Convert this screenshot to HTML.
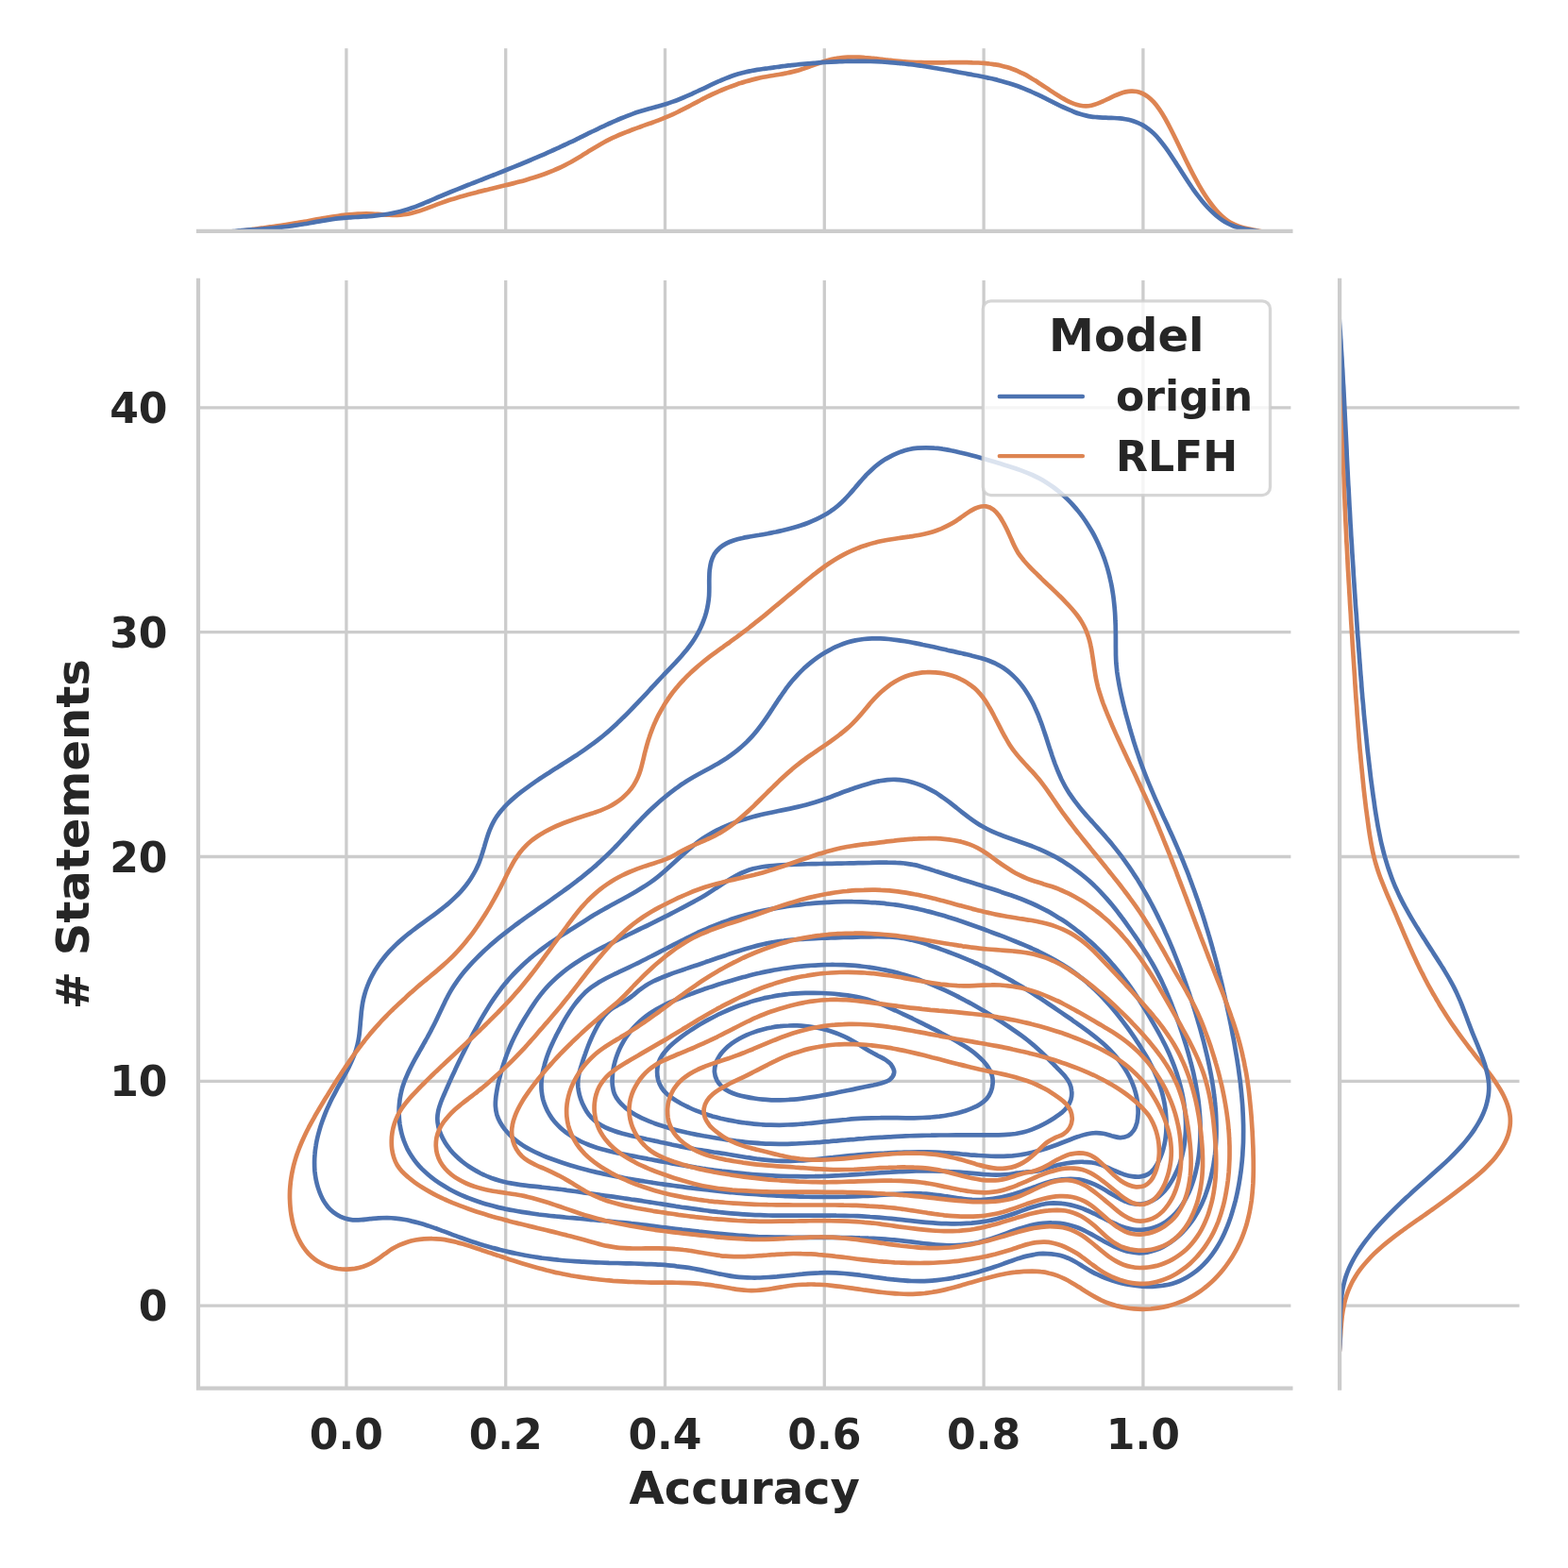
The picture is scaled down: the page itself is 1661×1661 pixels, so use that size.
<!DOCTYPE html>
<html lang="en"><head><meta charset="utf-8"><title>Accuracy vs # Statements</title>
<style>html,body{margin:0;padding:0;background:#fff}svg{display:block}text{font-family:"DejaVu Sans","Liberation Sans",sans-serif;font-weight:bold;fill:#262626}</style></head><body>
<svg xmlns="http://www.w3.org/2000/svg" width="1661" height="1661" viewBox="0 0 1661 1661">
<rect width="1661" height="1661" fill="#fff"/>
<defs><clipPath id="cm"><rect x="210" y="296.9" width="1157.4" height="1173.7"/></clipPath>
<clipPath id="ct"><rect x="210" y="51.2" width="1157.4" height="193.7"/></clipPath>
<clipPath id="cr"><rect x="1419.1" y="296.9" width="190.4" height="1173.7"/></clipPath></defs>
<path d="M366.9,296.9V1470.6M366.9,51.2V244.9M535.7,296.9V1470.6M535.7,51.2V244.9M704.5,296.9V1470.6M704.5,51.2V244.9M873.3,296.9V1470.6M873.3,51.2V244.9M1042.1,296.9V1470.6M1042.1,51.2V244.9M1210.9,296.9V1470.6M1210.9,51.2V244.9M210,1383.1H1367.4M1419.1,1383.1H1609.5M210,1145.3H1367.4M1419.1,1145.3H1609.5M210,907.5H1367.4M1419.1,907.5H1609.5M210,669.7H1367.4M1419.1,669.7H1609.5M210,431.9H1367.4M1419.1,431.9H1609.5" stroke="#cccccc" stroke-width="3.3" fill="none"/>
<g clip-path="url(#cm)"><path d="M356.1,1155.3c1.4-2.7 2.9-5.3 4.3-7.9c1.5-2.7 3-5.3 4.4-7.9c1.4-2.7 2.9-5.3 4.2-8c1.3-2.7 2.6-5.3 3.8-8.1c1.2-2.7 2.3-5.4 3.3-8.2c1-2.8 1.8-5.6 2.5-8.5c.7-2.8 1.3-5.7 1.7-8.7c.5-2.9 .7-5.9 1-8.9c.3-3 .5-6 .8-9c.3-3 .5-6 .8-9c.4-3 .8-6 1.3-8.9c.5-2.9 1.2-5.9 2-8.7c.8-2.9 1.7-5.7 2.8-8.5c1.1-2.8 2.2-5.6 3.5-8.2c1.3-2.7 2.7-5.4 4.2-8c1.6-2.5 3.2-5 4.9-7.5c1.7-2.5 3.5-4.8 5.3-7.1c1.9-2.4 3.9-4.6 5.9-6.8c2-2.1 4.1-4.2 6.2-6.3c2.2-2.1 4.4-4.1 6.6-6c2.3-2 4.6-3.9 6.9-5.8c2.3-1.8 4.7-3.7 7.1-5.5c2.4-1.8 4.8-3.6 7.2-5.3c2.5-1.8 4.9-3.6 7.3-5.4c2.4-1.7 4.9-3.5 7.3-5.3c2.4-1.8 4.8-3.6 7.1-5.4c2.3-1.9 4.6-3.7 6.9-5.7c2.2-1.9 4.5-3.9 6.6-6c2.1-2.1 4.2-4.2 6.2-6.4c2-2.2 3.9-4.5 5.7-6.8c1.8-2.4 3.5-4.8 5.1-7.3c1.6-2.5 3.1-5.1 4.5-7.7c1.4-2.6 2.6-5.4 3.8-8.1c1.1-2.8 2.1-5.7 3-8.5c.9-2.9 1.8-5.9 2.7-8.8c.8-2.9 1.7-5.8 2.6-8.7c.9-2.9 1.8-5.7 2.9-8.5c1.1-2.8 2.2-5.5 3.6-8.1c1.4-2.6 2.9-5.1 4.5-7.5c1.7-2.4 3.5-4.7 5.5-6.9c1.9-2.3 3.9-4.4 6.1-6.5c2.1-2.1 4.4-4.1 6.6-6c2.3-2 4.7-3.9 7-5.7c2.4-1.9 4.8-3.7 7.2-5.4c2.5-1.8 4.9-3.5 7.4-5.2c2.5-1.7 4.9-3.4 7.4-5c2.5-1.7 5.1-3.3 7.6-4.9c2.5-1.7 5-3.3 7.6-4.9c2.5-1.6 5-3.1 7.5-4.8c2.5-1.6 5.1-3.1 7.6-4.8c2.5-1.6 5-3.2 7.5-4.8c2.5-1.7 4.9-3.3 7.4-5c2.4-1.7 4.8-3.4 7.2-5.2c2.4-1.7 4.8-3.5 7.1-5.3c2.4-1.9 4.7-3.7 7-5.6c2.2-1.9 4.5-3.9 6.7-5.9c2.2-2 4.4-4 6.6-6c2.1-2 4.3-4.1 6.4-6.2c2.2-2.1 4.3-4.2 6.4-6.4c2.1-2.1 4.2-4.2 6.2-6.4c2.1-2.2 4.2-4.4 6.2-6.6c2.1-2.1 4.1-4.3 6.2-6.5c2-2.2 4.1-4.4 6.1-6.6c2.1-2.2 4.1-4.4 6.1-6.6c2.1-2.2 4.2-4.4 6.2-6.6c2.1-2.1 4.2-4.3 6.2-6.4c2.1-2.2 4.2-4.4 6.2-6.5c2-2.2 4-4.4 6-6.6c1.9-2.3 3.8-4.5 5.7-6.8c1.8-2.3 3.6-4.7 5.3-7.1c1.7-2.4 3.3-4.9 4.8-7.5c1.5-2.5 2.9-5.2 4.2-7.9c1.3-2.7 2.5-5.5 3.5-8.3c1.1-2.8 2-5.7 2.8-8.6c.8-2.9 1.4-5.8 1.9-8.8c.5-3 .9-5.9 1.1-8.9c.2-3 .2-6 .2-9c0-3-.1-6 0-9c.1-3 .1-6 .4-9c.4-3 .8-6 1.6-8.9c.8-2.8 1.9-5.6 3.3-8.1c1.5-2.4 3.4-4.6 5.6-6.5c2.1-1.9 4.7-3.6 7.3-5c2.6-1.4 5.4-2.4 8.3-3.4c2.9-.9 5.8-1.6 8.8-2.2c2.9-.7 5.9-1.1 8.9-1.7c3-.5 6-1 8.9-1.5c3-.6 5.9-1.1 8.8-1.6c2.9-.6 5.9-1.1 8.8-1.7c2.9-.7 5.8-1.3 8.6-2c2.9-.7 5.8-1.4 8.7-2.2c2.8-.8 5.7-1.6 8.5-2.6c2.9-.9 5.7-1.9 8.5-3c2.8-1.1 5.6-2.3 8.3-3.6c2.7-1.2 5.4-2.6 8-4.1c2.6-1.4 5.2-3 7.6-4.7c2.5-1.6 4.9-3.4 7.1-5.3c2.3-1.9 4.4-4 6.5-6c2.1-2.1 4.1-4.3 6.1-6.5c2-2.2 3.9-4.5 5.9-6.8c1.9-2.2 3.8-4.5 5.8-6.8c2-2.2 4-4.5 6-6.7c2.1-2.1 4.2-4.2 6.5-6.3c2.2-2 4.5-3.9 6.9-5.7c2.4-1.8 4.9-3.5 7.5-5.1c2.6-1.5 5.2-3 7.9-4.3c2.7-1.2 5.5-2.4 8.3-3.4c2.8-.9 5.6-1.7 8.5-2.4c2.9-.6 5.8-1 8.7-1.3c2.9-.3 5.9-.4 8.9-.4c2.9 0 5.9 .1 8.9 .4c3 .2 6 .6 9 1c2.9 .5 5.9 1 8.9 1.6c3 .5 5.9 1.2 8.8 1.9c3 .6 5.9 1.3 8.8 2.1c2.8 .7 5.7 1.5 8.6 2.3c2.8 .8 5.7 1.6 8.5 2.4c2.9 .8 5.7 1.7 8.6 2.5c2.8 .9 5.7 1.7 8.5 2.6c2.9 .9 5.7 1.7 8.6 2.6c2.9 .9 5.7 1.8 8.5 2.8c2.9 1 5.7 2 8.5 3.1c2.8 1 5.6 2.2 8.3 3.4c2.7 1.2 5.4 2.5 8 3.9c2.6 1.4 5.2 2.9 7.7 4.5c2.5 1.6 5 3.3 7.4 5.1c2.4 1.8 4.7 3.6 7 5.6c2.3 1.9 4.5 3.9 6.6 6c2.2 2.1 4.3 4.2 6.3 6.5c2 2.2 3.9 4.4 5.8 6.8c1.9 2.3 3.7 4.7 5.4 7.1c1.7 2.4 3.4 4.9 5 7.4c1.6 2.5 3.1 5 4.6 7.6c1.5 2.6 2.9 5.3 4.2 8c1.3 2.6 2.6 5.4 3.7 8.1c1.2 2.7 2.4 5.5 3.4 8.3c1.1 2.8 2.1 5.6 3 8.5c.9 2.8 1.8 5.7 2.6 8.6c.8 2.8 1.5 5.8 2.1 8.7c.7 2.9 1.3 5.8 1.8 8.8c.5 2.9 1 5.8 1.4 8.8c.4 2.9 .7 5.9 1 8.8c.3 3 .6 6 .8 9c.2 2.9 .3 5.9 .4 8.9c.2 3 .3 6 .3 8.9c.1 3 .1 6 .1 9c0 3 0 6 0 9c.1 3 .1 6 .1 8.9c.1 3 .2 6 .4 9c.3 2.9 .6 5.9 .9 8.9c.4 2.9 .9 5.9 1.4 8.8c.5 3 1 5.9 1.6 8.8c.6 3 1.2 5.9 1.9 8.8c.6 2.9 1.3 5.8 2 8.7c.7 2.9 1.5 5.8 2.2 8.7c.8 2.9 1.6 5.8 2.4 8.6c.8 2.9 1.6 5.8 2.4 8.7c.9 2.8 1.7 5.7 2.6 8.5c.8 2.9 1.7 5.8 2.6 8.6c.9 2.9 1.8 5.7 2.8 8.5c.9 2.8 1.9 5.7 2.9 8.5c1 2.8 2 5.6 3.1 8.4c1 2.8 2.1 5.6 3.2 8.3c1.1 2.8 2.2 5.6 3.4 8.3c1.1 2.8 2.3 5.5 3.5 8.2c1.2 2.8 2.3 5.5 3.6 8.3c1.2 2.7 2.4 5.4 3.6 8.1c1.3 2.8 2.5 5.5 3.7 8.2c1.3 2.7 2.5 5.4 3.8 8.1c1.2 2.8 2.5 5.5 3.7 8.2c1.2 2.7 2.5 5.4 3.7 8.2c1.2 2.7 2.4 5.4 3.6 8.2c1.2 2.7 2.3 5.5 3.5 8.2c1.1 2.8 2.3 5.5 3.4 8.3c1.1 2.8 2.2 5.5 3.3 8.3c1.1 2.8 2.2 5.6 3.2 8.4c1.1 2.8 2.1 5.6 3.1 8.4c1 2.8 2.1 5.6 3 8.4c1 2.8 2 5.6 3 8.4c.9 2.9 1.9 5.7 2.8 8.5c1 2.9 1.9 5.7 2.8 8.5c.9 2.9 1.8 5.7 2.6 8.6c.9 2.8 1.8 5.7 2.6 8.5c.9 2.9 1.7 5.8 2.5 8.6c.8 2.9 1.7 5.8 2.4 8.6c.8 2.9 1.6 5.8 2.4 8.7c.8 2.9 1.5 5.8 2.3 8.7c.7 2.9 1.4 5.7 2.1 8.6c.8 2.9 1.5 5.8 2.2 8.7c.7 3 1.4 5.9 2 8.8c.7 2.9 1.4 5.8 2 8.7c.7 2.9 1.3 5.8 1.9 8.8c.7 2.9 1.3 5.8 1.9 8.7c.6 3 1.2 5.9 1.8 8.8c.6 3 1.1 5.9 1.7 8.8c.6 3 1.1 5.9 1.7 8.8c.5 3 1 5.9 1.5 8.8c.5 3 1 5.9 1.5 8.9c.5 2.9 .9 5.9 1.4 8.8c.4 3 .8 5.9 1.2 8.9c.4 3 .8 5.9 1.2 8.9c.3 2.9 .6 5.9 .9 8.9c.3 2.9 .6 5.9 .8 8.9c.3 2.9 .5 5.9 .7 8.9c.1 3 .3 5.9 .4 8.9c.1 3 .2 6 .3 9c0 2.9 .1 5.9 0 8.9c0 3-0 6-.1 9c-.1 3-.3 5.9-.5 8.9c-.1 3-.3 6-.6 8.9c-.2 3-.6 6-.9 9c-.3 2.9-.7 5.9-1.2 8.8c-.4 3-.9 5.9-1.4 8.9c-.5 2.9-1.1 5.8-1.7 8.7c-.6 3-1.3 5.9-2 8.8c-.8 2.9-1.5 5.8-2.4 8.6c-.8 2.9-1.7 5.8-2.6 8.6c-1 2.9-2 5.7-3 8.5c-1.1 2.8-2.2 5.5-3.5 8.3c-1.2 2.7-2.5 5.4-3.9 8c-1.4 2.6-2.9 5.2-4.5 7.8c-1.5 2.5-3.2 4.9-5 7.3c-1.8 2.4-3.7 4.8-5.7 7c-2 2.2-4.1 4.4-6.3 6.4c-2.2 2-4.5 4-6.9 5.7c-2.4 1.8-4.9 3.4-7.4 4.9c-2.6 1.5-5.2 2.8-7.9 3.9c-2.8 1.2-5.6 2.1-8.4 2.9c-2.9 .8-5.8 1.4-8.7 1.8c-3 .5-6 .8-9 1c-3 .2-6 .2-9 .1c-3.1-.1-6.1-.3-9.1-.6c-3-.3-6-.8-9-1.3c-3-.5-5.9-1.1-8.8-1.8c-2.9-.7-5.7-1.5-8.5-2.3c-2.8-.9-5.6-1.9-8.4-3c-2.7-1.1-5.4-2.3-8.1-3.6c-2.7-1.2-5.3-2.6-7.9-4.1c-2.6-1.5-5.1-3.1-7.7-4.7c-2.5-1.5-5.1-3.2-7.7-4.7c-2.6-1.4-5.3-2.8-8-4c-2.8-1.1-5.7-2.1-8.6-2.9c-2.9-.7-5.9-1.2-8.9-1.5c-2.9-.3-5.9-.4-8.9-.4c-2.9 .1-5.8 .4-8.7 .9c-2.9 .4-5.8 1.1-8.7 1.8c-2.8 .7-5.6 1.6-8.5 2.5c-2.8 .9-5.6 1.9-8.5 2.9c-2.8 1-5.6 2.1-8.5 3.1c-2.8 1-5.6 2-8.5 2.9c-2.8 1-5.7 1.9-8.6 2.8c-2.9 .9-5.7 1.8-8.6 2.6c-2.9 .8-5.8 1.6-8.7 2.4c-2.9 .7-5.8 1.4-8.8 2c-2.9 .7-5.8 1.2-8.7 1.8c-3 .5-5.9 1-8.8 1.4c-3 .5-5.9 .8-8.9 1.1c-2.9 .3-5.9 .6-8.8 .7c-3 .2-5.9 .3-8.9 .3c-3 0-5.9-0-8.9-.1c-3-.1-5.9-.3-8.9-.6c-3-.2-5.9-.5-8.9-.8c-3-.3-6-.7-8.9-1c-3-.4-6-.8-9-1.2c-3-.4-5.9-.8-8.9-1.2c-3-.4-6-.8-8.9-1.2c-3-.4-6-.7-9-1.1c-2.9-.3-5.9-.6-8.9-.9c-3-.2-6-.4-8.9-.6c-3-.1-6-.2-8.9-.2c-3-0-6 0-9 .2c-2.9 .1-5.9 .3-8.8 .5c-3 .2-6 .5-9 .8c-2.9 .2-5.9 .6-8.9 .9c-2.9 .3-5.9 .6-8.9 .9c-3 .3-5.9 .6-8.9 .9c-3 .2-6 .5-9 .6c-3 .2-6 .4-8.9 .5c-3 0-6 .1-9 0c-3-0-6-.1-8.9-.3c-3-.2-6-.5-8.9-.9c-3-.3-5.9-.8-8.8-1.4c-3-.5-5.9-1.1-8.8-1.7c-2.9-.6-5.9-1.3-8.8-1.9c-2.9-.6-5.8-1.3-8.8-1.9c-2.9-.5-5.9-1.1-8.8-1.6c-2.9-.5-5.9-1-8.9-1.4c-2.9-.4-5.9-.8-8.8-1.1c-3-.4-5.9-.6-8.9-.9c-3-.3-5.9-.5-8.9-.7c-3-.2-5.9-.3-8.9-.5c-3-.1-6-.2-9-.4c-2.9-.1-5.9-.2-8.9-.3c-3-.1-6-.1-9-.2c-3-.1-6-.2-9-.3c-2.9-.1-5.9-.2-8.9-.2c-3-.1-6-.2-9-.3c-3-.1-6-.2-9-.4c-3-.1-5.9-.2-8.9-.4c-3-.2-6-.3-9-.5c-3-.2-5.9-.4-8.9-.7c-3-.2-5.9-.5-8.9-.8c-3-.3-5.9-.6-8.9-1c-3-.3-5.9-.7-8.9-1.1c-2.9-.5-5.9-.9-8.8-1.4c-2.9-.5-5.9-1-8.8-1.5c-2.9-.5-5.8-1.1-8.7-1.7c-3-.6-5.9-1.2-8.8-1.9c-2.9-.7-5.8-1.4-8.7-2.1c-2.9-.7-5.7-1.5-8.6-2.3c-2.9-.8-5.8-1.6-8.6-2.4c-2.9-.9-5.7-1.8-8.6-2.7c-2.8-.9-5.7-1.9-8.5-2.8c-2.9-1-5.7-2.1-8.5-3.1c-2.8-1-5.6-2.1-8.4-3.1c-2.8-1.1-5.7-2.2-8.5-3.2c-2.8-1-5.6-2.1-8.4-3.1c-2.9-1-5.7-1.9-8.5-2.9c-2.8-.9-5.6-1.8-8.5-2.6c-2.9-.8-5.7-1.6-8.6-2.2c-2.8-.7-5.7-1.3-8.6-1.8c-2.9-.5-5.8-.9-8.8-1.2c-2.9-.3-5.9-.5-8.8-.6c-3-0-6 .1-9 .3c-3.1 .2-6.1 .6-9.2 .9c-3 .3-6.1 .8-9.1 1c-3.1 .2-6.1 .3-9 .1c-3-.3-5.9-.9-8.7-1.8c-2.8-.9-5.5-2.1-8-3.7c-2.5-1.5-4.9-3.3-7-5.4c-2.1-2-4-4.4-5.6-6.9c-1.7-2.4-3.1-5.2-4.3-7.9c-1.3-2.8-2.3-5.7-3.2-8.5c-.9-2.9-1.6-5.8-2.2-8.7c-.6-3-1-5.9-1.3-8.9c-.2-2.9-.3-5.9-.3-8.9c-0-2.9 .1-5.9 .4-8.9c.2-3 .6-6 1.1-8.9c.4-3 1-5.9 1.7-8.8c.7-3 1.5-5.9 2.3-8.7c.8-2.9 1.8-5.7 2.8-8.5c1-2.8 2-5.6 3.1-8.3c1.1-2.8 2.3-5.5 3.6-8.2c1.2-2.7 2.5-5.4 3.8-8c1.4-2.7 2.8-5.3 4.2-8Z" stroke="#4c72b0" stroke-width="4.7" fill="none" stroke-linejoin="round" stroke-linecap="round"/>
<path d="M425.4,1155.3c.7-2.9 1.6-5.7 2.6-8.5c1-2.8 2.2-5.6 3.4-8.3c1.2-2.8 2.5-5.5 3.8-8.1c1.4-2.7 2.8-5.4 4.2-8c1.5-2.7 3-5.3 4.5-7.9c1.4-2.6 2.9-5.2 4.4-7.8c1.5-2.6 2.9-5.3 4.4-7.9c1.4-2.6 2.9-5.2 4.2-7.9c1.4-2.6 2.8-5.3 4.1-7.9c1.4-2.7 2.6-5.4 3.9-8.2c1.3-2.7 2.5-5.4 3.8-8.1c1.3-2.7 2.6-5.4 3.9-8.1c1.4-2.6 2.8-5.3 4.3-7.9c1.5-2.6 3.1-5.1 4.7-7.6c1.7-2.5 3.4-5 5.2-7.4c1.8-2.4 3.7-4.8 5.6-7.1c1.9-2.3 3.9-4.6 5.9-6.8c2-2.2 4.1-4.4 6.2-6.5c2.1-2.1 4.2-4.2 6.4-6.3c2.1-2.1 4.3-4.1 6.6-6.1c2.2-2 4.5-3.9 6.7-5.8c2.3-2 4.6-3.9 6.9-5.7c2.4-1.9 4.7-3.7 7.1-5.6c2.4-1.8 4.8-3.6 7.2-5.4c2.4-1.8 4.8-3.5 7.2-5.3c2.4-1.8 4.9-3.5 7.3-5.2c2.5-1.8 4.9-3.5 7.4-5.2c2.5-1.8 4.9-3.5 7.4-5.2c2.5-1.7 4.9-3.4 7.4-5.2c2.4-1.7 4.9-3.4 7.3-5.2c2.5-1.7 4.9-3.4 7.4-5.2c2.4-1.8 4.8-3.5 7.2-5.3c2.4-1.8 4.8-3.6 7.2-5.4c2.4-1.9 4.7-3.7 7-5.6c2.4-1.9 4.7-3.8 7-5.7c2.3-1.9 4.5-3.9 6.8-5.8c2.2-2 4.4-4 6.6-6.1c2.2-2 4.4-4 6.5-6.1c2.1-2.1 4.2-4.2 6.3-6.4c2.1-2.1 4.2-4.3 6.2-6.5c2-2.2 4.1-4.4 6.1-6.6c2-2.2 4-4.5 6.1-6.7c2-2.2 4-4.4 6.1-6.6c2.1-2.2 4.2-4.3 6.3-6.5c2.1-2.1 4.2-4.2 6.4-6.3c2.2-2 4.4-4.1 6.6-6.1c2.2-2 4.5-4 6.8-5.9c2.3-1.9 4.6-3.8 6.9-5.7c2.4-1.8 4.8-3.6 7.2-5.4c2.4-1.7 4.8-3.5 7.3-5.1c2.5-1.7 5-3.3 7.6-4.8c2.5-1.5 5.1-3 7.8-4.5c2.6-1.5 5.2-2.9 7.8-4.3c2.7-1.4 5.3-2.8 7.9-4.3c2.6-1.5 5.3-2.9 7.9-4.5c2.5-1.5 5.1-3.1 7.6-4.7c2.5-1.7 5-3.4 7.4-5.3c2.4-1.8 4.7-3.7 7-5.7c2.3-1.9 4.5-4 6.7-6.1c2.1-2.1 4.2-4.3 6.2-6.5c2-2.2 3.8-4.5 5.7-6.9c1.8-2.3 3.6-4.7 5.3-7.1c1.8-2.4 3.5-4.9 5.1-7.3c1.7-2.5 3.3-5 5-7.5c1.6-2.5 3.2-5 4.9-7.5c1.6-2.5 3.3-4.9 5-7.4c1.7-2.5 3.5-4.9 5.2-7.3c1.8-2.4 3.7-4.8 5.6-7.1c2-2.3 4-4.5 6-6.7c2.1-2.2 4.3-4.4 6.5-6.5c2.2-2 4.5-4 6.9-6c2.3-1.9 4.7-3.7 7.2-5.5c2.4-1.7 4.9-3.4 7.5-4.9c2.6-1.6 5.2-3.1 7.9-4.4c2.6-1.4 5.3-2.6 8.1-3.7c2.7-1.1 5.5-2.1 8.3-3c2.9-.9 5.7-1.6 8.6-2.2c2.9-.6 5.8-1 8.7-1.4c3-.3 5.9-.5 8.9-.6c2.9-.1 5.9-.1 8.9 0c3 .2 6.1 .4 9.1 .6c3 .3 6 .7 9 1.1c3 .4 6 .9 9.1 1.4c3 .5 5.9 1.1 8.9 1.6c3 .6 6 1.2 8.9 1.9c3 .6 5.9 1.2 8.8 1.8c2.9 .7 5.8 1.3 8.7 1.9c2.8 .7 5.7 1.3 8.6 2c2.9 .6 5.8 1.3 8.7 1.9c2.9 .7 5.8 1.4 8.7 2c2.9 .7 5.9 1.3 8.8 2.1c3 .7 5.9 1.4 8.8 2.2c2.9 .9 5.8 1.8 8.6 2.8c2.8 1.1 5.6 2.2 8.2 3.6c2.7 1.3 5.3 2.8 7.8 4.5c2.4 1.7 4.8 3.5 7.1 5.4c2.3 2 4.4 4.1 6.5 6.3c2 2.2 4 4.5 5.8 6.9c1.8 2.3 3.5 4.8 5.1 7.3c1.6 2.5 3.1 5 4.5 7.7c1.5 2.6 2.8 5.2 4 8c1.3 2.7 2.4 5.4 3.6 8.2c1.1 2.8 2.1 5.6 3.2 8.4c1 2.9 2 5.7 2.9 8.6c1 2.9 2 5.7 2.9 8.6c.9 2.9 1.8 5.8 2.8 8.7c.9 2.8 1.9 5.7 2.8 8.6c1 2.8 2 5.7 3 8.5c1.1 2.8 2.2 5.6 3.3 8.3c1.2 2.8 2.4 5.5 3.6 8.2c1.3 2.6 2.7 5.3 4.1 7.8c1.5 2.6 3 5.1 4.6 7.6c1.7 2.5 3.4 4.9 5.1 7.3c1.8 2.4 3.6 4.7 5.5 7c1.9 2.4 3.8 4.6 5.8 6.9c2 2.3 4 4.5 6 6.8c2 2.2 4 4.5 6.1 6.7c2 2.3 4 4.5 6.1 6.8c2 2.2 4 4.5 5.9 6.8c2 2.2 3.9 4.5 5.8 6.9c1.9 2.3 3.8 4.7 5.6 7c1.8 2.4 3.6 4.8 5.4 7.2c1.8 2.5 3.5 4.9 5.2 7.3c1.7 2.5 3.4 5 5 7.5c1.7 2.5 3.3 5 4.9 7.5c1.5 2.5 3.1 5.1 4.6 7.7c1.5 2.5 3 5.1 4.5 7.7c1.5 2.6 2.9 5.2 4.3 7.9c1.5 2.6 2.8 5.3 4.2 7.9c1.4 2.7 2.7 5.4 4 8.1c1.3 2.7 2.6 5.4 3.9 8.1c1.3 2.7 2.5 5.4 3.7 8.2c1.3 2.7 2.5 5.4 3.7 8.2c1.1 2.8 2.3 5.5 3.5 8.3c1.1 2.8 2.2 5.6 3.3 8.3c1.1 2.8 2.2 5.6 3.3 8.4c1.1 2.8 2.2 5.6 3.2 8.4c1.1 2.8 2.1 5.7 3.1 8.5c1 2.8 2 5.6 3 8.5c1 2.8 2 5.6 2.9 8.5c1 2.8 1.9 5.6 2.8 8.5c.9 2.8 1.8 5.7 2.7 8.5c.9 2.9 1.7 5.8 2.6 8.7c.8 2.8 1.7 5.7 2.5 8.6c.8 2.9 1.6 5.8 2.3 8.6c.8 3 1.6 5.8 2.3 8.8c.7 2.9 1.4 5.8 2.1 8.7c.7 2.9 1.4 5.8 2 8.8c.6 2.9 1.3 5.8 1.8 8.8c.6 2.9 1.2 5.9 1.7 8.8c.5 3 1 5.9 1.4 8.9c.5 3 .9 5.9 1.2 8.9c.4 3 .8 5.9 1 8.9c.3 3 .6 6 .8 9c.2 3 .3 6 .4 9c.1 3 .2 6 .2 9c0 3-0 6-.1 8.9c-.1 3-.3 6-.5 9c-.2 3-.5 6-.8 8.9c-.4 3-.8 6-1.3 8.9c-.4 3-1 5.9-1.6 8.8c-.6 3-1.2 5.9-2 8.8c-.8 2.9-1.6 5.8-2.5 8.7c-.9 2.9-1.9 5.7-2.9 8.5c-1.1 2.8-2.2 5.6-3.5 8.4c-1.2 2.7-2.6 5.4-4 8c-1.4 2.6-3 5.2-4.6 7.7c-1.6 2.5-3.4 4.9-5.2 7.2c-1.9 2.4-3.8 4.7-5.9 6.8c-2 2.2-4.2 4.2-6.5 6.2c-2.3 2-4.8 3.8-7.3 5.5c-2.5 1.7-5.1 3.3-7.8 4.7c-2.7 1.4-5.5 2.6-8.3 3.6c-2.8 1-5.7 1.7-8.5 2.2c-2.9 .5-5.8 .8-8.7 .7c-2.9-0-5.9-.4-8.7-1c-2.9-.5-5.8-1.3-8.7-2.3c-2.8-1-5.7-2.2-8.5-3.4c-2.7-1.3-5.5-2.7-8.2-4.1c-2.7-1.4-5.3-2.9-8-4.4c-2.6-1.5-5.2-3-7.9-4.5c-2.6-1.4-5.2-2.8-7.9-4.1c-2.7-1.2-5.4-2.5-8.2-3.5c-2.8-1-5.6-1.8-8.5-2.5c-2.9-.7-5.9-1.2-8.9-1.6c-3-.3-6-.5-9-.5c-3-.1-6 .1-9 .4c-2.9 .3-5.8 .7-8.7 1.3c-2.9 .6-5.8 1.3-8.7 2.1c-2.8 .8-5.7 1.7-8.5 2.6c-2.9 1-5.7 2-8.6 3c-2.8 1-5.7 2.1-8.5 3.1c-2.9 1.1-5.7 2.1-8.6 3.1c-2.9 1-5.8 1.9-8.7 2.8c-2.9 .8-5.8 1.7-8.7 2.4c-3 .6-5.9 1.2-8.8 1.7c-2.9 .5-5.9 .8-8.8 1c-3 .3-5.9 .4-8.9 .4c-3 0-5.9-0-8.9-.2c-3-.1-5.9-.3-8.9-.6c-3-.2-6-.6-8.9-.9c-3-.3-6-.7-9-1.1c-3-.3-6-.7-9-1.1c-2.9-.4-5.9-.8-8.9-1.1c-3-.3-6-.6-9-.9c-3-.2-6-.5-9-.7c-3-.2-6-.4-9-.6c-3-.2-6-.3-9-.4c-3-.2-6-.3-9-.3c-3-.1-5.9-.2-8.9-.3c-3-0-6-.1-9-.1c-3-0-6-0-9-.1c-3 0-6 0-9 0c-3-0-6-0-9 0c-3-0-6-0-9 0c-3-0-6-0-9 0c-3-.1-6-.1-9-.1c-3 0-6-0-9-.1c-2.9-0-5.9-.1-8.9-.1c-3-.1-6-.2-9-.3c-3-.1-6-.2-9-.3c-3-.2-5.9-.3-8.9-.5c-3-.2-6-.4-9-.6c-3-.2-6-.5-8.9-.7c-3-.2-6-.5-9-.8c-3-.2-5.9-.5-8.9-.8c-3-.3-6-.6-9-1c-3-.3-5.9-.6-8.9-.9c-3-.4-6-.7-9-1.1c-2.9-.3-5.9-.7-8.9-1c-3-.4-5.9-.7-8.9-1.1c-3-.3-6-.7-8.9-1.1c-3-.3-6-.7-9-1.1c-3-.3-5.9-.7-8.9-1.1c-3-.3-6-.7-8.9-1c-3-.3-6-.7-9-1c-3-.4-5.9-.7-8.9-1c-3-.3-6-.6-9-.9c-3-.3-5.9-.6-8.9-.9c-3-.3-6-.5-9-.8c-2.9-.3-5.9-.5-8.9-.8c-3-.2-6-.5-8.9-.8c-3-.2-6-.5-9-.8c-3-.2-5.9-.5-8.9-.8c-3-.3-6-.6-9-.9c-2.9-.3-5.9-.6-8.9-1c-3-.3-6-.7-8.9-1c-3-.4-6-.8-8.9-1.3c-3-.4-6-.8-8.9-1.3c-3-.5-5.9-1-8.9-1.6c-2.9-.5-5.9-1.1-8.8-1.7c-2.9-.7-5.8-1.3-8.7-2c-3-.7-5.9-1.5-8.7-2.3c-2.9-.8-5.8-1.7-8.6-2.6c-2.9-.9-5.7-1.9-8.5-2.9c-2.8-1-5.6-2.1-8.4-3.3c-2.8-1.2-5.5-2.4-8.2-3.7c-2.7-1.3-5.4-2.6-8-4.1c-2.7-1.5-5.3-3-7.8-4.6c-2.5-1.6-5-3.3-7.4-5c-2.5-1.8-4.8-3.6-7.1-5.6c-2.3-2-4.5-4-6.7-6.1c-2.1-2.1-4.1-4.4-6-6.7c-1.9-2.3-3.6-4.7-5.2-7.2c-1.6-2.5-3.1-5.1-4.5-7.7c-1.3-2.7-2.4-5.5-3.5-8.3c-1-2.8-1.9-5.6-2.6-8.5c-.7-3-1.3-5.9-1.8-8.9c-.4-3-.7-6-.8-9c-.1-3-.1-6 0-9c.2-3 .5-6 .9-9c.5-3 1.1-5.9 1.8-8.8Z" stroke="#4c72b0" stroke-width="4.7" fill="none" stroke-linejoin="round" stroke-linecap="round"/>
<path d="M470.4,1159.5c1.2-2.8 2.4-5.5 3.6-8.3c1.3-2.8 2.5-5.5 3.7-8.3c1.3-2.7 2.5-5.4 3.8-8.1c1.2-2.8 2.5-5.5 3.8-8.2c1.3-2.6 2.6-5.3 3.9-8c1.3-2.7 2.6-5.4 3.9-8c1.4-2.7 2.7-5.3 4.1-8c1.4-2.6 2.7-5.3 4.1-7.9c1.4-2.7 2.9-5.3 4.3-7.9c1.5-2.7 2.9-5.3 4.4-7.9c1.5-2.6 3-5.2 4.6-7.7c1.6-2.6 3.2-5.2 4.8-7.7c1.6-2.5 3.3-5 5-7.4c1.7-2.5 3.5-4.9 5.3-7.3c1.8-2.4 3.6-4.7 5.5-7c2-2.3 3.9-4.6 5.9-6.8c2-2.2 4.1-4.4 6.2-6.5c2.1-2.1 4.2-4.2 6.4-6.3c2.2-2 4.4-4 6.7-6c2.3-1.9 4.6-3.9 6.9-5.7c2.4-1.9 4.7-3.8 7.1-5.5c2.4-1.8 4.9-3.6 7.3-5.3c2.5-1.7 4.9-3.4 7.4-5c2.5-1.7 5-3.3 7.6-4.9c2.5-1.6 5-3.2 7.5-4.8c2.6-1.6 5.1-3.2 7.6-4.8c2.6-1.6 5.1-3.2 7.6-4.8c2.5-1.6 5.1-3.2 7.6-4.8c2.6-1.5 5.1-3.1 7.7-4.6c2.6-1.5 5.2-2.9 7.9-4.4c2.6-1.4 5.2-2.8 7.9-4.3c2.6-1.4 5.2-2.8 7.9-4.3c2.6-1.4 5.2-2.8 7.8-4.3c2.6-1.5 5.2-2.9 7.8-4.5c2.6-1.5 5.1-3 7.6-4.6c2.5-1.6 5-3.3 7.5-5c2.4-1.7 4.8-3.5 7.1-5.3c2.4-1.9 4.7-3.8 7-5.8c2.2-1.9 4.5-3.9 6.7-5.9c2.2-2 4.4-4.1 6.6-6.1c2.3-2.1 4.5-4.1 6.7-6.1c2.2-2 4.5-4 6.8-6c2.2-1.9 4.6-3.8 6.9-5.6c2.4-1.9 4.8-3.6 7.2-5.3c2.5-1.7 5-3.3 7.6-4.8c2.6-1.5 5.2-2.9 7.9-4.3c2.6-1.3 5.3-2.6 8.1-3.8c2.7-1.2 5.5-2.4 8.3-3.4c2.8-1.1 5.6-2.1 8.5-3.1c2.8-.9 5.7-1.8 8.6-2.6c2.9-.9 5.8-1.7 8.7-2.4c2.9-.7 5.9-1.4 8.8-2.1c2.9-.6 5.8-1.2 8.8-1.8c2.9-.6 5.8-1.2 8.7-1.8c3-.6 5.9-1.2 8.8-1.8c2.9-.6 5.9-1.3 8.7-2c2.9-.6 5.9-1.3 8.7-2.1c2.9-.8 5.8-1.6 8.6-2.5c2.9-.9 5.7-1.8 8.5-2.8c2.9-1 5.7-2 8.5-3c2.8-1.1 5.6-2.2 8.4-3.2c2.8-1.1 5.6-2.2 8.5-3.2c2.8-1 5.6-2.1 8.4-3.1c2.9-1 5.7-1.9 8.6-2.8c2.8-.9 5.7-1.7 8.6-2.5c2.9-.7 5.8-1.4 8.7-2c3-.5 5.9-1 8.9-1.3c3-.3 6-.4 8.9-.3c3 .1 6 .5 9 1c2.9 .5 5.8 1.2 8.7 2c2.9 .8 5.7 1.8 8.5 2.8c2.8 1.1 5.5 2.3 8.2 3.7c2.6 1.3 5.3 2.8 7.8 4.3c2.6 1.6 5 3.3 7.5 5c2.5 1.7 4.9 3.5 7.3 5.3c2.4 1.9 4.7 3.8 7.1 5.6c2.4 1.9 4.7 3.8 7.1 5.6c2.4 1.9 4.7 3.8 7.2 5.5c2.4 1.8 4.8 3.5 7.3 5.1c2.5 1.7 5.1 3.2 7.6 4.6c2.6 1.5 5.3 2.8 8 4c2.7 1.3 5.5 2.4 8.2 3.5c2.8 1.1 5.6 2.2 8.4 3.2c2.8 1 5.7 2 8.5 3c2.9 1 5.7 2 8.5 3c2.9 1 5.7 2 8.5 3c2.8 1.1 5.7 2.2 8.4 3.4c2.8 1.2 5.5 2.4 8.2 3.7c2.7 1.3 5.3 2.7 8 4.1c2.6 1.4 5.2 2.9 7.8 4.4c2.5 1.6 5 3.2 7.5 4.8c2.5 1.7 4.9 3.4 7.3 5.2c2.4 1.7 4.8 3.5 7.1 5.4c2.3 1.9 4.6 3.8 6.9 5.8c2.2 2 4.4 4 6.5 6.1c2.2 2.1 4.2 4.2 6.3 6.4c2.1 2.2 4.1 4.4 6 6.6c2 2.3 4 4.6 5.9 6.9c1.9 2.3 3.7 4.7 5.6 7c1.8 2.4 3.7 4.8 5.4 7.2c1.8 2.4 3.6 4.9 5.3 7.3c1.8 2.5 3.5 4.9 5.2 7.4c1.7 2.5 3.4 4.9 5.1 7.4c1.6 2.5 3.3 5 4.9 7.5c1.6 2.5 3.2 5.1 4.8 7.6c1.5 2.5 3.1 5.1 4.6 7.7c1.5 2.6 3 5.1 4.4 7.8c1.4 2.6 2.8 5.2 4.2 7.9c1.3 2.6 2.7 5.3 3.9 8c1.3 2.8 2.5 5.5 3.7 8.2c1.2 2.8 2.4 5.6 3.5 8.4c1.2 2.7 2.3 5.5 3.3 8.3c1.1 2.8 2.2 5.6 3.2 8.4c1 2.8 2.1 5.6 3.1 8.4c1 2.8 1.9 5.7 2.9 8.5c1 2.8 1.9 5.6 2.8 8.4c.9 2.9 1.8 5.8 2.7 8.6c.8 2.9 1.7 5.8 2.5 8.7c.8 2.8 1.6 5.7 2.3 8.7c.8 2.9 1.5 5.8 2.2 8.7c.7 2.9 1.3 5.9 1.9 8.8c.6 3 1.2 5.9 1.7 8.9c.5 2.9 1 5.9 1.4 8.9c.5 2.9 .9 5.9 1.2 8.9c.3 2.9 .6 5.9 .8 8.9c.3 3 .5 6 .6 8.9c.1 3 .2 6 .2 9c-0 2.9-.1 5.9-.2 8.9c-.1 3-.3 5.9-.6 8.9c-.2 3-.5 6-.9 8.9c-.4 3-.9 5.9-1.4 8.9c-.6 2.9-1.2 5.9-1.9 8.8c-.7 2.9-1.5 5.8-2.4 8.7c-.9 2.9-1.9 5.7-3 8.5c-1.1 2.8-2.3 5.6-3.7 8.2c-1.3 2.7-2.8 5.4-4.4 8c-1.6 2.5-3.3 5-5.2 7.3c-1.9 2.3-3.9 4.5-6.1 6.5c-2.1 2-4.5 3.9-7 5.6c-2.4 1.6-5.1 3-7.8 4.2c-2.7 1.2-5.6 2.2-8.5 2.9c-2.9 .7-5.9 1.2-8.8 1.4c-3 .1-6-0-8.9-.4c-3-.4-5.9-1.2-8.7-2c-2.9-.9-5.8-2-8.6-3.2c-2.8-1.1-5.5-2.4-8.3-3.7c-2.7-1.3-5.3-2.7-8-4c-2.7-1.3-5.3-2.7-8-4c-2.7-1.2-5.4-2.5-8.2-3.6c-2.7-1.2-5.5-2.3-8.4-3.2c-2.8-.9-5.7-1.7-8.7-2.4c-2.9-.7-5.9-1.2-8.9-1.5c-3-.4-6-.5-8.9-.5c-3 .1-5.9 .4-8.8 .8c-2.9 .5-5.8 1.2-8.6 2c-2.9 .7-5.7 1.7-8.6 2.6c-2.8 1-5.6 2.1-8.5 3.1c-2.8 1-5.7 2.1-8.6 3.1c-2.8 .9-5.7 1.9-8.7 2.8c-2.9 .9-5.8 1.7-8.7 2.4c-2.9 .8-5.9 1.5-8.8 2c-3 .6-5.9 1.1-8.8 1.5c-3 .4-5.9 .7-8.9 1c-2.9 .2-5.9 .4-8.9 .5c-2.9 .1-5.9 .2-8.8 .2c-3-0-6-.1-8.9-.2c-3-.1-6-.2-9-.4c-3-.2-5.9-.4-8.9-.7c-3-.2-6-.5-8.9-.8c-3-.3-6-.6-9-.9c-3-.3-6-.7-9-1c-3-.3-5.9-.7-8.9-1c-3-.3-6-.6-9-.9c-3-.3-6-.6-9-.9c-3-.2-6-.4-9-.6c-3-.2-6-.4-8.9-.6c-3-.1-6-.3-9-.4c-3-0-6-.1-9-.2c-3-.1-6-.1-9-.1c-3-.1-6-.1-9-.1c-3-0-6-0-8.9 0c-3-0-6 0-9 0c-3 0-6 0-9 .1c-3-0-6-0-9 0c-3-0-6-0-8.9 0c-3-0-6-.1-9-.1c-3-0-6-.1-9-.1c-3-.1-5.9-.2-8.9-.3c-3-.1-6-.2-9-.4c-3-.1-5.9-.3-8.9-.5c-3-.2-6-.4-9-.7c-2.9-.2-5.9-.5-8.9-.8c-3-.3-5.9-.6-8.9-.9c-3-.4-6-.7-9-1.1c-2.9-.4-5.9-.7-8.9-1.1c-3-.4-5.9-.8-8.9-1.3c-3-.4-5.9-.8-8.9-1.3c-3-.4-5.9-.9-8.9-1.3c-3-.5-5.9-.9-8.9-1.4c-3-.4-5.9-.9-8.9-1.4c-3-.4-5.9-.9-8.9-1.4c-2.9-.4-5.9-.9-8.8-1.4c-3-.4-6-.8-8.9-1.3c-3-.4-5.9-.9-8.9-1.3c-2.9-.4-5.9-.8-8.8-1.3c-3-.4-5.9-.8-8.9-1.2c-3-.4-5.9-.8-8.9-1.2c-2.9-.5-5.9-.9-8.9-1.3c-2.9-.4-5.9-.9-8.9-1.3c-2.9-.4-5.9-.8-8.9-1.3c-2.9-.4-5.9-.8-8.9-1.2c-3-.4-5.9-.8-8.9-1.1c-3-.4-6-.7-8.9-1c-3-.4-6-.7-8.9-1c-3-.4-6-.7-9-1c-2.9-.3-5.9-.7-8.9-1.1c-2.9-.3-5.9-.7-8.9-1.2c-2.9-.4-5.9-.9-8.8-1.5c-3-.7-5.9-1.3-8.7-2.2c-2.9-.8-5.8-1.7-8.6-2.7c-2.8-1.1-5.6-2.2-8.3-3.5c-2.7-1.2-5.4-2.6-8-4.1c-2.6-1.4-5.2-3-7.6-4.6c-2.5-1.7-4.9-3.5-7.2-5.3c-2.3-1.9-4.6-3.9-6.7-6c-2.1-2.1-4.2-4.3-6.1-6.6c-1.8-2.4-3.7-4.9-5.3-7.5c-1.6-2.6-3.1-5.3-4.3-8.1c-1.2-2.8-2.2-5.6-2.9-8.5c-.6-2.8-1.1-5.8-1.1-8.7c0-2.8 .4-5.7 1-8.6c.6-2.9 1.6-5.7 2.6-8.5c1-2.9 2.3-5.7 3.5-8.5Z" stroke="#4c72b0" stroke-width="4.7" fill="none" stroke-linejoin="round" stroke-linecap="round"/>
<path d="M526.5,1154.3c.5-2.9 1.1-5.9 1.8-8.8c.7-3 1.4-5.9 2.2-8.7c.8-2.9 1.6-5.8 2.5-8.6c.9-2.9 1.9-5.7 2.9-8.5c1-2.8 2.1-5.5 3.2-8.3c1.1-2.7 2.3-5.4 3.5-8.1c1.3-2.7 2.6-5.4 3.9-8c1.4-2.6 2.8-5.2 4.2-7.8c1.5-2.6 3-5.2 4.5-7.7c1.5-2.6 3.1-5.1 4.7-7.6c1.6-2.6 3.2-5.1 4.9-7.6c1.7-2.5 3.4-5 5.2-7.4c1.8-2.5 3.7-4.9 5.6-7.2c1.9-2.2 3.9-4.5 5.9-6.6c2-2.1 4.1-4.2 6.3-6.2c2.2-2 4.4-3.9 6.7-5.8c2.2-1.9 4.6-3.7 6.9-5.5c2.4-1.7 4.8-3.4 7.3-5.1c2.4-1.6 4.9-3.2 7.4-4.8c2.5-1.6 5.1-3.1 7.7-4.6c2.6-1.5 5.2-2.9 7.8-4.4c2.6-1.4 5.3-2.8 8-4.2c2.6-1.3 5.3-2.7 8-4c2.7-1.3 5.4-2.6 8.1-4c2.7-1.3 5.4-2.6 8.1-3.8c2.7-1.3 5.4-2.6 8.1-3.9c2.7-1.3 5.4-2.6 8-3.9c2.7-1.3 5.4-2.6 8-3.9c2.7-1.3 5.3-2.6 8-3.9c2.6-1.3 5.3-2.6 7.9-4c2.7-1.3 5.3-2.6 7.9-4c2.7-1.3 5.3-2.7 7.9-4.1c2.7-1.4 5.3-2.8 7.9-4.2c2.7-1.4 5.3-2.8 7.9-4.2c2.7-1.5 5.3-2.9 7.9-4.4c2.6-1.6 5.1-3.1 7.7-4.7c2.5-1.6 4.9-3.2 7.4-4.9c2.5-1.6 5-3.3 7.4-4.9c2.5-1.6 5-3.3 7.6-4.8c2.5-1.5 5.1-3 7.8-4.3c2.6-1.4 5.3-2.6 8.1-3.7c2.7-1.1 5.5-2.1 8.4-2.9c2.8-.7 5.8-1.3 8.7-1.8c2.9-.5 5.9-.9 8.9-1.2c2.9-.3 5.9-.5 8.9-.7c3-.2 6-.4 9-.6c2.9-.1 5.9-.2 8.9-.4c3-.1 5.9-.2 8.9-.2c3-.1 5.9-.2 8.9-.3c3-0 6-.1 8.9-.1c3-.1 6-.1 8.9-.2c3-0 6-.1 9-.2c2.9 0 5.9-.1 8.9-.1c3-.1 6-.1 8.9-.2c3-.1 6-.1 9-.2c3-.1 5.9-.2 8.9-.2c3-.1 6-.2 8.9-.2c3-0 6-.1 9 0c3-0 5.9 0 8.9 .2c3 .1 5.9 .3 8.9 .6c2.9 .4 5.9 .8 8.8 1.4c2.9 .5 5.8 1.2 8.6 2c2.9 .8 5.8 1.7 8.6 2.6c2.9 .9 5.7 1.9 8.5 2.8c2.9 .9 5.7 1.8 8.5 2.7c2.9 1 5.7 1.9 8.6 2.8c2.8 .8 5.6 1.7 8.5 2.6c2.8 .9 5.6 1.8 8.5 2.7c2.8 .8 5.7 1.7 8.5 2.6c2.8 .9 5.7 1.8 8.5 2.7c2.9 .9 5.7 1.8 8.5 2.7c2.9 .9 5.7 1.8 8.5 2.8c2.9 .9 5.7 1.9 8.5 2.9c2.8 .9 5.6 2 8.4 3c2.8 1 5.6 2.1 8.4 3.2c2.7 1.2 5.5 2.3 8.2 3.5c2.7 1.2 5.4 2.5 8 3.8c2.7 1.3 5.3 2.7 8 4.1c2.6 1.4 5.1 2.9 7.7 4.5c2.5 1.5 5 3.1 7.5 4.7c2.5 1.6 5 3.3 7.4 5c2.4 1.8 4.8 3.5 7.2 5.4c2.3 1.8 4.7 3.6 7 5.5c2.2 1.9 4.5 3.9 6.7 5.9c2.3 1.9 4.5 4 6.6 6c2.2 2.1 4.3 4.2 6.4 6.3c2.1 2.1 4.2 4.3 6.2 6.5c2 2.2 4 4.4 5.9 6.7c2 2.2 3.9 4.5 5.8 6.8c1.9 2.3 3.7 4.6 5.5 7c1.9 2.3 3.6 4.7 5.4 7.1c1.7 2.4 3.4 4.9 5.1 7.3c1.7 2.4 3.3 4.9 4.9 7.4c1.7 2.5 3.2 5 4.8 7.5c1.6 2.5 3.2 5.1 4.7 7.6c1.6 2.6 3.1 5.1 4.6 7.7c1.5 2.6 3 5.2 4.5 7.8c1.5 2.6 3 5.2 4.4 7.9c1.4 2.6 2.8 5.2 4.1 7.9c1.4 2.6 2.7 5.3 3.9 7.9c1.3 2.7 2.5 5.4 3.6 8.1c1.1 2.7 2.2 5.5 3.3 8.2c1 2.8 2 5.6 3 8.4c.9 2.9 1.8 5.7 2.6 8.6c.8 2.9 1.6 5.8 2.3 8.7c.7 2.9 1.3 5.8 1.9 8.8c.5 2.9 1 5.9 1.4 8.9c.4 2.9 .8 5.9 1 8.9c.2 3 .4 5.9 .5 8.9c0 3 0 6-.1 8.9c-.1 3-.4 5.9-.7 8.9c-.3 2.9-.7 5.8-1.2 8.7c-.6 2.9-1.2 5.8-1.9 8.7c-.8 2.8-1.7 5.7-2.6 8.5c-1 2.8-2.1 5.6-3.4 8.3c-1.2 2.7-2.5 5.5-4 8.1c-1.5 2.6-3.1 5.2-4.9 7.6c-1.8 2.4-3.7 4.8-5.8 6.8c-2.1 2.1-4.4 4.1-6.8 5.7c-2.5 1.6-5.2 3.1-7.9 4.1c-2.8 1-5.7 1.8-8.6 2c-2.9 .3-5.9 0-8.7-.6c-2.9-.5-5.7-1.7-8.5-2.8c-2.7-1.2-5.4-2.7-8-4.2c-2.6-1.5-5.2-3.1-7.8-4.6c-2.5-1.6-5.1-3.2-7.7-4.6c-2.6-1.5-5.3-3-8-4.2c-2.6-1.2-5.4-2.3-8.2-3.2c-2.8-.9-5.6-1.5-8.6-2c-2.9-.4-5.9-.6-8.8-.6c-3-0-6 .2-9 .5c-3 .4-6 .9-8.9 1.6c-2.9 .6-5.8 1.5-8.6 2.3c-2.8 .9-5.6 1.9-8.4 2.9c-2.8 1-5.6 2.1-8.4 3.1c-2.8 1-5.6 2-8.4 3c-2.8 .9-5.7 1.8-8.6 2.7c-2.8 .8-5.7 1.6-8.6 2.3c-2.9 .8-5.8 1.4-8.8 1.9c-2.9 .6-5.8 1-8.8 1.3c-2.9 .3-5.9 .6-8.8 .6c-2.9 .1-5.9 0-8.8-.1c-3-.2-5.9-.5-8.9-.9c-2.9-.3-5.9-.7-8.8-1.2c-3-.4-5.9-.9-8.9-1.4c-3-.4-5.9-.9-8.9-1.3c-3-.4-5.9-.8-8.9-1.1c-2.9-.3-5.9-.5-8.9-.6c-2.9-.2-5.9-.2-8.9-.2c-3 0-5.9 .1-8.9 .2c-3 .1-5.9 .3-8.9 .4c-3 .2-5.9 .4-8.9 .6c-3 .2-6 .4-8.9 .6c-3 .2-6 .4-9 .6c-3 .2-5.9 .3-8.9 .4c-3 .2-6 .3-8.9 .4c-3 .1-6 .2-9 .3c-2.9 0-5.9 .1-8.9 .1c-3 .1-5.9 .1-8.9 .1c-3 0-6 0-8.9 0c-3 0-6-0-9-.1c-3-0-5.9-.1-8.9-.1c-3-.1-5.9-.2-8.9-.3c-3-.1-6-.2-8.9-.3c-3-.1-6-.3-9-.4c-2.9-.2-5.9-.3-8.9-.5c-2.9-.2-5.9-.3-8.9-.5c-3-.2-5.9-.4-8.9-.7c-3-.2-5.9-.4-8.9-.7c-3-.2-5.9-.4-8.9-.7c-3-.3-5.9-.5-8.9-.8c-3-.3-5.9-.6-8.9-.9c-3-.3-5.9-.6-8.9-.9c-2.9-.4-5.9-.7-8.9-1c-2.9-.4-5.9-.7-8.8-1.1c-3-.4-5.9-.7-8.9-1.1c-3-.4-5.9-.8-8.9-1.2c-2.9-.4-5.9-.8-8.8-1.2c-3-.4-5.9-.8-8.9-1.2c-2.9-.5-5.9-.9-8.8-1.3c-3-.5-5.9-.9-8.8-1.4c-3-.5-5.9-.9-8.8-1.4c-3-.5-5.9-1-8.9-1.5c-2.9-.6-5.8-1.1-8.7-1.7c-2.9-.5-5.9-1.1-8.8-1.7c-2.9-.6-5.8-1.2-8.7-1.8c-2.9-.7-5.8-1.3-8.7-2c-2.9-.7-5.8-1.4-8.6-2.2c-2.9-.7-5.8-1.5-8.6-2.3c-2.9-.8-5.8-1.6-8.6-2.5c-2.9-.9-5.7-1.8-8.5-2.7c-2.9-.9-5.7-1.9-8.5-2.9c-2.8-1-5.6-2-8.4-3.1c-2.8-1.1-5.6-2.3-8.3-3.5c-2.8-1.2-5.5-2.5-8.1-3.9c-2.6-1.4-5.2-2.8-7.7-4.4c-2.5-1.5-5-3.2-7.3-5c-2.3-1.8-4.6-3.8-6.7-5.8c-2.1-2.1-4.2-4.3-6.1-6.7c-1.8-2.4-3.6-4.9-5-7.5c-1.4-2.6-2.6-5.4-3.5-8.2c-.8-2.8-1.2-5.7-1.4-8.6c-.2-2.9 0-5.9 .3-8.8c.2-3 .8-6 1.3-9Z" stroke="#4c72b0" stroke-width="4.7" fill="none" stroke-linejoin="round" stroke-linecap="round"/>
<path d="M593.8,1088.1c1.4-2.7 2.9-5.3 4.4-7.9c1.5-2.6 3.1-5.2 4.7-7.7c1.6-2.5 3.3-5 5.1-7.5c1.8-2.4 3.6-4.7 5.5-6.9c2-2.3 4-4.4 6.1-6.5c2.2-2 4.4-3.9 6.8-5.7c2.4-1.8 4.9-3.4 7.4-5c2.6-1.5 5.3-3 7.9-4.4c2.7-1.4 5.4-2.7 8.1-4c2.7-1.3 5.4-2.5 8.1-3.8c2.7-1.3 5.4-2.6 8.1-3.9c2.6-1.2 5.3-2.5 8-3.8c2.6-1.3 5.3-2.6 7.9-4c2.7-1.3 5.3-2.7 8-4c2.6-1.4 5.3-2.8 8-4.1c2.6-1.4 5.3-2.8 7.9-4.2c2.7-1.4 5.4-2.8 8-4.1c2.7-1.4 5.4-2.8 8-4.1c2.7-1.3 5.4-2.7 8.1-4c2.7-1.3 5.4-2.6 8.1-3.9c2.7-1.2 5.4-2.5 8.1-3.7c2.8-1.2 5.5-2.4 8.3-3.5c2.7-1.1 5.5-2.2 8.3-3.3c2.8-1 5.6-2 8.4-3c2.8-1 5.6-1.9 8.4-2.8c2.9-.9 5.7-1.7 8.6-2.5c2.9-.8 5.7-1.6 8.6-2.3c2.9-.8 5.8-1.5 8.7-2.1c2.9-.7 5.8-1.3 8.7-1.9c3-.6 5.9-1.1 8.8-1.6c3-.5 5.9-1 8.9-1.5c2.9-.4 5.9-.9 8.8-1.2c3-.4 6-.8 9-1.1c2.9-.4 5.9-.7 8.9-.9c3-.3 6-.6 9-.8c3-.2 6-.4 8.9-.6c3-.1 6-.3 9-.4c3-.1 6-.2 9-.2c3-0 6-.1 9 0c3 0 6 .1 9 .2c3 .1 5.9 .2 8.9 .4c3 .1 6 .4 8.9 .6c3 .3 6 .5 8.9 .9c3 .3 5.9 .7 8.9 1.1c2.9 .4 5.9 .9 8.8 1.4c2.9 .5 5.8 1 8.7 1.6c2.9 .6 5.8 1.2 8.7 1.9c2.9 .6 5.8 1.3 8.7 2.1c2.9 .7 5.7 1.5 8.6 2.3c2.8 .8 5.7 1.6 8.6 2.4c2.8 .9 5.7 1.8 8.5 2.7c2.8 .9 5.7 1.8 8.5 2.8c2.9 .9 5.7 1.9 8.5 2.9c2.8 1 5.7 2 8.5 3c2.8 1 5.6 2 8.5 3c2.8 1.1 5.6 2.1 8.4 3.2c2.8 1 5.6 2.1 8.5 3.2c2.8 1 5.6 2.1 8.4 3.2c2.8 1.1 5.6 2.2 8.3 3.4c2.8 1.1 5.6 2.2 8.3 3.4c2.8 1.2 5.5 2.4 8.3 3.6c2.7 1.3 5.4 2.5 8.1 3.8c2.6 1.3 5.3 2.7 7.9 4c2.7 1.4 5.3 2.8 7.9 4.2c2.5 1.5 5.1 3 7.6 4.5c2.5 1.6 5 3.2 7.5 4.8c2.5 1.7 4.9 3.4 7.3 5.1c2.3 1.8 4.7 3.6 7 5.4c2.3 1.9 4.6 3.8 6.8 5.8c2.2 1.9 4.4 4 6.6 6c2.2 2.1 4.3 4.2 6.4 6.3c2.1 2.2 4.1 4.3 6.1 6.6c2 2.2 4 4.4 6 6.7c1.9 2.3 3.9 4.6 5.8 7c1.8 2.3 3.7 4.7 5.5 7.1c1.8 2.4 3.6 4.8 5.4 7.2c1.8 2.5 3.5 4.9 5.2 7.4c1.7 2.5 3.4 5 5 7.5c1.7 2.5 3.3 5 4.8 7.5c1.6 2.5 3.2 5.1 4.6 7.6c1.5 2.6 3 5.2 4.3 7.8c1.4 2.6 2.7 5.3 4 7.9c1.2 2.7 2.4 5.4 3.5 8.2c1.1 2.8 2.1 5.5 3 8.4c.9 2.8 1.8 5.7 2.5 8.6c.7 2.9 1.4 5.9 1.9 8.8c.5 3 1 6 1.3 9c.3 3 .5 6 .7 8.9c.1 3 .1 6 0 8.9c-.1 3-.3 5.9-.7 8.8c-.3 3-.8 5.9-1.5 8.8c-.6 2.9-1.4 5.8-2.4 8.7c-1 2.8-2.2 5.9-3.6 8.6c-1.4 2.7-3 5.5-4.9 7.8c-1.8 2.2-3.9 4.3-6.3 5.7c-2.3 1.4-5.1 2.1-7.9 2.5c-2.8 .4-5.9 .2-8.9-.3c-3-.4-6.1-1.3-9.1-2.2c-2.9-1-5.8-2.2-8.6-3.4c-2.8-1.2-5.5-2.5-8.2-3.7c-2.8-1.1-5.4-2.3-8.2-3.2c-2.8-.9-5.6-1.6-8.5-2.1c-2.9-.4-5.9-.7-8.8-.7c-3-.1-6 0-9 .3c-3 .2-6 .6-9 1.1c-3 .5-6 1.2-8.9 1.9c-2.9 .8-5.8 1.6-8.7 2.5c-2.8 .8-5.5 1.8-8.4 2.6c-2.8 .7-5.6 1.4-8.5 1.8c-3 .5-6 .4-9 .7c-3 .2-6 .7-9 1c-3 .4-5.9 1-8.9 1.3c-3 .3-5.9 .4-8.9 .5c-3 .1-5.9 .1-8.9 0c-3-.1-6-.3-8.9-.5c-3-.2-6-.5-9-.8c-2.9-.3-5.9-.6-8.9-.9c-3-.2-5.9-.5-8.9-.8c-3-.2-6-.4-9-.5c-3-.2-5.9-.3-8.9-.4c-3-.1-6-.2-9-.2c-2.9-.1-5.9-.1-8.9-.1c-3 .1-6 .1-9 .2c-2.9 .1-5.9 .2-8.9 .3c-3 .1-6 .2-8.9 .4c-3 .1-6 .3-9 .5c-3 .1-5.9 .3-8.9 .5c-3 .2-6 .4-9 .6c-2.9 .2-5.9 .4-8.9 .7c-3 .2-6 .4-8.9 .6c-3 .2-6 .4-9 .6c-3 .1-5.9 .3-8.9 .5c-3 .1-6 .3-8.9 .4c-3 .2-6 .3-9 .4c-3 .1-6 .1-8.9 .2c-3 0-6 .1-9 .1c-3-0-6-0-9-.1c-2.9 0-5.9-0-8.9-.1c-3-.1-6-.2-9-.3c-3-.1-5.9-.2-8.9-.4c-3-.1-6-.3-9-.5c-2.9-.2-5.9-.4-8.9-.6c-3-.2-5.9-.5-8.9-.8c-3-.2-6-.5-8.9-.8c-3-.3-6-.6-8.9-1c-3-.3-5.9-.7-8.9-1c-3-.4-5.9-.8-8.9-1.2c-2.9-.4-5.9-.8-8.8-1.3c-3-.4-5.9-.9-8.9-1.3c-2.9-.5-5.9-1-8.8-1.5c-3-.5-5.9-1-8.8-1.5c-3-.5-5.9-1-8.9-1.5c-2.9-.6-5.8-1.1-8.8-1.6c-2.9-.6-5.8-1.1-8.8-1.7c-2.9-.5-5.8-1.1-8.8-1.7c-2.9-.5-5.9-1.1-8.8-1.6c-2.9-.6-5.9-1.2-8.8-1.8c-3-.5-5.9-1.1-8.8-1.7c-2.9-.6-5.9-1.2-8.8-1.8c-2.9-.7-5.8-1.4-8.7-2.2c-2.9-.7-5.7-1.5-8.6-2.4c-2.8-.9-5.6-1.9-8.4-2.9c-2.7-1.1-5.5-2.2-8.2-3.5c-2.7-1.3-5.3-2.7-7.9-4.2c-2.6-1.5-5.1-3.2-7.6-4.9c-2.4-1.8-4.7-3.7-6.9-5.7c-2.2-2-4.3-4.2-6.2-6.4c-1.9-2.3-3.7-4.7-5.2-7.3c-1.6-2.5-3-5.2-4.1-7.9c-1.2-2.8-2.2-5.6-3-8.5c-.7-2.9-1.2-5.9-1.5-8.9c-.3-2.9-.3-5.9-.2-8.9c.2-3 .5-6 1-8.9c.5-3 1.2-5.9 2-8.8c.7-2.9 1.6-5.8 2.5-8.6c1-2.8 2-5.5 3.1-8.3c1.1-2.7 2.4-5.4 3.6-8.1c1.2-2.7 2.6-5.4 3.9-8.1c1.4-2.6 2.8-5.3 4.2-7.9Z" stroke="#4c72b0" stroke-width="4.7" fill="none" stroke-linejoin="round" stroke-linecap="round"/>
<path d="M662.4,1060.3c2.6-1.7 5-3.5 7.4-5.3c2.4-1.9 4.6-3.9 7-5.8c2.4-1.8 4.7-3.7 7.3-5.3c2.5-1.6 5.2-3 7.9-4.4c2.7-1.3 5.6-2.5 8.4-3.7c2.8-1.1 5.6-2.2 8.4-3.3c2.9-1.1 5.7-2.1 8.6-3.1c2.8-1 5.6-2 8.5-2.9c2.9-1 5.7-2 8.6-2.9c2.9-1 5.7-1.9 8.6-2.9c2.8-1 5.7-2 8.6-2.9c2.8-1 5.7-2 8.5-3c2.9-1 5.8-2 8.7-2.9c2.8-1 5.7-2 8.6-2.9c2.9-.9 5.8-1.9 8.6-2.7c2.9-.9 5.8-1.8 8.7-2.6c3-.8 5.9-1.6 8.8-2.3c2.9-.7 5.9-1.4 8.8-2c3-.6 5.9-1.2 8.9-1.7c3-.5 6-.9 9-1.2c3-.4 6-.7 9-1c3.1-.3 6.1-.5 9.1-.7c3-.2 6.1-.3 9.1-.5c3-.1 6.1-.2 9.1-.4c3-.1 6-.2 9-.3c3-.1 6.1-.2 9.1-.3c3-.1 6-.2 9-.3c3-.1 6-.1 9.1-.2c3-.1 6-.2 9-.3c3.1-.1 6.1-.2 9.1-.2c3.1-.1 6.1-.1 9.1-.1c3.1-0 6.1 0 9.1 .1c3 .2 6.1 .3 9.1 .6c3 .3 5.9 .7 8.9 1.1c3 .5 5.9 1.2 8.9 1.8c2.9 .7 5.8 1.5 8.7 2.3c2.9 .9 5.8 1.8 8.7 2.8c2.9 .9 5.7 1.9 8.6 2.9c2.9 1 5.7 2.1 8.5 3.1c2.9 1.1 5.7 2.1 8.6 3.2c2.8 1.1 5.6 2.2 8.4 3.3c2.8 1.2 5.6 2.3 8.4 3.5c2.8 1.1 5.6 2.3 8.4 3.6c2.7 1.2 5.5 2.4 8.2 3.7c2.8 1.2 5.5 2.5 8.2 3.8c2.7 1.4 5.4 2.7 8.1 4.1c2.7 1.4 5.4 2.8 8 4.2c2.7 1.5 5.3 2.9 7.9 4.4c2.7 1.5 5.3 3 7.9 4.6c2.5 1.6 5.1 3.2 7.7 4.8c2.6 1.6 5.1 3.2 7.7 4.9c2.5 1.6 5 3.3 7.6 4.9c2.5 1.7 5 3.4 7.5 5.1c2.5 1.7 5 3.4 7.5 5.1c2.5 1.7 5 3.4 7.5 5.1c2.5 1.7 5 3.4 7.5 5.1c2.4 1.8 4.9 3.5 7.4 5.3c2.4 1.7 4.9 3.5 7.3 5.3c2.5 1.8 4.9 3.6 7.3 5.4c2.4 1.9 4.7 3.8 7 5.7c2.3 2 4.6 3.9 6.8 6c2.2 2.1 4.4 4.2 6.4 6.4c2.1 2.2 4.1 4.5 6 6.9c1.9 2.3 3.7 4.8 5.4 7.3c1.8 2.5 3.4 5.1 4.9 7.7c1.5 2.7 2.9 5.4 4.1 8.1c1.2 2.7 2.3 5.5 3.3 8.4c.9 2.8 1.8 5.7 2.4 8.6c.6 2.9 1.1 5.9 1.4 8.9c.3 3 .4 6.1 .3 9.2c-.2 3.1-.4 6.3-1.1 9.3c-.8 3-1.8 6-3.4 8.5c-1.6 2.4-3.8 4.7-6.3 6c-2.4 1.4-5.5 1.9-8.4 1.8c-2.8 0-5.9-1.2-8.8-1.9c-3-.8-6-2-9.1-2.5c-3-.5-6-.7-9-.5c-2.9 .1-5.9 .7-8.8 1.3c-3 .7-5.9 1.6-8.7 2.6c-2.9 .9-5.7 2-8.5 3.1c-2.8 1.1-5.6 2.2-8.5 3.3c-2.8 1.1-5.6 2.2-8.5 3.2c-2.8 1-5.7 2-8.6 3c-2.9 .9-5.8 1.8-8.7 2.6c-3 .8-5.9 1.6-8.9 2.2c-2.9 .7-5.9 1.2-8.8 1.7c-3 .5-6 .8-9 1.1c-3 .2-6 .4-9 .5c-3 .1-6 .1-9 0c-3 0-6-.1-9-.3c-3-.1-6.1-.3-9.1-.5c-3-.2-6-.5-9.1-.7c-3-.3-6-.5-9.1-.8c-3-.3-6-.6-9.1-.8c-3-.2-6-.5-9-.7c-3.1-.2-6.1-.3-9.1-.5c-3-.1-6.1-.2-9.1-.2c-3-0-6-0-9 0c-3.1 0-6.1 .1-9.1 .2c-3 0-6 .2-9 .3c-3 .1-6.1 .2-9.1 .3c-3 .2-6 .3-9 .5c-3 .1-6.1 .3-9.1 .5c-3 .2-6 .4-9 .6c-3 .2-6 .4-9.1 .6c-3 .3-6 .6-9 .9c-3 .3-6 .6-9 .9c-3.1 .4-6.1 .7-9.1 1.1c-3 .3-6 .6-9 1c-3 .3-6 .6-9.1 .9c-3 .3-6 .6-9 .8c-3 .3-6 .5-9 .6c-3 .2-6 .3-9.1 .4c-3 0-6 .1-9 0c-3-.1-6-.2-9-.4c-3-.2-6-.5-9-.8c-3.1-.3-6.1-.8-9.1-1.2c-3-.4-6-.9-9-1.3c-3-.5-6-1-9-1.5c-3-.5-6-1-9-1.5c-3-.5-6-.9-8.9-1.4c-3-.4-6-.9-9-1.3c-3-.5-6-.9-8.9-1.4c-3-.5-6-.9-9-1.4c-2.9-.5-5.9-1-8.9-1.6c-2.9-.5-5.9-1.1-8.9-1.7c-2.9-.6-5.9-1.3-8.9-1.9c-2.9-.7-5.9-1.3-8.8-2c-3-.6-6-1.3-8.9-1.9c-3-.7-5.9-1.3-8.9-1.9c-3-.7-5.9-1.3-8.9-1.9c-2.9-.7-5.9-1.3-8.8-2c-2.9-.7-5.8-1.5-8.8-2.3c-2.9-.8-5.8-1.7-8.6-2.8c-2.9-1-5.8-2.1-8.5-3.4c-2.7-1.3-5.4-2.7-7.8-4.4c-2.5-1.7-4.8-3.7-6.9-5.8c-2-2.2-3.9-4.6-5.5-7.2c-1.6-2.5-3-5.3-4.3-8.1c-1.2-2.8-2.2-5.8-3-8.7c-.8-3-1.3-6-1.6-8.9c-.2-3-.1-6 .2-9c.4-3 1.1-5.9 1.9-8.8c.8-2.9 1.8-5.8 2.7-8.7c1-2.9 1.9-5.8 3-8.6c1-2.9 2-5.7 3.1-8.6c1.1-2.8 2.3-5.6 3.5-8.3c1.3-2.8 2.6-5.5 4-8.2c1.4-2.7 2.8-5.3 4.4-7.9c1.6-2.5 3.3-5.1 5.2-7.4c1.9-2.2 4-4.4 6.4-6.2c2.3-1.8 5.1-3.2 7.7-4.8c2.6-1.5 5.4-2.8 8-4.4Z" stroke="#4c72b0" stroke-width="4.7" fill="none" stroke-linejoin="round" stroke-linecap="round"/>
<path d="M674.2,1085.3c2.1-2.1 4.3-4.1 6.6-6c2.2-1.8 4.6-3.6 7-5.3c2.4-1.7 4.9-3.2 7.4-4.7c2.6-1.5 5.2-2.9 7.8-4.3c2.7-1.3 5.4-2.6 8.1-3.8c2.8-1.2 5.5-2.4 8.3-3.5c2.8-1.1 5.6-2.2 8.5-3.3c2.8-1 5.6-2.1 8.4-3.1c2.9-1 5.7-2 8.5-3c2.8-1 5.7-1.9 8.5-2.9c2.8-.9 5.7-1.9 8.5-2.8c2.8-.9 5.6-1.8 8.5-2.6c2.8-.9 5.7-1.8 8.5-2.6c2.9-.8 5.7-1.6 8.6-2.4c2.9-.7 5.7-1.5 8.6-2.2c2.9-.7 5.8-1.4 8.7-2c2.9-.7 5.8-1.3 8.8-1.9c2.9-.5 5.8-1.1 8.8-1.6c2.9-.5 5.9-1 8.8-1.5c3-.4 6-.8 9-1.2c2.9-.4 5.9-.7 8.9-1c3-.3 6-.6 9-.8c3-.2 5.9-.4 8.9-.5c3-.1 6-.2 9-.3c3-0 6-.1 9 0c3 0 6 .1 9 .2c2.9 .1 5.9 .3 8.9 .5c3 .2 5.9 .5 8.9 .8c3 .3 5.9 .7 8.9 1.1c2.9 .4 5.8 .9 8.8 1.4c2.9 .5 5.8 1 8.7 1.6c2.9 .7 5.8 1.3 8.7 2c2.9 .7 5.8 1.5 8.6 2.3c2.9 .8 5.7 1.7 8.6 2.6c2.8 .9 5.6 1.8 8.4 2.8c2.8 1 5.6 2.1 8.4 3.1c2.8 1.1 5.6 2.2 8.3 3.4c2.8 1.1 5.5 2.3 8.2 3.5c2.8 1.2 5.5 2.5 8.2 3.8c2.7 1.3 5.4 2.6 8.1 4c2.6 1.3 5.3 2.7 7.9 4.1c2.7 1.4 5.3 2.9 8 4.3c2.6 1.5 5.2 3 7.8 4.5c2.6 1.5 5.1 3 7.7 4.6c2.6 1.5 5.1 3.1 7.6 4.7c2.6 1.6 5.1 3.2 7.6 4.8c2.5 1.6 5 3.3 7.5 4.9c2.4 1.7 4.9 3.3 7.3 5c2.5 1.7 4.9 3.4 7.3 5.2c2.3 1.7 4.7 3.5 7 5.3c2.3 1.9 4.6 3.8 6.9 5.7c2.2 2 4.4 4 6.6 6c2.2 2.1 4.3 4.2 6.4 6.3c2.2 2.1 4.3 4.3 6.4 6.4c2.1 2.2 4.2 4.3 6.3 6.5c2.1 2.2 4.4 4.3 6.2 6.6c1.8 2.3 3.7 4.7 4.9 7.4c1.2 2.6 2 5.7 2.2 8.6c.3 3 0 6.2-.8 8.9c-.8 2.8-2.2 5.3-3.9 7.6c-1.6 2.4-3.9 4.4-6.1 6.4c-2.3 1.9-5 3.6-7.5 5.3c-2.6 1.7-5.3 3.3-7.9 4.8c-2.7 1.5-5.3 2.9-8 4.2c-2.7 1.2-5.4 2.4-8.2 3.4c-2.8 1.1-5.5 2-8.4 2.7c-2.8 .7-5.7 1.2-8.6 1.7c-3 .4-5.9 .7-8.9 .9c-3 .2-6 .3-9 .4c-3 .1-6 .1-9 .1c-3 0-6 0-9 0c-3 0-6 0-9 0c-3 0-6 0-9 0c-3 0-6 0-8.9 0c-3 0-6 0-9 .1c-3-0-5.9 0-8.9 0c-3 .1-6 .1-8.9 .2c-3 0-6 .1-9 .1c-2.9 .1-5.9 .2-8.9 .3c-3 .1-5.9 .2-8.9 .3c-3 .2-6 .3-9 .4c-3 .2-5.9 .3-8.9 .5c-3 .2-6 .3-9 .5c-3 .2-5.9 .4-8.9 .6c-3 .2-6 .4-9 .7c-3 .2-5.9 .4-8.9 .7c-3 .2-6 .5-8.9 .7c-3 .3-6 .5-9 .8c-2.9 .3-5.9 .5-8.9 .8c-3 .2-5.9 .5-8.9 .7c-3 .2-5.9 .5-8.9 .7c-3 .2-6 .4-9 .5c-2.9 .2-5.9 .4-8.9 .5c-3 .1-5.9 .2-8.9 .3c-3 0-6 0-9 0c-3 0-5.9-0-8.9-.1c-3-.1-6-.2-9-.4c-3-.1-5.9-.3-8.9-.6c-3-.2-6-.5-8.9-.8c-3-.3-5.9-.7-8.9-1.1c-3-.4-5.9-.8-8.9-1.2c-2.9-.5-5.9-.9-8.8-1.4c-3-.4-5.9-.9-8.9-1.4c-2.9-.5-5.9-1-8.8-1.5c-3-.6-5.9-1.1-8.8-1.7c-2.9-.6-5.9-1.2-8.8-1.8c-2.9-.7-5.8-1.4-8.7-2.1c-2.9-.7-5.8-1.5-8.6-2.3c-2.9-.8-5.7-1.7-8.6-2.6c-2.8-.9-5.6-1.8-8.4-2.8c-2.8-1.1-5.6-2.1-8.4-3.3c-2.7-1.2-5.5-2.4-8.1-3.8c-2.6-1.4-5.2-2.9-7.7-4.5c-2.5-1.7-5-3.5-7.3-5.5c-2.2-2-4.6-4.1-6.4-6.5c-1.8-2.3-3.5-4.9-4.6-7.6c-1.1-2.6-1.6-5.5-2-8.4c-.4-2.9-.4-5.9-.2-8.8c.1-3 .4-5.9 .9-8.9c.5-2.9 1.2-5.8 2-8.7c.8-2.9 1.8-5.8 2.9-8.6c1.1-2.8 2.4-5.6 3.8-8.2c1.4-2.7 3-5.4 4.6-7.9c1.7-2.5 3.5-5 5.3-7.3c1.9-2.3 3.9-4.6 6-6.7Z" stroke="#4c72b0" stroke-width="4.7" fill="none" stroke-linejoin="round" stroke-linecap="round"/>
<path d="M727.5,1094.1c2.5-1.6 5-3.3 7.5-4.9c2.5-1.6 5-3.1 7.6-4.7c2.6-1.5 5.2-3 7.8-4.4c2.6-1.4 5.3-2.8 8-4.1c2.6-1.4 5.3-2.7 8.1-3.9c2.7-1.2 5.4-2.4 8.2-3.6c2.8-1.1 5.5-2.2 8.3-3.2c2.8-1 5.7-2 8.5-2.9c2.9-1 5.7-1.8 8.6-2.6c2.9-.8 5.8-1.6 8.7-2.3c2.9-.6 5.8-1.3 8.7-1.8c2.9-.6 5.9-1.1 8.8-1.5c3-.5 5.9-.8 8.9-1.2c3-.3 5.9-.5 8.9-.7c3-.2 6-.3 9-.4c2.9-.1 5.9-.1 8.9-.1c3 0 6 .1 9 .2c3 .1 6 .3 9 .5c3 .2 6 .5 8.9 .8c3 .3 6 .7 8.9 1.1c3 .5 5.9 1 8.8 1.5c3 .6 5.9 1.3 8.8 2c2.8 .7 5.7 1.6 8.5 2.5c2.9 .9 5.7 1.9 8.5 3c2.7 1.1 5.5 2.2 8.2 3.4c2.8 1.2 5.5 2.5 8.2 3.7c2.7 1.3 5.4 2.6 8.1 3.8c2.7 1.3 5.4 2.6 8.1 3.9c2.6 1.3 5.3 2.6 8 4c2.7 1.3 5.4 2.6 8 3.9c2.7 1.4 5.4 2.7 8.1 4.1c2.6 1.3 5.3 2.7 7.9 4.1c2.7 1.3 5.3 2.7 8 4.2c2.6 1.4 5.2 2.8 7.8 4.3c2.5 1.5 5.1 2.9 7.6 4.5c2.6 1.6 5.1 3.2 7.5 4.9c2.4 1.7 4.8 3.5 7.1 5.5c2.3 2 4.6 4.1 6.7 6.3c2 2.3 4 4.7 5.5 7.2c1.6 2.5 2.9 5.2 3.6 8c.8 2.8 1 5.8 .8 8.7c-.2 2.9-.9 6-2 8.7c-1.1 2.7-2.7 5.4-4.6 7.6c-2 2.2-4.4 4-6.9 5.6c-2.5 1.7-5.4 2.9-8.2 4.1c-2.8 1.2-5.7 2.2-8.5 3.2c-2.9 .9-5.8 1.7-8.7 2.4c-2.9 .7-5.8 1.3-8.7 1.8c-2.9 .6-5.8 1-8.8 1.4c-2.9 .3-5.9 .6-8.8 .8c-3 .2-5.9 .4-8.9 .5c-3 .1-6 .2-9 .3c-2.9 0-5.9 0-8.9 0c-3 0-6-0-9-.1c-3 0-6-0-9 0c-3-0-6-.1-9 0c-3-0-6 0-9 .1c-3 .1-6 .2-9 .3c-3 .2-5.9 .4-8.9 .6c-3 .2-6 .5-8.9 .8c-3 .2-6 .5-9 .8c-2.9 .3-5.9 .6-8.9 .9c-2.9 .3-5.9 .7-8.9 1c-3 .3-5.9 .6-8.9 .9c-3 .3-5.9 .5-8.9 .8c-3 .2-5.9 .5-8.9 .7c-3 .2-5.9 .3-8.9 .4c-3 .1-6 .2-8.9 .3c-3-0-6-0-9-.1c-3-.1-6-.2-9-.4c-2.9-.2-5.9-.4-8.9-.7c-3-.3-5.9-.7-8.9-1.1c-3-.3-5.9-.8-8.9-1.3c-2.9-.5-5.9-1-8.8-1.6c-2.9-.6-5.8-1.2-8.7-1.9c-2.9-.8-5.8-1.5-8.7-2.3c-2.8-.9-5.7-1.7-8.5-2.7c-2.8-1-5.6-2-8.4-3.1c-2.8-1.1-5.5-2.3-8.2-3.6c-2.7-1.2-5.4-2.6-8.1-4c-2.6-1.5-5.3-3-7.8-4.7c-2.5-1.7-5-3.4-7.1-5.4c-2.2-2.1-4.2-4.2-5.7-6.7c-1.5-2.5-2.8-5.2-3.6-8.1c-.7-2.8-1.1-6-1.1-8.9c0-3 .5-6.1 1.3-8.9c.9-2.8 2.2-5.5 3.8-8c1.5-2.5 3.5-4.8 5.5-7c2-2.3 4.3-4.3 6.6-6.3c2.3-2 4.6-3.9 7-5.7c2.4-1.8 4.8-3.5 7.2-5.2Z" stroke="#4c72b0" stroke-width="4.7" fill="none" stroke-linejoin="round" stroke-linecap="round"/>
<path d="M799.5,1093.1c2.8-1 5.8-1.8 8.7-2.6c2.9-.8 5.9-1.5 8.9-2c3-.6 6-1 9-1.3c3.1-.4 6.1-.6 9.2-.7c3-.2 6.1-.2 9.1-.1c3.1 .1 6.1 .3 9.1 .6c3.1 .3 6.1 .7 9.1 1.2c3 .5 6 1.1 8.9 1.8c3 .8 5.9 1.6 8.8 2.5c2.9 1 5.8 2 8.6 3.1c2.8 1.2 5.6 2.4 8.3 3.7c2.7 1.4 5.4 2.9 8 4.4c2.6 1.5 5.2 3.2 7.8 4.8c2.5 1.6 5.1 3.2 7.7 4.8c2.7 1.5 5.4 3 8.1 4.4c2.7 1.5 5.6 2.6 8.2 4.3c2.5 1.7 5.2 3.5 7 5.8c1.7 2.4 3.4 5.6 3.2 8.2c-.2 2.6-2.2 5.6-4.4 7.5c-2.1 1.9-5.7 2.9-8.6 3.8c-3 1-6 1.5-9 2.2c-2.9 .6-5.9 1.2-8.8 1.8c-3 .6-6 1.2-9 1.8c-3 .7-5.9 1.3-8.9 1.9c-3 .6-6 1.2-9 1.8c-3 .6-5.9 1.3-8.9 1.8c-3 .6-6 1.2-9 1.7c-3 .6-6 1.1-9 1.6c-3 .5-6 .9-9 1.3c-3 .4-6 .8-9.1 1.1c-3 .3-6.1 .5-9.1 .7c-3.1 .2-6.1 .3-9.2 .4c-3 0-6-0-9.1-.1c-3-.2-6-.4-9-.7c-3-.2-6-.6-9-1.1c-3-.4-6-.9-9-1.6c-3.1-.6-6.2-1.2-9.1-2.2c-2.9-.9-5.9-1.9-8.5-3.3c-2.7-1.4-5.3-3-7.5-5c-2.1-2-4.2-4.5-5.6-7.1c-1.3-2.6-2.3-5.7-2.5-8.7c-.2-2.9 .5-6.3 1.3-9.2c.9-2.9 2.4-5.6 4.1-8.2c1.6-2.5 3.7-4.8 5.8-6.9c2.2-2.2 4.6-4.1 7-5.9c2.5-1.8 5.1-3.4 7.7-4.9c2.7-1.5 5.4-2.8 8.2-4.1c2.7-1.2 5.6-2.3 8.5-3.3Z" stroke="#4c72b0" stroke-width="4.7" fill="none" stroke-linejoin="round" stroke-linecap="round"/>
<path d="M346,1161.6c1.6-2.6 3.1-5.1 4.7-7.7c1.6-2.5 3.2-5.1 4.8-7.6c1.6-2.5 3.2-5 4.9-7.5c1.6-2.5 3.2-5 4.9-7.5c1.6-2.5 3.3-4.9 5-7.4c1.7-2.4 3.4-4.9 5.1-7.3c1.8-2.4 3.6-4.8 5.3-7.1c1.8-2.4 3.6-4.8 5.5-7.1c1.9-2.4 3.7-4.7 5.6-7c1.9-2.2 3.9-4.5 5.9-6.8c2-2.2 4-4.4 6-6.6c2.1-2.2 4.2-4.4 6.3-6.5c2.1-2.2 4.3-4.3 6.4-6.4c2.2-2 4.4-4.1 6.5-6.2c2.2-2 4.4-4 6.6-6c2.2-2.1 4.3-4 6.5-6c2.2-2 4.5-3.9 6.7-5.9c2.3-1.9 4.6-3.8 6.9-5.7c2.3-2 4.6-3.8 6.9-5.8c2.3-1.9 4.7-3.8 6.9-5.8c2.3-2 4.6-3.9 6.8-5.9c2.3-2 4.5-4 6.6-6.1c2.2-2.1 4.3-4.2 6.3-6.4c2.1-2.2 4.1-4.4 6-6.6c2-2.3 3.9-4.5 5.7-6.9c1.9-2.3 3.7-4.6 5.5-7c1.8-2.4 3.5-4.8 5.2-7.3c1.7-2.4 3.4-4.9 5-7.4c1.6-2.5 3.2-5 4.8-7.6c1.5-2.5 3.1-5.1 4.6-7.7c1.5-2.6 2.9-5.2 4.4-7.8c1.4-2.7 2.9-5.3 4.3-8c1.4-2.6 2.7-5.3 4.1-8c1.4-2.7 2.7-5.4 4-8.1c1.4-2.7 2.7-5.4 4.2-8c1.4-2.6 2.8-5.2 4.4-7.8c1.5-2.5 3.2-4.9 4.9-7.3c1.8-2.3 3.6-4.6 5.7-6.7c2-2.1 4.2-4.2 6.5-6.1c2.3-1.9 4.7-3.6 7.2-5.3c2.5-1.7 5.2-3.2 7.8-4.7c2.7-1.5 5.4-2.9 8.1-4.2c2.8-1.3 5.6-2.5 8.3-3.6c2.8-1.2 5.6-2.2 8.3-3.2c2.8-1.1 5.6-2 8.4-3c2.8-.9 5.6-1.8 8.4-2.7c2.8-.9 5.7-1.8 8.6-2.7c2.8-1 5.7-1.9 8.5-3c2.8-1.1 5.6-2.3 8.3-3.6c2.7-1.3 5.3-2.8 7.8-4.5c2.5-1.6 4.9-3.4 7.2-5.3c2.2-2 4.4-4 6.4-6.2c1.9-2.2 3.8-4.6 5.4-7.1c1.6-2.4 3-5 4.3-7.8c1.2-2.7 2.2-5.5 3.1-8.4c.9-2.8 1.6-5.8 2.3-8.7c.8-3 1.4-6 2.1-8.9c.8-2.9 1.5-5.8 2.3-8.6c.8-2.9 1.6-5.7 2.6-8.5c.9-2.8 1.9-5.6 3-8.4c1.1-2.8 2.2-5.6 3.5-8.3c1.2-2.7 2.5-5.4 3.9-8.1c1.4-2.6 2.8-5.3 4.4-7.8c1.5-2.6 3.1-5.2 4.8-7.6c1.7-2.5 3.4-4.9 5.2-7.3c1.9-2.4 3.7-4.7 5.7-6.9c1.9-2.3 3.9-4.5 6-6.6c2-2.2 4.2-4.3 6.3-6.4c2.2-2.1 4.4-4.1 6.6-6c2.3-2 4.6-3.9 6.9-5.8c2.3-1.9 4.7-3.8 7-5.6c2.4-1.8 4.8-3.6 7.2-5.4c2.4-1.7 4.9-3.5 7.3-5.2c2.4-1.8 4.9-3.5 7.3-5.3c2.4-1.7 4.8-3.5 7.2-5.2c2.4-1.8 4.8-3.6 7.2-5.4c2.4-1.8 4.8-3.6 7.1-5.5c2.4-1.8 4.7-3.7 7-5.5c2.4-1.9 4.7-3.8 7-5.6c2.3-1.9 4.6-3.8 6.9-5.7c2.3-1.9 4.6-3.8 6.9-5.8c2.3-1.9 4.6-3.8 6.9-5.7c2.3-1.9 4.6-3.8 6.9-5.8c2.3-1.9 4.6-3.8 6.9-5.7c2.3-1.9 4.6-3.8 6.9-5.7c2.3-1.9 4.6-3.9 6.9-5.7c2.4-1.9 4.7-3.8 7.1-5.6c2.4-1.9 4.7-3.7 7.1-5.4c2.5-1.8 4.9-3.5 7.4-5.2c2.4-1.6 4.9-3.2 7.5-4.8c2.5-1.5 5.1-3 7.7-4.4c2.7-1.4 5.3-2.7 8.1-3.9c2.7-1.3 5.5-2.4 8.2-3.5c2.8-1.1 5.7-2 8.5-3c2.9-.9 5.8-1.7 8.7-2.4c2.9-.8 5.8-1.4 8.7-2c3-.6 5.9-1.1 8.9-1.6c2.9-.5 5.9-.9 8.8-1.3c3-.4 6-.8 8.9-1.2c3-.5 5.9-.9 8.8-1.4c3-.5 5.9-1.1 8.8-1.8c2.9-.7 5.8-1.4 8.6-2.3c2.9-.9 5.7-2 8.5-3.1c2.8-1.2 5.5-2.5 8.2-3.9c2.6-1.4 5.2-2.9 7.7-4.5c2.5-1.6 4.8-3.4 7.3-5.1c2.4-1.7 4.8-3.5 7.4-5.1c2.6-1.5 5.4-3.2 8.2-4c2.8-.9 5.9-1.5 8.7-1.1c2.7 .4 5.6 1.8 7.9 3.5c2.3 1.7 4.3 4.2 6.1 6.6c1.8 2.4 3.3 5.3 4.8 7.9c1.4 2.6 2.8 5.3 4 7.9c1.3 2.7 2.4 5.4 3.7 8.1c1.2 2.8 2.3 5.5 3.7 8.2c1.3 2.6 2.7 5.2 4.3 7.8c1.7 2.5 3.6 4.8 5.5 7.2c1.9 2.3 4 4.5 6.1 6.7c2 2.2 4.2 4.3 6.3 6.4c2.1 2.1 4.2 4.1 6.3 6.2c2.1 2 4.3 4.1 6.4 6.1c2.2 2 4.3 4 6.5 6.1c2.1 2 4.3 4.1 6.4 6.2c2.2 2.1 4.3 4.3 6.4 6.5c2.1 2.1 4.2 4.4 6.2 6.7c2 2.3 4 4.6 5.8 7c1.8 2.4 3.5 4.9 5 7.4c1.5 2.6 2.9 5.2 4.1 7.8c1.2 2.7 2.2 5.5 3.1 8.3c.9 2.8 1.6 5.7 2.2 8.6c.7 2.9 1.1 5.8 1.6 8.8c.5 3 .9 6 1.4 9c.4 2.9 .8 6 1.3 8.9c.4 3 .9 6 1.5 8.9c.6 3 1.3 5.9 2 8.8c.8 2.9 1.7 5.7 2.6 8.5c.9 2.9 1.8 5.7 2.8 8.5c1.1 2.8 2.2 5.5 3.3 8.3c1 2.8 2.2 5.5 3.4 8.2c1.1 2.8 2.3 5.5 3.5 8.3c1.2 2.7 2.4 5.4 3.6 8.1c1.3 2.8 2.5 5.5 3.8 8.2c1.2 2.7 2.5 5.4 3.8 8.1c1.2 2.7 2.5 5.4 3.8 8.2c1.3 2.7 2.6 5.4 3.8 8.1c1.3 2.7 2.6 5.4 3.9 8.1c1.3 2.7 2.6 5.4 3.8 8.1c1.3 2.7 2.6 5.4 3.8 8.2c1.3 2.7 2.5 5.4 3.8 8.1c1.2 2.7 2.5 5.5 3.7 8.2c1.2 2.7 2.4 5.5 3.6 8.2c1.2 2.8 2.3 5.5 3.5 8.2c1.2 2.8 2.3 5.5 3.5 8.3c1.1 2.8 2.3 5.5 3.4 8.3c1.1 2.7 2.2 5.5 3.3 8.3c1.2 2.8 2.3 5.5 3.4 8.3c1.1 2.8 2.2 5.5 3.3 8.3c1 2.8 2.1 5.6 3.2 8.4c1.1 2.7 2.2 5.5 3.2 8.3c1.1 2.8 2.1 5.6 3.2 8.4c1.1 2.8 2.1 5.5 3.2 8.3c1 2.8 2.1 5.6 3.2 8.4c1 2.8 2 5.6 3.1 8.4c1 2.8 2.1 5.6 3.2 8.4c1 2.8 2.1 5.6 3.1 8.4c1.1 2.8 2.1 5.6 3.2 8.4c1 2.8 2.1 5.6 3.1 8.4c1.1 2.8 2.2 5.6 3.3 8.4c1 2.8 2.1 5.6 3.2 8.3c1 2.8 2.1 5.6 3.2 8.4c1.1 2.8 2.2 5.6 3.3 8.4c1.1 2.8 2.2 5.6 3.3 8.4c1.1 2.8 2.2 5.6 3.3 8.4c1.1 2.8 2.2 5.5 3.3 8.3c1 2.8 2.1 5.6 3.1 8.4c1.1 2.8 2.1 5.6 3.1 8.5c1.1 2.8 2.1 5.6 3 8.4c1 2.8 2 5.7 2.9 8.5c.9 2.8 1.8 5.7 2.7 8.5c.9 2.9 1.7 5.7 2.5 8.6c.8 2.8 1.6 5.7 2.3 8.6c.7 2.9 1.4 5.8 2 8.7c.7 2.9 1.3 5.8 1.8 8.7c.6 2.9 1.2 5.8 1.7 8.8c.5 2.9 .9 5.8 1.4 8.8c.4 2.9 .8 5.9 1.2 8.8c.4 3 .7 6 1 8.9c.3 3 .6 6 .9 9c.3 3 .5 6 .8 8.9c.2 3 .4 6 .6 9c.2 3 .4 6 .6 9c.1 3 .3 6.1 .4 9.1c.1 3 .3 6 .4 9c0 3 .1 6 .2 9c.1 3 .1 6.1 .1 9.1c0 3-0 6-.1 9c-.1 3-.2 5.9-.3 8.9c-.2 3-.4 6-.7 8.9c-.2 3-.6 5.9-.9 8.9c-.4 2.9-.9 5.8-1.4 8.7c-.5 2.9-1.1 5.8-1.8 8.7c-.7 2.9-1.4 5.7-2.2 8.6c-.9 2.8-1.8 5.6-2.8 8.4c-1 2.8-2.1 5.6-3.3 8.3c-1.2 2.7-2.5 5.4-3.9 8.1c-1.4 2.7-2.9 5.3-4.4 7.9c-1.6 2.6-3.3 5.1-5 7.6c-1.7 2.5-3.5 4.9-5.4 7.2c-1.9 2.4-3.9 4.6-6 6.8c-2 2.2-4.1 4.4-6.4 6.4c-2.2 2-4.4 4-6.8 5.8c-2.3 1.9-4.7 3.7-7.2 5.3c-2.5 1.7-5 3.2-7.6 4.6c-2.6 1.5-5.3 2.8-8 4c-2.8 1.2-5.5 2.2-8.4 3.2c-2.8 1-5.6 1.8-8.5 2.5c-2.9 .7-5.8 1.3-8.8 1.8c-2.9 .5-5.9 .8-8.9 1.1c-2.9 .2-5.9 .3-8.9 .3c-3 0-6-.1-9-.4c-2.9-.2-5.9-.6-8.9-1.1c-2.9-.5-5.8-1.2-8.7-1.9c-2.9-.8-5.8-1.7-8.6-2.7c-2.8-1-5.6-2.2-8.3-3.4c-2.7-1.3-5.4-2.7-8-4.2c-2.6-1.4-5.2-3-7.8-4.6c-2.6-1.6-5.1-3.3-7.6-4.9c-2.6-1.5-5.2-3.2-7.7-4.7c-2.6-1.5-5.2-3-7.8-4.2c-2.7-1.3-5.4-2.6-8.1-3.6c-2.8-1-5.6-1.8-8.4-2.4c-2.9-.7-5.8-1.2-8.8-1.5c-2.9-.4-5.9-.5-8.9-.6c-3-0-6 0-9 .2c-3 .2-6.1 .5-9 .9c-3 .3-6 .8-9 1.3c-3 .6-5.9 1.2-8.8 1.8c-3 .7-5.9 1.4-8.8 2.2c-2.9 .7-5.8 1.5-8.7 2.3c-2.9 .8-5.8 1.7-8.7 2.5c-2.8 .8-5.7 1.7-8.6 2.5c-2.9 .8-5.8 1.7-8.6 2.5c-2.9 .8-5.8 1.5-8.7 2.2c-2.8 .8-5.7 1.5-8.6 2.1c-2.9 .6-5.8 1.2-8.7 1.6c-2.9 .5-5.9 .9-8.8 1.3c-2.9 .3-5.9 .5-8.8 .6c-3 .2-6 .2-8.9 .2c-3-0-6-.1-9-.3c-3-.1-6-.3-9-.6c-3-.2-6-.5-9-.9c-3-.3-6-.7-9-1.1c-3-.4-6-.8-9-1.2c-3-.4-6-.9-9-1.3c-3-.4-6-.9-8.9-1.3c-3-.4-5.9-.8-8.9-1.2c-2.9-.4-5.8-.8-8.8-1.1c-2.9-.3-5.8-.6-8.7-.8c-3-.2-5.9-.4-8.9-.4c-2.9-.1-6-.1-9 0c-3 0-6 .2-9 .4c-3 .3-6 .6-9 1c-3 .4-5.9 .9-8.9 1.4c-2.9 .5-5.8 1-8.7 1.5c-3 .5-5.9 1-8.9 1.3c-2.9 .4-5.9 .7-8.9 .8c-3 .1-6.1 .2-9.1 0c-2.9-.1-5.9-.4-8.9-.8c-2.9-.3-5.9-.9-8.8-1.4c-2.9-.5-5.9-1.1-8.8-1.6c-2.9-.5-5.9-1-8.9-1.4c-2.9-.5-5.9-.9-8.9-1.2c-3-.3-5.9-.7-8.9-.9c-3-.2-6-.4-9-.6c-2.9-.1-5.9-.2-8.9-.3c-3-0-5.9-.1-8.9-.1c-3-0-6-0-9 0c-3-.1-5.9-.1-8.9-.1c-3-0-6-.1-9-.1c-3-.1-6-.2-9-.3c-3-0-6-.2-8.9-.3c-3-.2-6-.3-9-.5c-3-.2-6-.4-9-.6c-3-.3-6-.5-8.9-.8c-3-.3-6-.6-9-1c-2.9-.3-5.9-.7-8.9-1.1c-2.9-.4-5.9-.8-8.9-1.3c-2.9-.4-5.9-.9-8.8-1.4c-2.9-.6-5.8-1.1-8.8-1.7c-2.9-.6-5.8-1.3-8.7-1.9c-2.9-.7-5.8-1.4-8.7-2.1c-2.9-.8-5.7-1.5-8.6-2.3c-2.9-.8-5.8-1.6-8.6-2.4c-2.9-.9-5.7-1.7-8.6-2.6c-2.9-.9-5.7-1.8-8.5-2.7c-2.9-.9-5.7-1.8-8.6-2.7c-2.8-1-5.7-1.9-8.5-2.9c-2.9-.9-5.7-1.9-8.6-2.8c-2.8-1-5.7-2-8.5-2.9c-2.9-1-5.7-2-8.6-2.9c-2.8-1-5.7-1.9-8.6-2.8c-2.8-.8-5.7-1.7-8.6-2.4c-2.9-.8-5.8-1.4-8.7-2c-2.9-.6-5.8-1.1-8.8-1.4c-2.9-.3-5.8-.6-8.8-.6c-3-.1-5.9-0-8.9 .2c-3 .3-6 .7-8.9 1.2c-2.9 .6-5.9 1.3-8.7 2.2c-2.9 .9-5.7 2-8.4 3.2c-2.7 1.2-5.4 2.7-7.9 4.2c-2.6 1.6-5 3.4-7.4 5.1c-2.5 1.7-4.9 3.6-7.3 5.3c-2.5 1.7-5 3.3-7.6 4.7c-2.7 1.4-5.5 2.6-8.3 3.6c-2.9 .9-5.8 1.6-8.8 2.1c-2.9 .4-5.9 .7-8.9 .7c-3 0-6-.2-8.9-.6c-2.9-.5-5.9-1.1-8.7-2.1c-2.8-.9-5.7-2-8.3-3.4c-2.7-1.3-5.3-2.9-7.6-4.7c-2.4-1.8-4.7-3.9-6.7-6c-2-2.2-3.9-4.6-5.6-7.1c-1.7-2.4-3.2-5.1-4.5-7.7c-1.4-2.7-2.6-5.4-3.6-8.2c-1-2.8-1.8-5.6-2.6-8.5c-.7-2.9-1.3-5.8-1.8-8.8c-.5-2.9-.9-5.9-1.1-8.9c-.3-3-.4-6-.5-9c-.1-3 0-6 .1-9c.2-3 .5-6 .8-9c.4-3 .9-6 1.4-8.9c.6-2.9 1.2-5.8 1.9-8.7c.8-2.9 1.6-5.8 2.5-8.6c1-2.8 1.9-5.6 3-8.4c1.1-2.7 2.2-5.5 3.4-8.2c1.2-2.7 2.4-5.4 3.7-8.1c1.3-2.7 2.7-5.3 4.1-8c1.4-2.6 2.8-5.3 4.3-7.9c1.4-2.6 2.9-5.2 4.5-7.8c1.5-2.6 3-5.2 4.6-7.8c1.5-2.5 3.1-5.1 4.7-7.6Z" stroke="#dd8452" stroke-width="4.7" fill="none" stroke-linejoin="round" stroke-linecap="round"/>
<path d="M442.9,1153.9c2.1-2.1 4.2-4.3 6.3-6.4c2.2-2.1 4.3-4.2 6.4-6.3c2.2-2.1 4.3-4.2 6.5-6.3c2.2-2 4.4-4.1 6.5-6.2c2.2-2 4.4-4.1 6.6-6.2c2.2-2 4.4-4 6.6-6.1c2.1-2 4.3-4.1 6.5-6.1c2.2-2.1 4.4-4.1 6.6-6.2c2.2-2 4.4-4.1 6.5-6.1c2.2-2.1 4.4-4.2 6.6-6.2c2.1-2.1 4.3-4.2 6.4-6.3c2.1-2.1 4.3-4.2 6.4-6.3c2.1-2.1 4.2-4.2 6.3-6.3c2.1-2.2 4.2-4.3 6.2-6.5c2.1-2.2 4.1-4.3 6.2-6.5c2-2.2 4-4.5 5.9-6.7c2-2.2 4-4.5 5.9-6.8c1.9-2.3 3.8-4.6 5.7-6.9c1.9-2.3 3.8-4.7 5.6-7c1.9-2.4 3.7-4.8 5.5-7.2c1.8-2.4 3.6-4.8 5.4-7.2c1.8-2.4 3.6-4.8 5.3-7.2c1.8-2.5 3.6-4.9 5.3-7.3c1.8-2.5 3.5-4.9 5.3-7.3c1.8-2.4 3.5-4.9 5.3-7.3c1.7-2.4 3.5-4.8 5.3-7.2c1.7-2.5 3.5-4.9 5.3-7.2c1.8-2.4 3.6-4.8 5.5-7.1c1.9-2.3 3.8-4.6 5.7-6.9c2-2.2 4-4.4 6.1-6.6c2.1-2.1 4.3-4.2 6.5-6.2c2.2-2 4.5-4 6.9-5.9c2.3-1.8 4.7-3.6 7.2-5.3c2.5-1.7 5-3.4 7.6-4.9c2.6-1.5 5.2-2.9 7.9-4.2c2.6-1.3 5.4-2.6 8.1-3.7c2.8-1.2 5.5-2.3 8.3-3.4c2.8-1 5.7-2 8.5-3c2.9-.9 5.7-1.8 8.6-2.7c2.9-.9 5.7-1.8 8.6-2.8c2.8-1 5.5-2 8.2-3.2c2.8-1.3 5.3-2.8 7.9-4.2c2.7-1.5 5.2-3.1 7.9-4.5c2.6-1.3 5.3-2.6 8.1-3.9c2.7-1.2 5.5-2.3 8.2-3.5c2.8-1.2 5.6-2.3 8.3-3.6c2.8-1.2 5.5-2.4 8.1-3.8c2.7-1.4 5.3-2.9 7.8-4.4c2.5-1.6 5-3.3 7.4-5c2.4-1.8 4.8-3.6 7.2-5.5c2.3-1.9 4.6-3.8 6.8-5.8c2.3-2 4.5-4 6.7-6c2.2-2.1 4.4-4.1 6.5-6.2c2.2-2.1 4.3-4.2 6.4-6.3c2.2-2.1 4.3-4.2 6.4-6.3c2.1-2.1 4.3-4.2 6.4-6.3c2.1-2.1 4.3-4.2 6.4-6.3c2.2-2 4.4-4.1 6.6-6.1c2.2-2 4.4-4 6.7-5.9c2.3-2 4.6-3.9 7-5.7c2.3-1.9 4.7-3.7 7.1-5.4c2.4-1.8 4.9-3.5 7.4-5.2c2.5-1.8 5-3.4 7.4-5.1c2.5-1.7 5-3.4 7.5-5.1c2.5-1.7 4.9-3.4 7.3-5.2c2.5-1.8 4.9-3.5 7.2-5.4c2.4-1.8 4.7-3.7 6.9-5.6c2.3-2 4.5-4 6.6-6.1c2.1-2.1 4.2-4.2 6.2-6.5c2-2.2 3.9-4.5 5.8-6.8c1.9-2.3 3.7-4.6 5.7-6.9c2-2.3 3.9-4.6 6-6.8c2.1-2.1 4.2-4.3 6.5-6.3c2.2-2 4.5-3.9 6.9-5.7c2.4-1.8 4.9-3.5 7.4-5c2.5-1.5 5.1-2.9 7.8-4.1c2.7-1.2 5.5-2.2 8.3-3.1c2.9-.8 5.8-1.5 8.8-2c2.9-.5 6-.8 9-.9c3-.2 6.1-.1 9.1 .1c3 .3 6.1 .6 9.1 1.2c2.9 .6 5.9 1.4 8.8 2.3c2.9 .9 5.7 2 8.4 3.3c2.7 1.2 5.3 2.6 7.8 4.3c2.5 1.6 4.9 3.3 7.1 5.2c2.2 2 4.2 4.1 6.2 6.3c1.9 2.2 3.7 4.6 5.4 7c1.7 2.5 3.2 5.1 4.7 7.7c1.6 2.6 3 5.3 4.4 7.9c1.4 2.7 2.8 5.5 4.2 8.1c1.4 2.7 2.7 5.4 4.1 8.1c1.4 2.6 2.8 5.3 4.3 7.8c1.4 2.6 2.9 5.2 4.5 7.7c1.6 2.4 3.3 4.9 5.1 7.2c1.8 2.4 3.8 4.7 5.7 6.9c2 2.3 4 4.5 6.1 6.7c2 2.2 4.2 4.4 6.2 6.6c2 2.2 4.1 4.5 6 6.8c2 2.2 3.8 4.6 5.6 7c1.8 2.4 3.6 4.8 5.3 7.2c1.7 2.5 3.4 5 5.1 7.4c1.7 2.5 3.3 5 5 7.4c1.7 2.5 3.5 4.9 5.2 7.4c1.8 2.4 3.5 4.8 5.3 7.2c1.8 2.4 3.6 4.8 5.4 7.1c1.8 2.4 3.7 4.8 5.5 7.1c1.9 2.4 3.8 4.7 5.6 7.1c1.9 2.3 3.8 4.7 5.7 7c1.8 2.3 3.7 4.6 5.6 7c1.9 2.3 3.8 4.6 5.7 7c1.9 2.3 3.8 4.6 5.7 6.9c1.9 2.4 3.8 4.7 5.6 7c1.9 2.4 3.8 4.7 5.6 7.1c1.9 2.3 3.8 4.7 5.6 7c1.8 2.4 3.7 4.8 5.5 7.2c1.8 2.3 3.6 4.7 5.3 7.1c1.8 2.4 3.6 4.9 5.3 7.3c1.7 2.4 3.4 4.9 5.1 7.4c1.7 2.4 3.3 4.9 5 7.4c1.6 2.5 3.2 5.1 4.7 7.6c1.6 2.5 3.2 5.1 4.7 7.7c1.5 2.6 3 5.1 4.5 7.7c1.5 2.6 3 5.2 4.5 7.8c1.5 2.7 2.9 5.3 4.4 7.9c1.5 2.6 2.9 5.2 4.4 7.8c1.5 2.7 2.9 5.3 4.4 7.9c1.5 2.6 3 5.2 4.5 7.8c1.5 2.6 3 5.2 4.5 7.8c1.5 2.6 3 5.2 4.4 7.8c1.5 2.6 3 5.2 4.4 7.8c1.4 2.7 2.8 5.3 4.1 8c1.3 2.7 2.5 5.4 3.8 8.1c1.2 2.7 2.3 5.5 3.5 8.2c1.1 2.8 2.2 5.6 3.2 8.4c1.1 2.8 2.1 5.6 3.1 8.4c1 2.8 2 5.7 3 8.5c.9 2.8 1.8 5.7 2.7 8.6c.9 2.8 1.8 5.7 2.6 8.6c.9 2.9 1.7 5.8 2.5 8.7c.8 2.9 1.5 5.8 2.2 8.7c.8 2.9 1.4 5.8 2.1 8.8c.6 2.9 1.2 5.8 1.8 8.8c.6 2.9 1.1 5.9 1.6 8.8c.5 3 1 5.9 1.4 8.9c.4 3 .8 5.9 1.2 8.9c.3 3 .6 5.9 .8 8.9c.3 3 .5 6 .6 8.9c.2 3 .3 6 .4 9c0 3 0 6 0 9c-0 2.9-.1 5.9-.3 8.9c-.1 3-.3 6-.5 9c-.3 2.9-.6 5.9-.9 8.9c-.4 3-.8 6-1.3 8.9c-.5 3-1 6-1.6 8.9c-.6 2.9-1.2 5.9-2 8.8c-.8 2.9-1.6 5.8-2.5 8.6c-.9 2.9-1.9 5.7-2.9 8.5c-1.1 2.8-2.2 5.5-3.5 8.2c-1.2 2.7-2.6 5.4-4 8c-1.5 2.6-3 5.1-4.7 7.6c-1.6 2.5-3.3 5-5.2 7.3c-1.9 2.4-3.8 4.7-5.9 6.9c-2.1 2.2-4.3 4.4-6.5 6.4c-2.3 2-4.7 4-7.1 5.8c-2.4 1.8-4.9 3.5-7.5 5c-2.6 1.5-5.3 3-8 4.2c-2.7 1.2-5.4 2.3-8.2 3.2c-2.9 1-5.7 1.7-8.6 2.2c-2.9 .6-5.8 .9-8.8 1.1c-2.9 .1-5.9 0-8.8-.3c-3-.2-6-.7-8.9-1.4c-3-.6-5.9-1.5-8.8-2.4c-2.8-1-5.7-2.2-8.4-3.4c-2.7-1.3-5.4-2.7-8-4.2c-2.6-1.5-5-3.2-7.4-4.9c-2.5-1.7-4.8-3.5-7.2-5.2c-2.4-1.8-4.7-3.6-7.1-5.4c-2.4-1.7-4.9-3.5-7.4-5.1c-2.6-1.6-5.2-3.1-8-4.5c-2.7-1.4-5.5-2.7-8.4-3.8c-2.8-1-5.8-2-8.7-2.6c-2.9-.6-5.9-1-8.8-1.1c-2.9-.1-5.8 .1-8.8 .5c-2.9 .4-5.7 1.1-8.6 1.8c-2.9 .7-5.8 1.7-8.6 2.6c-2.9 .9-5.8 2-8.7 2.9c-2.8 .9-5.7 1.8-8.6 2.7c-2.9 .8-5.8 1.6-8.7 2.4c-3 .7-5.9 1.4-8.8 2.1c-2.9 .6-5.9 1.2-8.8 1.8c-2.9 .5-5.9 1-8.8 1.5c-3 .5-5.9 .9-8.9 1.3c-3 .4-5.9 .7-8.9 1c-3 .3-5.9 .6-8.9 .8c-3 .2-6 .4-8.9 .5c-3 .2-6 .3-9 .4c-3 0-6 .1-9 .1c-3 0-5.9-0-8.9-.1c-3-0-6-.1-9-.2c-3-.1-6-.3-9-.4c-3-.2-6-.4-9-.6c-3-.2-6-.5-8.9-.7c-3-.3-6-.6-9-.9c-3-.3-6-.7-9-1c-2.9-.3-5.9-.7-8.9-1.1c-3-.3-5.9-.7-8.9-1.1c-3-.3-6-.7-9-1c-2.9-.4-5.9-.7-8.9-1c-3-.3-5.9-.6-8.9-.8c-3-.3-6-.5-8.9-.7c-3-.1-6-.3-9-.3c-3-.1-5.9-.1-8.9-.1c-3 0-6 .1-9 .3c-3 .1-6 .3-9 .5c-3 .2-6 .5-9 .7c-3 .2-6 .5-9 .7c-3 .2-6 .4-9 .6c-3 .1-5.9 .3-8.9 .3c-3 .1-6 .1-9 .1c-3-.1-6-.2-8.9-.5c-3-.2-6-.6-8.9-1c-3-.4-6-.9-8.9-1.4c-3-.5-5.9-1-8.9-1.5c-3-.5-5.9-1.1-8.9-1.6c-3-.4-5.9-.9-8.9-1.2c-3-.4-5.9-.7-8.9-.9c-3-.3-5.9-.4-8.9-.5c-3-.1-6-.2-9-.2c-3-0-6-0-9 0c-3 0-6 .1-9 .1c-3 0-6 0-9.1 0c-3-.1-6-.1-9-.3c-2.9-.2-5.9-.4-8.9-.8c-2.9-.4-5.9-.9-8.8-1.5c-2.9-.5-5.8-1.3-8.7-2c-2.9-.7-5.8-1.5-8.6-2.3c-2.9-.8-5.8-1.7-8.7-2.5c-2.9-.8-5.8-1.6-8.6-2.4c-2.9-.8-5.9-1.5-8.8-2.3c-2.9-.7-5.8-1.4-8.7-2.2c-2.9-.7-5.8-1.4-8.7-2.1c-2.9-.7-5.9-1.4-8.8-2.1c-2.9-.7-5.8-1.4-8.7-2.1c-2.9-.7-5.8-1.4-8.7-2.1c-3-.7-5.9-1.5-8.8-2.2c-2.9-.7-5.8-1.4-8.7-2.2c-2.9-.8-5.8-1.5-8.6-2.3c-2.9-.8-5.8-1.6-8.7-2.4c-2.9-.9-5.7-1.7-8.6-2.6c-2.8-.9-5.7-1.8-8.5-2.7c-2.9-.9-5.7-1.9-8.5-2.9c-2.8-1-5.6-2-8.4-3.1c-2.8-1.1-5.6-2.2-8.3-3.3c-2.8-1.2-5.5-2.4-8.3-3.6c-2.7-1.3-5.5-2.6-8.2-3.9c-2.6-1.3-5.3-2.7-7.9-4.2c-2.7-1.5-5.3-3-7.8-4.6c-2.5-1.6-5-3.3-7.4-5c-2.5-1.8-4.9-3.6-7.1-5.5c-2.3-2-4.6-3.9-6.6-6.1c-1.9-2.2-3.8-4.5-5.3-7c-1.5-2.5-2.7-5.3-3.6-8.1c-.9-2.8-1.6-5.9-2-8.9c-.4-3-.5-6-.4-9c0-3.1 .3-6.1 .8-9.1c.5-3 1.3-5.9 2.2-8.8c.9-2.8 2-5.6 3.3-8.3c1.3-2.7 2.8-5.2 4.4-7.7c1.6-2.4 3.4-4.8 5.3-7.1c1.9-2.3 3.9-4.6 5.9-6.8c2-2.2 4.1-4.3 6.2-6.5Z" stroke="#dd8452" stroke-width="4.7" fill="none" stroke-linejoin="round" stroke-linecap="round"/>
<path d="M503.1,1158.5c2.3-1.8 4.6-3.7 7-5.5c2.3-1.9 4.6-3.8 6.9-5.8c2.2-1.9 4.5-3.9 6.7-5.9c2.3-2 4.5-4 6.7-6c2.2-2 4.3-4.1 6.5-6.2c2.2-2.1 4.3-4.2 6.4-6.3c2.1-2.1 4.2-4.3 6.3-6.5c2.1-2.1 4.1-4.3 6.2-6.5c2-2.2 4-4.4 6-6.6c2-2.3 4-4.5 5.9-6.7c2-2.3 3.9-4.6 5.9-6.8c2-2.3 3.9-4.6 5.9-6.8c1.9-2.3 3.9-4.6 5.8-6.9c1.9-2.2 3.9-4.5 5.8-6.8c1.9-2.3 3.9-4.6 5.7-6.9c1.9-2.4 3.8-4.7 5.7-7c1.8-2.4 3.6-4.8 5.5-7.1c1.8-2.4 3.6-4.7 5.5-7.1c1.8-2.4 3.6-4.7 5.5-7.1c1.8-2.4 3.6-4.7 5.5-7c1.9-2.4 3.7-4.7 5.6-7c1.9-2.3 3.8-4.6 5.8-6.9c2-2.3 3.9-4.6 5.9-6.8c2.1-2.2 4.1-4.4 6.2-6.6c2.1-2.1 4.2-4.3 6.3-6.4c2.2-2 4.4-4.1 6.6-6.1c2.2-2 4.5-3.9 6.8-5.8c2.3-1.9 4.7-3.8 7.1-5.5c2.4-1.8 4.8-3.5 7.3-5.2c2.5-1.6 5-3.2 7.6-4.7c2.6-1.5 5.2-3 7.8-4.4c2.7-1.4 5.3-2.8 8-4.1c2.7-1.4 5.4-2.7 8.1-4c2.7-1.3 5.4-2.6 8.2-3.8c2.7-1.3 5.5-2.5 8.2-3.6c2.8-1.2 5.6-2.3 8.4-3.3c2.8-1 5.6-2 8.4-3c2.9-.9 5.7-1.7 8.6-2.6c2.9-.8 5.8-1.5 8.7-2.2c2.9-.8 5.8-1.5 8.7-2.2c2.9-.6 5.9-1.3 8.8-2c2.9-.6 5.8-1.3 8.7-2c3-.7 5.9-1.4 8.8-2.1c2.9-.8 5.8-1.5 8.6-2.3c2.9-.8 5.8-1.7 8.6-2.6c2.9-.9 5.7-1.8 8.6-2.7c2.8-1 5.6-2 8.5-2.9c2.8-1 5.6-2 8.5-3c2.8-1 5.6-2 8.5-2.9c2.8-1 5.6-2 8.5-2.9c2.8-.9 5.7-1.9 8.5-2.8c2.9-.8 5.8-1.7 8.6-2.5c2.9-.8 5.8-1.6 8.7-2.3c2.9-.7 5.8-1.4 8.8-2c2.9-.6 5.8-1.1 8.8-1.6c2.9-.5 5.9-.9 8.9-1.3c2.9-.4 5.9-.7 8.9-1c2.9-.4 5.9-.7 8.9-1.1c3-.3 5.9-.7 8.9-1.1c3-.3 6-.7 9-1c2.9-.4 5.9-.7 8.9-1c3-.3 5.9-.6 8.9-.8c3-.2 6-.5 9-.6c2.9-.1 5.9-.2 8.9-.2c3-.1 6-0 9 .1c3 .1 6 .3 9 .6c3 .3 6 .7 8.9 1.2c3 .5 6 1 8.9 1.8c2.9 .7 5.8 1.6 8.5 2.6c2.8 1 5.5 2.2 8.2 3.6c2.6 1.3 5.1 2.9 7.7 4.5c2.5 1.6 4.9 3.4 7.3 5.1c2.5 1.8 4.9 3.6 7.3 5.4c2.5 1.7 4.9 3.5 7.4 5.1c2.6 1.7 5.1 3.3 7.7 4.9c2.5 1.5 5.2 2.9 7.8 4.2c2.7 1.4 5.4 2.6 8.2 3.7c2.7 1.1 5.6 2 8.4 2.9c2.8 .9 5.7 1.7 8.5 2.6c2.9 .8 5.8 1.7 8.6 2.6c2.8 1 5.6 2 8.4 3.2c2.8 1.1 5.5 2.4 8.3 3.7c2.7 1.2 5.3 2.6 8 4.1c2.6 1.5 5.2 3 7.8 4.6c2.5 1.6 5.1 3.3 7.5 5c2.5 1.7 4.9 3.5 7.3 5.4c2.4 1.8 4.7 3.7 7 5.7c2.3 1.9 4.5 3.9 6.7 5.9c2.2 2.1 4.3 4.2 6.3 6.3c2.1 2.1 4.2 4.3 6.2 6.5c1.9 2.2 3.9 4.4 5.8 6.7c1.9 2.2 3.8 4.6 5.6 6.9c1.8 2.3 3.6 4.7 5.4 7.1c1.8 2.4 3.5 4.8 5.2 7.3c1.7 2.4 3.4 4.9 5.1 7.4c1.6 2.5 3.2 5 4.8 7.5c1.6 2.5 3.2 5.1 4.8 7.7c1.6 2.5 3.1 5.1 4.6 7.7c1.6 2.6 3.1 5.2 4.6 7.8c1.5 2.6 3 5.2 4.5 7.9c1.5 2.6 3 5.2 4.4 7.8c1.5 2.7 3 5.3 4.5 7.9c1.4 2.7 2.9 5.3 4.4 7.9c1.4 2.7 2.9 5.3 4.3 7.9c1.5 2.7 2.9 5.3 4.3 8c1.3 2.6 2.7 5.3 4 7.9c1.3 2.7 2.6 5.4 3.8 8.1c1.2 2.7 2.4 5.4 3.5 8.2c1.1 2.8 2.2 5.5 3.2 8.3c1 2.8 1.9 5.6 2.7 8.5c.8 2.8 1.6 5.7 2.3 8.6c.7 2.9 1.4 5.8 2 8.7c.6 3 1.1 5.9 1.6 8.9c.5 2.9 .9 5.9 1.4 8.9c.4 3 .8 6 1.1 9c.3 3 .6 6 .9 9c.3 3 .6 6 .8 9c.2 3 .5 6 .6 9c.2 3 .3 6 .4 9c.1 3 .1 6 .1 9c-.1 3-.1 5.9-.3 8.9c-.1 3-.3 6-.6 8.9c-.3 3-.6 6-1.1 8.9c-.4 3-.9 5.9-1.5 8.8c-.6 2.9-1.3 5.9-2.1 8.7c-.8 2.9-1.6 5.8-2.6 8.7c-1 2.8-2.1 5.6-3.3 8.3c-1.2 2.8-2.5 5.5-3.9 8.1c-1.4 2.6-3 5.2-4.6 7.6c-1.7 2.5-3.5 4.8-5.4 7.1c-1.9 2.3-3.9 4.4-6.1 6.5c-2.2 2-4.5 3.9-7 5.7c-2.4 1.8-5 3.4-7.7 4.9c-2.6 1.5-5.4 2.8-8.2 3.9c-2.8 1.2-5.7 2.1-8.6 2.9c-3 .7-6 1.3-8.9 1.6c-3 .4-6 .5-9 .5c-2.9-.1-5.9-.4-8.8-1c-2.9-.5-5.7-1.3-8.4-2.3c-2.8-1-5.4-2.3-8-3.8c-2.5-1.4-5-3.1-7.5-4.8c-2.4-1.8-4.8-3.7-7.1-5.6c-2.4-2-4.8-4-7.1-5.9c-2.4-2-4.7-4-7.2-5.8c-2.4-1.8-4.8-3.6-7.3-5.2c-2.5-1.6-5.1-3.1-7.7-4.3c-2.7-1.2-5.5-2.2-8.3-3c-2.8-.8-5.8-1.3-8.7-1.6c-3-.4-6-.5-9-.5c-3 0-6.1 .3-9.1 .6c-3 .3-5.9 .8-8.9 1.3c-2.9 .6-5.8 1.3-8.7 2c-2.9 .7-5.7 1.5-8.6 2.3c-2.9 .8-5.7 1.7-8.6 2.5c-2.8 .9-5.7 1.8-8.6 2.6c-2.9 .8-5.8 1.6-8.7 2.4c-2.9 .8-5.8 1.6-8.8 2.3c-2.9 .7-5.8 1.4-8.8 2c-2.9 .7-5.9 1.3-8.9 1.8c-2.9 .5-5.9 1-8.8 1.4c-3 .4-6 .8-8.9 1.1c-3 .2-6 .4-8.9 .5c-3 .1-6 .2-8.9 .2c-3-0-6-.1-9-.3c-2.9-.1-5.9-.3-8.9-.6c-2.9-.2-5.9-.5-8.9-.8c-3-.3-5.9-.7-8.9-1c-3-.4-5.9-.8-8.9-1.2c-3-.4-6-.9-8.9-1.3c-3-.4-6-.9-9-1.3c-2.9-.5-5.9-.9-8.9-1.3c-3-.4-5.9-.8-8.9-1.2c-3-.4-6-.7-9-1.1c-2.9-.3-5.9-.6-8.9-.8c-3-.2-6-.4-8.9-.6c-3-.1-6-.2-9-.2c-3-.1-6-0-9 0c-3 0-5.9 .2-8.9 .3c-3 .1-6 .2-9 .4c-3 .2-6 .3-9 .5c-3 .2-6 .3-9 .5c-2.9 .2-5.9 .3-8.9 .4c-3 .1-6 .2-9 .3c-3-0-6 0-9 0c-3-.1-5.9-.1-8.9-.2c-3-.2-6-.3-9-.5c-3-.2-6-.4-8.9-.6c-3-.2-6-.5-9-.8c-3-.2-5.9-.5-8.9-.8c-3-.3-6-.7-9-1c-3-.3-5.9-.6-8.9-.9c-3-.3-6-.7-9-1c-3-.3-5.9-.6-8.9-1c-3-.3-6-.7-9-1c-2.9-.4-5.9-.8-8.9-1.1c-2.9-.4-5.9-.8-8.9-1.2c-2.9-.5-5.9-.9-8.9-1.3c-2.9-.5-5.9-1-8.8-1.5c-3-.4-5.9-.9-8.9-1.5c-2.9-.5-5.8-1.1-8.7-1.7c-3-.6-5.9-1.2-8.8-1.8c-2.9-.7-5.8-1.3-8.7-2c-2.9-.8-5.8-1.5-8.7-2.3c-2.9-.7-5.8-1.5-8.7-2.4c-2.8-.8-5.7-1.7-8.5-2.6c-2.9-1-5.7-1.9-8.6-2.9c-2.8-.9-5.7-1.9-8.5-2.9c-2.8-1-5.7-2-8.5-2.9c-2.9-1-5.7-2-8.6-2.9c-2.8-.9-5.7-1.8-8.5-2.7c-2.9-.8-5.8-1.6-8.7-2.4c-2.9-.7-5.8-1.4-8.7-2.1c-2.9-.6-5.9-1.1-8.8-1.6c-3-.5-5.9-.9-8.9-1.3c-3-.5-5.9-.9-8.9-1.3c-3-.5-5.9-.9-8.8-1.5c-3-.6-5.9-1.2-8.8-1.9c-2.9-.8-5.8-1.6-8.6-2.5c-2.8-1-5.6-2.1-8.4-3.3c-2.7-1.2-5.5-2.6-8.1-4.2c-2.6-1.5-5.2-3.2-7.5-5.1c-2.4-1.9-4.6-3.9-6.6-6.2c-1.9-2.2-3.7-4.6-5.1-7.1c-1.5-2.6-2.6-5.4-3.4-8.2c-.7-2.9-1.2-5.9-1.3-8.9c-.1-3 .2-6 .7-8.9c.6-2.9 1.6-5.7 2.8-8.4c1.2-2.7 2.8-5.2 4.5-7.7c1.7-2.4 3.7-4.8 5.7-7c2.1-2.3 4.3-4.4 6.5-6.5c2.2-2 4.6-3.9 6.9-5.8c2.3-1.9 4.7-3.7 7.1-5.5c2.3-1.9 4.7-3.6 7.1-5.5Z" stroke="#dd8452" stroke-width="4.7" fill="none" stroke-linejoin="round" stroke-linecap="round"/>
<path d="M563.5,1151.6c1.8-2.4 3.6-4.8 5.5-7.1c1.9-2.4 3.8-4.7 5.7-7c1.9-2.3 3.8-4.5 5.8-6.8c2-2.2 4-4.5 6-6.7c2-2.2 4-4.4 6.1-6.5c2.1-2.2 4.2-4.4 6.3-6.5c2.1-2.1 4.2-4.2 6.4-6.3c2.1-2.1 4.3-4.2 6.5-6.2c2.2-2.1 4.4-4.1 6.6-6.2c2.2-2 4.5-4 6.7-6c2.2-2 4.5-3.9 6.8-5.9c2.2-2 4.5-3.9 6.8-5.8c2.2-2 4.6-3.9 6.8-5.8c2.3-1.9 4.6-3.8 6.9-5.7c2.2-2 4.5-4 6.6-6.1c2.2-2 4.3-4.2 6.3-6.4c2.1-2.2 4.1-4.4 6.2-6.6c2.1-2.2 4.1-4.3 6.3-6.4c2.1-2.1 4.2-4.2 6.4-6.3c2.1-2 4.3-4.1 6.5-6.1c2.2-2 4.5-4 6.8-5.9c2.3-2 4.6-3.9 6.9-5.8c2.4-1.9 4.7-3.8 7.1-5.5c2.5-1.8 4.9-3.6 7.4-5.2c2.5-1.7 5-3.4 7.6-4.9c2.5-1.5 5.1-3 7.8-4.4c2.6-1.3 5.3-2.6 8-3.9c2.8-1.2 5.5-2.3 8.3-3.4c2.8-1.2 5.6-2.2 8.4-3.2c2.8-1 5.7-2 8.5-3c2.9-.9 5.7-1.9 8.6-2.8c2.8-.9 5.7-1.8 8.6-2.7c2.8-1 5.7-1.9 8.5-2.9c2.9-.9 5.7-1.9 8.5-2.9c2.8-1 5.6-2 8.5-3c2.8-1 5.6-2 8.4-3c2.8-1 5.6-2 8.5-2.9c2.8-1 5.6-1.9 8.5-2.8c2.8-.9 5.7-1.8 8.5-2.6c2.9-.8 5.8-1.6 8.7-2.4c2.9-.8 5.8-1.5 8.8-2.1c2.9-.7 5.8-1.3 8.8-1.9c2.9-.6 5.9-1.2 8.9-1.6c2.9-.5 5.9-1 8.9-1.4c3-.4 6-.8 9-1c3-.3 5.9-.6 8.9-.8c3-.2 6-.4 9-.4c3-.1 6-.2 9-.2c3 .1 6 .1 9 .3c3 .1 6 .3 8.9 .5c3 .3 6 .6 8.9 .9c3 .4 5.9 .8 8.9 1.3c2.9 .5 5.8 1 8.8 1.6c2.9 .5 5.8 1.1 8.7 1.8c3 .6 5.9 1.3 8.8 2c2.9 .7 5.8 1.5 8.7 2.2c2.9 .8 5.8 1.5 8.7 2.3c2.9 .8 5.8 1.6 8.7 2.4c2.9 .8 5.8 1.6 8.7 2.3c2.9 .8 5.8 1.6 8.7 2.4c2.9 .7 5.8 1.5 8.7 2.2c3 .8 5.9 1.5 8.8 2.1c3 .7 5.9 1.4 8.8 2c3 .6 5.9 1.1 8.9 1.6c2.9 .6 5.9 1 8.9 1.5c2.9 .5 5.9 .9 8.8 1.4c3 .5 6 .9 8.9 1.4c3 .6 5.9 1.1 8.8 1.7c2.9 .6 5.8 1.3 8.7 2c2.8 .8 5.7 1.6 8.5 2.6c2.8 1 5.6 2.1 8.3 3.3c2.7 1.2 5.4 2.5 8.1 4c2.6 1.5 5.2 3.1 7.7 4.8c2.5 1.7 4.9 3.5 7.2 5.4c2.4 1.9 4.6 3.9 6.8 6c2.2 2 4.3 4.1 6.4 6.3c2.1 2.1 4.1 4.3 6.2 6.5c2.1 2.1 4.1 4.3 6.2 6.5c2.1 2.1 4.1 4.3 6.2 6.5c2 2.1 4.1 4.3 6.1 6.5c2 2.1 4.1 4.3 6.1 6.5c2 2.2 4.1 4.4 6.1 6.6c2 2.2 4 4.4 6 6.6c2 2.3 4 4.5 6 6.7c2 2.3 4 4.6 6 6.9c1.9 2.2 3.9 4.5 5.8 6.9c1.9 2.3 3.8 4.7 5.7 7c1.8 2.4 3.7 4.8 5.4 7.2c1.8 2.5 3.5 5 5.1 7.5c1.7 2.5 3.3 5 4.8 7.5c1.5 2.6 3 5.2 4.4 7.9c1.4 2.6 2.7 5.3 3.9 8c1.3 2.7 2.5 5.4 3.6 8.1c1.1 2.8 2.2 5.6 3.2 8.4c1 2.8 2 5.7 2.9 8.5c.9 2.8 1.7 5.7 2.5 8.6c.8 2.9 1.5 5.8 2.2 8.7c.7 3 1.3 5.9 1.9 8.9c.5 2.9 1.1 5.9 1.6 8.8c.5 3 .9 6 1.3 9c.4 3 .8 5.9 1.1 8.9c.3 3 .6 6 .8 9c.3 3 .5 6 .7 9c.1 2.9 .2 5.9 .3 8.9c0 3 0 6 0 8.9c-.1 3-.3 6-.5 8.9c-.2 3-.5 5.9-1 8.9c-.4 2.9-.9 5.9-1.5 8.8c-.6 2.9-1.3 5.9-2.1 8.8c-.8 2.9-1.8 5.8-2.9 8.7c-1 2.8-2.2 5.7-3.6 8.4c-1.3 2.8-2.7 5.5-4.3 8c-1.6 2.6-3.3 5.1-5.2 7.4c-1.9 2.3-3.9 4.5-6 6.5c-2.2 2-4.5 3.8-7 5.4c-2.4 1.6-5 3-7.7 4.2c-2.8 1.2-5.6 2.2-8.5 2.9c-2.9 .8-5.9 1.3-8.9 1.6c-3 .3-6 .4-9 .2c-3-.2-6-.6-8.9-1.2c-2.9-.7-5.8-1.5-8.6-2.6c-2.7-1.2-5.4-2.6-7.9-4.2c-2.5-1.5-4.8-3.5-7.2-5.4c-2.3-1.9-4.5-4.1-6.7-6.2c-2.3-2-4.5-4.2-6.7-6.2c-2.3-2-4.6-3.9-7.1-5.7c-2.4-1.7-4.9-3.4-7.5-4.8c-2.6-1.4-5.3-2.7-8.1-3.6c-2.8-1-5.7-1.7-8.6-2.2c-2.9-.4-6-.6-9-.7c-3-0-6 .2-9 .5c-3 .2-6.1 .7-9 1.3c-2.9 .5-5.8 1.2-8.7 1.9c-2.9 .7-5.7 1.6-8.6 2.4c-2.8 .8-5.6 1.7-8.5 2.6c-2.9 .8-5.7 1.8-8.6 2.6c-2.9 .9-5.8 1.8-8.7 2.6c-2.9 .8-5.9 1.6-8.8 2.4c-2.9 .7-5.8 1.5-8.8 2.1c-3 .6-5.9 1.2-8.9 1.8c-2.9 .5-5.9 .9-8.9 1.2c-2.9 .4-5.9 .6-8.8 .8c-3 .1-6 .2-8.9 .2c-3 0-6-0-8.9-.2c-3-.1-6-.2-9-.5c-2.9-.2-5.9-.5-8.9-.8c-3-.3-5.9-.6-8.9-1c-3-.4-6-.8-9-1.2c-2.9-.4-5.9-.8-8.9-1.2c-3-.4-6-.9-8.9-1.3c-3-.4-6-.8-9-1.2c-3-.4-5.9-.8-8.9-1.1c-3-.3-6-.7-9-.9c-3-.3-6-.5-9-.7c-2.9-.2-5.9-.4-8.9-.5c-3-.1-6-.2-9-.3c-3-.1-6-.1-9-.1c-3-.1-6-.1-9-.1c-3 0-6 .1-8.9 .1c-3 0-6 .1-9 .1c-3 .1-6 .1-9 .2c-3 0-6 .1-9 .1c-3 .1-6 .1-9 .1c-3 .1-6 .1-9 .1c-2.9 0-5.9 0-8.9 0c-3-0-6-.1-9-.2c-3-0-6-.1-9-.2c-3-.2-6-.3-9-.4c-2.9-.2-5.9-.4-8.9-.6c-3-.2-6-.4-9-.7c-3-.2-5.9-.5-8.9-.7c-3-.3-6-.6-9-.9c-3-.3-5.9-.7-8.9-1c-3-.4-6-.7-9-1.1c-2.9-.4-5.9-.8-8.9-1.2c-3-.4-5.9-.8-8.9-1.3c-3-.4-5.9-.9-8.9-1.3c-3-.5-5.9-1-8.9-1.4c-3-.5-5.9-1-8.9-1.5c-2.9-.5-5.9-1.1-8.8-1.6c-3-.6-5.9-1.1-8.8-1.8c-3-.6-5.9-1.3-8.8-2c-2.9-.7-5.7-1.5-8.6-2.4c-2.8-.8-5.7-1.7-8.5-2.7c-2.7-1.1-5.5-2.2-8.3-3.4c-2.7-1.2-5.4-2.5-8-3.9c-2.7-1.4-5.3-3-7.9-4.5c-2.6-1.6-5.2-3.2-7.8-4.8c-2.6-1.6-5.1-3.2-7.7-4.6c-2.6-1.5-5.2-2.9-7.8-4.3c-2.7-1.3-5.3-2.6-8-3.9c-2.7-1.3-5.4-2.5-8.2-3.7c-2.8-1.2-5.7-2.3-8.4-3.7c-2.7-1.3-5.5-2.6-8-4.2c-2.5-1.6-4.9-3.4-7-5.5c-2.1-2-3.9-4.5-5.4-7c-1.5-2.6-2.7-5.5-3.5-8.3c-.9-2.8-1.3-5.8-1.4-8.8c-.1-3 .2-5.9 .8-8.9c.5-2.9 1.4-5.8 2.5-8.7c1-2.8 2.3-5.6 3.6-8.3c1.4-2.7 2.9-5.3 4.4-7.9c1.5-2.6 3.2-5.1 4.9-7.5c1.7-2.5 3.4-4.9 5.2-7.3Z" stroke="#dd8452" stroke-width="4.7" fill="none" stroke-linejoin="round" stroke-linecap="round"/>
<path d="M664.5,1094.5c2.6-1.5 5.1-3.1 7.6-4.7c2.5-1.7 5-3.3 7.4-5c2.5-1.7 5-3.3 7.4-5c2.4-1.8 4.9-3.5 7.3-5.2c2.4-1.7 4.8-3.5 7.2-5.2c2.4-1.8 4.8-3.6 7.2-5.3c2.4-1.8 4.8-3.5 7.2-5.3c2.4-1.7 4.8-3.5 7.2-5.2c2.4-1.8 4.8-3.5 7.2-5.2c2.5-1.7 4.9-3.4 7.3-5.1c2.5-1.7 5-3.3 7.5-5c2.5-1.6 5-3.2 7.5-4.8c2.5-1.5 5.1-3.1 7.6-4.6c2.6-1.5 5.2-3 7.8-4.4c2.6-1.5 5.3-2.9 7.9-4.2c2.7-1.4 5.3-2.7 8-4c2.7-1.3 5.4-2.6 8.2-3.8c2.7-1.2 5.4-2.4 8.2-3.5c2.7-1.1 5.5-2.2 8.3-3.3c2.8-1 5.6-2 8.4-3c2.8-.9 5.7-1.9 8.5-2.7c2.9-.9 5.7-1.7 8.6-2.4c2.9-.8 5.8-1.5 8.6-2.2c2.9-.6 5.8-1.2 8.8-1.8c2.9-.6 5.8-1.1 8.7-1.5c3-.5 5.9-.9 8.9-1.2c2.9-.4 5.9-.7 8.8-1c3-.3 6-.5 8.9-.7c3-.1 6-.3 8.9-.4c3-.1 6-.1 9-.1c3-.1 5.9-0 8.9 0c3 .1 6 .2 9 .3c3 .2 5.9 .4 8.9 .6c3 .2 6 .4 8.9 .7c3 .3 6 .6 8.9 .9c3 .4 5.9 .8 8.9 1.2c2.9 .4 5.8 .8 8.8 1.2c2.9 .5 5.9 .9 8.8 1.4c2.9 .5 5.9 1 8.8 1.5c2.9 .5 5.9 1 8.8 1.5c2.9 .5 5.8 1 8.8 1.5c2.9 .5 5.8 .9 8.8 1.4c2.9 .5 5.8 .9 8.8 1.4c2.9 .4 5.9 .9 8.8 1.2c3 .4 5.9 .8 8.9 1.1c3 .4 5.9 .7 8.9 .9c3 .3 6 .5 9 .7c3 .2 5.9 .4 8.9 .6c3 .3 6 .5 9 .7c2.9 .3 5.9 .6 8.8 1c3 .4 5.9 .8 8.8 1.4c2.9 .5 5.7 1.2 8.6 2c2.8 .8 5.6 1.7 8.4 2.7c2.7 1 5.5 2.2 8.2 3.4c2.7 1.3 5.3 2.6 8 4c2.6 1.5 5.2 3 7.8 4.6c2.5 1.6 5.1 3.2 7.5 4.9c2.5 1.7 5 3.5 7.4 5.2c2.4 1.8 4.8 3.6 7.2 5.4c2.3 1.9 4.7 3.7 6.9 5.6c2.3 1.9 4.6 3.8 6.8 5.7c2.3 2 4.5 3.9 6.7 5.9c2.2 2 4.3 4 6.5 6c2.2 2 4.3 4.1 6.4 6.1c2.2 2.1 4.3 4.2 6.4 6.3c2.1 2.1 4.2 4.2 6.2 6.4c2.1 2.1 4.1 4.3 6.2 6.5c2 2.2 4 4.4 6 6.7c1.9 2.2 3.9 4.5 5.8 6.8c1.9 2.3 3.8 4.6 5.7 6.9c1.8 2.4 3.6 4.8 5.4 7.2c1.8 2.4 3.5 4.8 5.1 7.3c1.7 2.5 3.2 5 4.8 7.5c1.5 2.6 2.9 5.2 4.2 7.8c1.4 2.6 2.7 5.3 3.8 8c1.2 2.7 2.2 5.5 3.2 8.3c1 2.8 1.9 5.6 2.7 8.5c.8 2.8 1.5 5.8 2.1 8.7c.7 2.9 1.3 5.8 1.8 8.8c.6 2.9 1 5.9 1.5 8.9c.5 2.9 .9 5.9 1.3 8.8c.4 3 .7 6 1 8.9c.3 3 .6 5.9 .8 8.9c.2 3 .3 5.9 .4 8.9c0 3 0 5.9-.1 8.8c-.1 3-.3 6-.6 8.9c-.4 3-.7 5.9-1.3 8.9c-.5 2.9-1.1 5.9-1.9 8.8c-.8 2.9-1.7 5.7-2.7 8.5c-1.1 2.8-2.4 5.5-3.8 8.1c-1.4 2.6-3 5.1-4.8 7.5c-1.8 2.3-3.8 4.5-6 6.6c-2.2 2-4.7 3.9-7.2 5.6c-2.5 1.6-5.2 3.1-8 4.3c-2.7 1.2-5.6 2.2-8.4 2.9c-2.9 .7-5.9 1.1-8.7 1.2c-2.9 .1-5.8-.1-8.6-.6c-2.8-.6-5.5-1.5-8.1-2.7c-2.7-1.2-5.2-2.7-7.7-4.4c-2.5-1.6-4.9-3.5-7.3-5.5c-2.3-1.9-4.6-4-6.9-6.1c-2.3-2-4.6-4.1-6.9-6.1c-2.3-1.9-4.6-3.8-7-5.5c-2.5-1.7-4.9-3.3-7.6-4.5c-2.6-1.3-5.3-2.4-8.1-3.2c-2.8-.8-5.6-1.3-8.5-1.6c-2.9-.4-5.9-.4-8.8-.3c-3 .1-6 .5-8.9 1c-3 .5-6 1.2-8.9 1.9c-2.9 .7-5.8 1.6-8.7 2.5c-2.9 .9-5.7 1.9-8.6 2.9c-2.8 1-5.6 2-8.4 3c-2.8 1-5.6 2-8.5 2.9c-2.8 1-5.6 1.9-8.5 2.7c-2.8 .7-5.7 1.4-8.6 2c-2.9 .6-5.8 1.1-8.7 1.5c-2.9 .4-5.9 .6-8.8 .8c-3 .2-6 .4-8.9 .4c-3 0-6-0-9-.1c-3-.1-6-.3-8.9-.5c-3-.2-6-.5-9-.8c-2.9-.4-5.9-.7-8.8-1.1c-3-.5-5.9-.9-8.9-1.3c-3-.5-5.9-.9-8.8-1.4c-3-.5-5.9-.9-8.9-1.4c-2.9-.4-5.9-.8-8.8-1.3c-3-.4-5.9-.7-8.9-1.1c-2.9-.3-5.9-.6-8.8-.9c-3-.2-5.9-.5-8.9-.7c-3-.2-5.9-.4-8.9-.5c-3-.2-5.9-.3-8.9-.5c-3-.1-5.9-.2-8.9-.3c-3-0-6-.1-8.9-.1c-3-.1-6-.1-9-.2c-2.9 0-5.9-0-8.9 0c-3-0-6-0-8.9 0c-3-0-6-0-9 0c-3-0-5.9-0-8.9 0c-3-0-6-0-9 0c-3-0-5.9-.1-8.9-.1c-3 0-6-0-9-.1c-2.9-0-5.9-.1-8.9-.1c-3-.1-5.9-.2-8.9-.2c-3-.1-6-.2-8.9-.4c-3-.1-6-.2-9-.4c-2.9-.1-5.9-.3-8.9-.5c-2.9-.2-5.9-.4-8.9-.7c-2.9-.2-5.9-.5-8.8-.8c-3-.2-6-.6-8.9-.9c-3-.4-5.9-.7-8.9-1.1c-2.9-.4-5.9-.9-8.8-1.3c-2.9-.5-5.9-1-8.8-1.5c-2.9-.6-5.8-1.2-8.7-1.8c-2.9-.6-5.9-1.2-8.7-1.9c-2.9-.7-5.8-1.4-8.7-2.2c-2.9-.8-5.7-1.6-8.5-2.5c-2.9-.9-5.7-1.8-8.5-2.8c-2.8-.9-5.6-1.9-8.4-3c-2.8-1.1-5.6-2.2-8.3-3.4c-2.7-1.2-5.5-2.4-8.2-3.7c-2.7-1.3-5.4-2.6-8-4c-2.7-1.5-5.3-2.9-7.9-4.5c-2.5-1.5-5.1-3.1-7.5-4.9c-2.4-1.7-4.8-3.5-7.1-5.4c-2.2-1.9-4.4-3.9-6.5-6c-2-2.1-4-4.3-5.8-6.6c-1.8-2.4-3.5-4.8-4.9-7.4c-1.5-2.5-2.9-5.2-4-8c-1.2-2.7-2.1-5.6-2.9-8.5c-.7-2.8-1.2-5.8-1.5-8.7c-.3-3-.3-6-.2-8.9c.2-3 .5-6 1.1-8.9c.5-2.9 1.3-5.8 2.2-8.7c.9-2.8 2-5.6 3.3-8.3c1.2-2.8 2.6-5.4 4.1-8c1.5-2.6 3.1-5.1 4.9-7.5c1.8-2.5 3.6-4.8 5.6-7c2-2.2 4-4.4 6.2-6.4c2.2-2 4.4-3.9 6.8-5.7c2.3-1.8 4.8-3.5 7.2-5.2c2.5-1.6 5-3.2 7.5-4.7c2.6-1.6 5.2-3.1 7.7-4.6c2.6-1.6 5.2-3.1 7.7-4.7Z" stroke="#dd8452" stroke-width="4.7" fill="none" stroke-linejoin="round" stroke-linecap="round"/>
<path d="M668.3,1122.5c2.6-1.5 5.3-3 7.9-4.5c2.6-1.6 5.2-3.1 7.8-4.6c2.6-1.5 5.2-3 7.8-4.5c2.6-1.5 5.1-3 7.7-4.5c2.6-1.5 5.2-3 7.7-4.5c2.6-1.6 5.1-3.1 7.7-4.6c2.5-1.5 5.1-3.1 7.6-4.6c2.6-1.6 5.2-3.1 7.7-4.7c2.6-1.5 5.1-3.1 7.7-4.6c2.6-1.5 5.1-3.1 7.7-4.6c2.6-1.5 5.2-3 7.8-4.5c2.6-1.5 5.2-2.9 7.9-4.4c2.6-1.4 5.3-2.8 8-4.2c2.6-1.4 5.3-2.8 8-4.1c2.7-1.3 5.4-2.6 8.2-3.9c2.7-1.3 5.4-2.5 8.2-3.7c2.8-1.2 5.5-2.4 8.3-3.5c2.8-1.1 5.6-2.2 8.4-3.2c2.8-1 5.7-2 8.5-2.9c2.8-1 5.7-1.9 8.6-2.7c2.8-.8 5.7-1.6 8.6-2.3c2.9-.8 5.8-1.4 8.8-2.1c2.9-.6 5.8-1.1 8.8-1.6c2.9-.6 5.9-1 8.8-1.4c3-.4 5.9-.8 8.9-1.1c3-.3 6-.5 9-.7c3-.2 6-.4 9-.5c3-.1 6-.1 9-.1c3 0 6 .1 9 .2c3 .1 6 .2 8.9 .4c3 .2 6 .5 9 .7c3 .3 6 .7 9 1.1c2.9 .4 5.9 .8 8.9 1.2c2.9 .5 5.9 1 8.8 1.5c3 .5 6 1.1 8.9 1.6c3 .6 5.9 1.1 8.9 1.7c2.9 .5 5.9 1 8.8 1.5c3 .6 5.9 1.1 8.9 1.5c2.9 .5 5.9 .9 8.9 1.3c2.9 .3 5.9 .7 8.8 .9c3 .3 6 .5 9 .7c3 .1 6 .2 9 .1c3 0 6-.1 9-.2c3-.1 6-.3 9-.5c3.1-.1 6.1-.2 9.1-.2c3-.1 6-0 9 .1c3 .2 6 .4 8.9 .8c3 .3 6 .7 8.9 1.3c3 .5 5.9 1.1 8.8 1.9c2.9 .7 5.8 1.5 8.6 2.4c2.8 .9 5.7 1.9 8.5 3c2.8 1 5.6 2.2 8.4 3.4c2.7 1.1 5.4 2.4 8.2 3.7c2.7 1.2 5.3 2.6 8 4c2.7 1.3 5.3 2.8 7.9 4.2c2.7 1.4 5.3 2.9 7.9 4.3c2.6 1.5 5.2 3 7.8 4.5c2.6 1.5 5.2 3 7.8 4.6c2.5 1.5 5.2 3 7.7 4.5c2.6 1.5 5.2 3.1 7.8 4.6c2.5 1.6 5.1 3.2 7.6 4.8c2.5 1.7 5 3.4 7.4 5.1c2.4 1.8 4.8 3.6 7.1 5.5c2.3 1.9 4.5 3.8 6.7 5.9c2.2 2 4.3 4.1 6.4 6.3c2 2.1 4 4.4 6 6.7c1.9 2.3 3.7 4.6 5.5 7.1c1.8 2.4 3.5 4.9 5.1 7.4c1.7 2.5 3.2 5.1 4.7 7.7c1.5 2.6 2.9 5.3 4.3 8c1.3 2.7 2.6 5.4 3.7 8.2c1.2 2.7 2.3 5.5 3.3 8.4c1 2.8 1.9 5.7 2.8 8.5c.8 2.9 1.6 5.8 2.2 8.7c.7 2.9 1.3 5.9 1.8 8.8c.5 2.9 .9 5.9 1.2 8.9c.3 2.9 .6 5.9 .7 8.9c.2 3 .2 6 .2 9c-0 3-.1 6-.3 9c-.2 3-.5 6-1 8.9c-.4 3-.9 5.9-1.6 8.8c-.7 2.9-1.6 5.8-2.6 8.6c-1 2.8-2.2 5.6-3.5 8.3c-1.4 2.7-3 5.4-4.7 7.8c-1.8 2.5-3.7 5-5.8 7.1c-2.2 2.1-4.5 4.1-7 5.6c-2.5 1.5-5.3 2.8-8.1 3.6c-2.8 .9-5.8 1.3-8.7 1.3c-2.9-0-5.8-.5-8.6-1.5c-2.8-.9-5.5-2.5-8.1-4.1c-2.6-1.5-5.1-3.5-7.5-5.4c-2.4-1.9-4.7-3.8-6.9-5.8c-2.3-1.9-4.6-3.8-6.8-5.7c-2.3-1.9-4.6-3.8-6.9-5.6c-2.4-1.9-4.8-3.8-7.3-5.5c-2.5-1.8-5-3.5-7.7-4.8c-2.6-1.4-5.4-2.7-8.3-3.5c-2.8-.8-5.8-1.3-8.8-1.5c-2.9-.2-6-0-8.9 .4c-2.9 .4-5.8 1.1-8.6 2c-2.8 .8-5.6 2-8.4 3.1c-2.8 1.2-5.5 2.5-8.2 3.8c-2.8 1.3-5.5 2.7-8.3 3.9c-2.7 1.2-5.5 2.5-8.3 3.6c-2.8 1-5.7 1.9-8.5 2.7c-2.9 .7-5.8 1.3-8.8 1.8c-2.9 .5-5.9 .9-8.8 1.2c-3 .2-6 .4-9 .5c-3 0-6 0-9 0c-3-.1-6.1-.2-9.1-.4c-3-.2-5.9-.4-8.9-.7c-3-.2-6-.5-9-.8c-3-.3-6-.6-8.9-1c-3-.3-6-.6-8.9-1c-3-.3-6-.7-9-1c-3-.3-5.9-.6-8.9-.9c-3-.2-6-.5-9-.8c-3-.2-5.9-.5-8.9-.7c-3-.2-6-.5-9-.7c-3-.2-6-.4-9-.5c-3-.2-6-.4-9-.5c-3-.2-5.9-.3-8.9-.5c-3-.1-6-.2-9-.3c-3-.1-6-.2-9-.3c-3-0-6-.1-9-.2c-3-0-6-.1-9-.1c-3-0-6-0-9 0c-3-.1-6-.1-9-.1c-3 0-6 0-9 0c-3 0-6 0-8.9 0c-3 0-6-0-9 0c-3-0-6-0-9-.1c-3 0-6-0-9-.1c-3-0-6-.1-9-.2c-3-0-6-.1-9-.2c-3-.1-6-.2-9-.4c-3-.1-6-.3-9-.5c-3-.1-6-.4-9-.6c-3-.3-5.9-.6-8.9-.9c-3-.3-6-.7-8.9-1.2c-3-.4-5.9-.9-8.9-1.5c-2.9-.5-5.9-1.1-8.8-1.8c-2.9-.7-5.8-1.4-8.7-2.2c-2.9-.8-5.8-1.6-8.6-2.4c-2.9-.9-5.8-1.8-8.6-2.7c-2.9-.9-5.7-1.9-8.5-2.9c-2.9-1-5.7-2-8.5-3c-2.8-1-5.6-2.1-8.4-3.2c-2.8-1.2-5.5-2.3-8.3-3.6c-2.7-1.2-5.4-2.5-8-4c-2.7-1.4-5.3-2.8-7.9-4.4c-2.6-1.6-5.1-3.2-7.5-5c-2.5-1.8-4.8-3.6-7.1-5.6c-2.2-2-4.4-4-6.3-6.3c-2-2.2-3.8-4.5-5.4-7c-1.6-2.4-3.1-5-4.3-7.7c-1.2-2.8-2.2-5.7-3-8.6c-.7-2.9-1.2-6-1.5-9c-.2-3-.2-6.2 .1-9.2c.3-3 .8-6.1 1.7-8.9c.8-2.9 1.9-5.8 3.3-8.4c1.4-2.6 3-5 4.8-7.2c1.9-2.3 4-4.3 6.2-6.3c2.1-1.9 4.5-3.7 7-5.4c2.4-1.8 5-3.4 7.6-5c2.6-1.6 5.3-3.1 7.9-4.7Z" stroke="#dd8452" stroke-width="4.7" fill="none" stroke-linejoin="round" stroke-linecap="round"/>
<path d="M718.8,1116.5c2.8-1.1 5.6-2.3 8.3-3.4c2.8-1.2 5.6-2.3 8.3-3.5c2.8-1.2 5.5-2.4 8.3-3.7c2.7-1.2 5.4-2.5 8.2-3.7c2.7-1.3 5.4-2.6 8.1-3.9c2.6-1.4 5.3-2.7 8-4.1c2.6-1.4 5.3-2.8 8-4.1c2.6-1.4 5.3-2.8 8-4.1c2.7-1.4 5.3-2.7 8-4c2.8-1.3 5.5-2.6 8.2-3.8c2.8-1.2 5.5-2.4 8.3-3.5c2.8-1.1 5.6-2.2 8.4-3.2c2.9-1 5.7-1.9 8.6-2.8c2.8-.9 5.7-1.7 8.6-2.5c2.9-.8 5.8-1.5 8.7-2.2c3-.7 5.9-1.3 8.8-1.9c3-.5 6-1.1 8.9-1.5c3-.4 6-.8 9-1.1c2.9-.2 5.9-.4 8.9-.5c3-.2 6-.2 9-.1c3 0 6 .2 9 .3c3 .2 6 .5 9 .8c3 .2 6 .6 8.9 .9c3 .4 6 .8 9 1.2c3 .4 6 .8 8.9 1.2c3 .4 5.9 .8 8.9 1.2c3 .4 5.9 .8 8.9 1.2c3 .4 5.9 .8 8.9 1.1c3 .4 6 .8 8.9 1.1c3 .3 6 .6 9 1c3 .3 5.9 .6 8.9 .9c3 .2 6 .5 9 .8c3 .2 6 .5 9 .8c3 .2 6 .5 9 .8c3 .3 6 .6 9 .9c2.9 .3 5.9 .6 8.9 .9c3 .3 6 .7 9 1c2.9 .4 5.9 .8 8.9 1.2c3 .4 5.9 .9 8.9 1.4c2.9 .4 5.9 1 8.8 1.5c3 .5 5.9 1.1 8.8 1.7c2.9 .6 5.9 1.2 8.8 1.9c2.9 .7 5.8 1.3 8.7 2.1c2.9 .7 5.8 1.5 8.7 2.3c2.9 .8 5.8 1.6 8.6 2.4c2.9 .9 5.8 1.8 8.6 2.7c2.9 .9 5.7 1.9 8.6 2.8c2.8 1 5.7 2.1 8.5 3.1c2.8 1.1 5.6 2.2 8.4 3.3c2.8 1.1 5.6 2.3 8.4 3.5c2.8 1.2 5.5 2.4 8.2 3.8c2.8 1.3 5.4 2.6 8.1 4c2.7 1.4 5.3 2.9 7.8 4.4c2.6 1.5 5.1 3.1 7.6 4.8c2.5 1.7 4.9 3.4 7.2 5.2c2.4 1.8 4.7 3.7 6.9 5.6c2.3 2 4.4 4 6.5 6.2c2.1 2.1 4.1 4.3 6 6.6c1.9 2.3 3.8 4.7 5.5 7.1c1.8 2.5 3.4 5 5 7.6c1.6 2.6 3.2 5.2 4.6 7.9c1.4 2.6 2.8 5.4 4.1 8.1c1.2 2.8 2.4 5.5 3.5 8.3c1.1 2.8 2.1 5.7 3 8.5c.9 2.8 1.7 5.7 2.4 8.6c.6 2.9 1.2 5.8 1.5 8.8c.3 2.9 .6 5.9 .6 8.9c0 3-.1 6-.4 9c-.3 3-.8 6-1.4 8.9c-.5 2.9-1.3 5.8-2.2 8.7c-.9 2.8-1.8 5.7-3 8.4c-1.3 2.8-2.7 5.5-4.4 8.1c-1.7 2.5-3.7 5.1-5.9 7.1c-2.2 2-4.8 3.7-7.5 4.8c-2.6 1.1-5.6 1.7-8.4 1.7c-2.8-.1-5.7-1-8.4-2c-2.7-1.1-5.4-2.9-7.9-4.6c-2.6-1.7-5-3.8-7.4-5.7c-2.4-1.9-4.6-3.8-6.9-5.6c-2.3-1.9-4.6-3.8-6.9-5.6c-2.4-1.8-4.8-3.7-7.3-5.4c-2.5-1.7-5.2-3.4-7.8-4.7c-2.7-1.3-5.5-2.5-8.4-3.3c-2.8-.8-5.8-1.3-8.8-1.5c-3-.2-6-.1-8.9 .1c-3 .3-5.9 .8-8.8 1.4c-2.9 .7-5.8 1.5-8.6 2.4c-2.8 .9-5.7 2-8.5 3.1c-2.8 1.1-5.5 2.3-8.3 3.5c-2.8 1.2-5.6 2.4-8.4 3.7c-2.8 1.2-5.5 2.4-8.3 3.5c-2.8 1.2-5.7 2.3-8.5 3.2c-2.8 1-5.6 1.9-8.5 2.6c-2.9 .7-5.8 1.3-8.7 1.6c-2.9 .4-5.9 .6-8.9 .6c-3 0-6-.1-9-.4c-3-.2-6-.6-9-1.1c-3.1-.4-6.1-1-9.1-1.5c-2.9-.6-5.9-1.2-8.9-1.8c-2.9-.6-5.8-1.3-8.7-1.9c-2.9-.6-5.8-1.2-8.7-1.8c-2.9-.5-5.9-1-8.8-1.5c-3-.4-5.9-.8-8.9-1.1c-3-.3-6-.6-9-.8c-3-.2-6-.4-9-.5c-3-.1-6-.2-9.1-.2c-3-.1-6-0-9 0c-3-0-6 0-9 .1c-3 .1-6 .2-9 .3c-3 .1-6 .2-9 .3c-3 .1-5.9 .2-8.9 .3c-3 .1-6 .2-9 .3c-3 .1-6 .2-9 .2c-3 0-6 .1-9 .1c-3-0-6-0-9-.1c-3-0-6-.1-9-.2c-3-.1-6-.2-9-.3c-3-.2-6-.3-9-.5c-3-.1-6-.3-8.9-.5c-3-.3-6-.5-9-.7c-3-.3-6-.6-9-.9c-3-.3-6-.6-8.9-.9c-3-.3-6-.7-9-1c-3-.4-5.9-.8-8.9-1.2c-3-.4-6-.8-8.9-1.3c-3-.5-6-.9-8.9-1.4c-3-.5-5.9-1.1-8.9-1.6c-2.9-.6-5.9-1.2-8.8-1.8c-2.9-.7-5.9-1.3-8.8-2c-2.9-.7-5.8-1.5-8.7-2.2c-2.9-.8-5.8-1.7-8.6-2.5c-2.9-.9-5.8-1.8-8.6-2.7c-2.8-1-5.7-2-8.4-3.1c-2.8-1.1-5.5-2.3-8.2-3.7c-2.6-1.4-5.2-3-7.6-4.7c-2.4-1.8-4.7-3.8-6.8-6c-2.2-2.2-4.1-4.5-5.9-7c-1.8-2.5-3.3-5.1-4.6-7.8c-1.4-2.7-2.5-5.5-3.3-8.4c-.9-2.8-1.5-5.8-1.8-8.7c-.3-2.9-.4-5.9-.2-8.8c.2-3 .7-5.9 1.4-8.8c.8-2.9 1.8-5.8 3-8.5c1.3-2.8 2.8-5.5 4.4-8.1c1.6-2.5 3.5-5 5.5-7.3c2-2.2 4.2-4.4 6.4-6.3c2.3-2 4.8-3.7 7.2-5.3c2.5-1.6 5.2-3 7.8-4.3c2.7-1.3 5.4-2.5 8.2-3.7c2.7-1.2 5.5-2.3 8.3-3.5Z" stroke="#dd8452" stroke-width="4.7" fill="none" stroke-linejoin="round" stroke-linecap="round"/>
<path d="M772.4,1121c2.8-1 5.7-2 8.5-3.1c2.8-1 5.7-2.2 8.5-3.3c2.8-1.1 5.6-2.3 8.4-3.4c2.8-1.2 5.6-2.4 8.4-3.6c2.8-1.1 5.6-2.3 8.4-3.5c2.8-1.1 5.6-2.3 8.4-3.4c2.8-1.1 5.6-2.2 8.5-3.2c2.8-1 5.7-2 8.5-3c2.9-.9 5.8-1.8 8.7-2.6c2.9-.8 5.8-1.5 8.8-2.2c2.9-.6 5.9-1.2 8.8-1.7c3-.5 6-1 9-1.4c3-.4 6-.7 9-.9c3-.3 6.1-.5 9.1-.6c3-.2 6.1-.2 9.1-.3c3 0 6 .1 9.1 .2c3 .1 6 .3 9 .5c3 .2 6.1 .5 9.1 .8c3 .3 6 .6 8.9 1c3 .4 6 .9 9 1.3c3 .5 6 1 8.9 1.5c3 .6 6 1.1 9 1.6c2.9 .6 5.9 1.2 8.9 1.7c3 .6 5.9 1.2 8.9 1.7c3 .6 5.9 1.2 8.9 1.7c3 .6 6 1.1 8.9 1.7c3 .5 6 1 9 1.5c3 .6 5.9 1.1 8.9 1.6c3 .5 6 1 9 1.5c2.9 .5 5.9 1.1 8.9 1.6c3 .5 5.9 1 8.9 1.6c3 .5 6 1 8.9 1.6c3 .6 6 1.1 8.9 1.7c3 .6 6 1.2 8.9 1.9c3 .6 5.9 1.3 8.9 2c2.9 .6 5.9 1.3 8.8 2.1c2.9 .7 5.9 1.4 8.8 2.2c2.9 .8 5.8 1.6 8.7 2.4c2.9 .9 5.8 1.7 8.7 2.6c2.9 1 5.8 1.9 8.6 2.9c2.9 .9 5.7 1.9 8.6 3c2.8 1 5.7 2.1 8.5 3.2c2.8 1.1 5.6 2.2 8.4 3.4c2.7 1.2 5.5 2.5 8.3 3.7c2.7 1.3 5.4 2.7 8.1 4c2.7 1.4 5.4 2.9 8 4.4c2.6 1.4 5.2 3 7.8 4.6c2.5 1.6 5 3.3 7.5 5c2.5 1.8 4.9 3.5 7.2 5.4c2.4 1.9 4.7 3.8 7 5.9c2.2 2 4.5 4.1 6.5 6.3c2.1 2.2 4.1 4.5 5.9 6.9c1.7 2.5 3.2 5.1 4.5 7.9c1.3 2.7 2.4 5.6 3.3 8.5c.9 2.9 1.6 5.8 2.2 8.8c.5 3 .9 6 1 8.9c.2 3 .2 6-.1 9c-.2 3-.6 6-1.3 9c-.7 2.9-1.6 6-2.8 8.9c-1.2 2.8-2.5 5.8-4.4 8.1c-1.9 2.3-4.2 4.4-6.8 5.5c-2.7 1.1-6 1.3-8.9 1.2c-2.9-.2-5.9-1.2-8.6-2.3c-2.7-1.1-5.2-2.6-7.7-4.3c-2.5-1.7-4.8-3.8-7.1-5.8c-2.3-2-4.5-4.3-6.8-6.5c-2.2-2.1-4.4-4.5-6.7-6.5c-2.3-2-4.5-4-7-5.6c-2.5-1.6-5.1-3-7.8-3.8c-2.8-.8-5.9-1.2-8.9-1.2c-3 .1-6.2 .6-9.1 1.3c-2.9 .8-5.7 2-8.5 3.2c-2.8 1.2-5.4 2.8-8.1 4.2c-2.6 1.5-5.2 3.1-7.9 4.5c-2.7 1.5-5.4 2.9-8.1 4c-2.8 1.1-5.7 2-8.6 2.7c-2.9 .7-5.9 1-8.8 1.8c-3 .7-5.9 1.8-8.8 2.7c-2.9 .9-5.7 2-8.7 2.8c-2.9 .7-5.9 1.2-8.8 1.6c-3 .3-6 .4-9 .3c-3-0-6-.3-9-.6c-3-.4-6-.9-9-1.5c-2.9-.6-5.9-1.3-8.8-2.1c-3-.7-5.9-1.5-8.8-2.3c-2.9-.8-5.8-1.6-8.8-2.3c-2.9-.7-5.9-1.4-8.8-2c-3-.6-6-1-9-1.5c-3-.4-6-.7-9-1c-3-.2-6-.4-9.1-.5c-3-.2-6-.2-9-.2c-3-.1-6.1-0-9.1 .1c-3 0-6 .1-9.1 .3c-3 .1-6 .3-9 .4c-3 .2-6.1 .4-9.1 .6c-3 .2-6 .3-9 .5c-3 .2-6.1 .3-9.1 .5c-3 .1-6 .2-9 .2c-3.1 .1-6.1 .1-9.1 .1c-3-0-6.1-.1-9.1-.2c-3-.1-6-.3-9-.5c-3-.1-6.1-.3-9.1-.6c-3-.2-6-.4-9-.6c-3.1-.2-6.1-.5-9.1-.7c-3-.2-6-.4-9-.6c-3.1-.2-6.1-.4-9.1-.6c-3-.2-6-.4-9-.7c-3-.2-6-.5-9.1-.8c-3-.3-6-.6-9-1c-3-.4-6-.8-9-1.2c-3-.5-6-.9-8.9-1.4c-3-.5-6-1.1-9-1.6c-2.9-.6-5.9-1.2-8.8-1.9c-3-.7-5.9-1.4-8.8-2.3c-2.9-.8-5.7-1.8-8.5-2.9c-2.8-1.1-5.6-2.3-8.3-3.8c-2.7-1.4-5.3-3-7.8-4.8c-2.5-1.7-4.9-3.7-7.1-5.8c-2.1-2.1-4.2-4.4-5.9-6.8c-1.6-2.4-3.1-5.1-4.2-7.8c-1.1-2.8-1.9-5.7-2.4-8.7c-.4-3-.5-6.1-.4-9.2c.2-3 .7-6.1 1.5-9.1c.8-2.9 1.9-5.8 3.3-8.5c1.3-2.7 3-5.2 4.9-7.5c1.8-2.3 4-4.4 6.3-6.4c2.2-1.9 4.7-3.7 7.3-5.4c2.5-1.6 5.2-3.1 8-4.4c2.7-1.4 5.5-2.5 8.3-3.6c2.8-1.2 5.6-2.1 8.5-3.1c2.8-1 5.7-1.9 8.6-2.8c2.9-.9 5.7-1.8 8.6-2.8Z" stroke="#dd8452" stroke-width="4.7" fill="none" stroke-linejoin="round" stroke-linecap="round"/>
<path d="M830.5,1119.7c2.9-1.2 5.8-2.3 8.8-3.4c3-1 5.9-2 9-2.9c3-.9 6-1.7 9.1-2.5c3-.7 6.1-1.4 9.2-1.9c3.1-.6 6.2-1.1 9.3-1.5c3.2-.4 6.3-.7 9.4-1c3.1-.2 6.3-.3 9.4-.4c3.2-.1 6.3-.1 9.4 0c3.2 .1 6.3 .2 9.4 .4c3.2 .2 6.3 .5 9.5 .8c3.1 .4 6.2 .8 9.3 1.2c3.1 .4 6.2 .9 9.3 1.4c3.1 .6 6.2 1.1 9.3 1.7c3.1 .6 6.2 1.3 9.2 1.9c3.1 .7 6.2 1.4 9.2 2.1c3.1 .8 6.1 1.5 9.2 2.2c3 .8 6.1 1.6 9.1 2.4c3.1 .7 6.1 1.5 9.2 2.3c3 .8 6 1.6 9.1 2.4c3 .8 6.1 1.6 9.1 2.3c3.1 .8 6.1 1.6 9.2 2.3c3 .8 6.1 1.5 9.2 2.2c3 .7 6.1 1.4 9.2 2c3.1 .7 6.2 1.3 9.2 2c3.1 .6 6.2 1.2 9.3 1.9c3 .7 6.1 1.4 9.1 2.1c3.1 .8 6.1 1.6 9.1 2.5c3 .8 6 1.8 8.9 2.8c3 1.1 5.9 2.2 8.8 3.5c2.9 1.3 5.7 2.7 8.5 4.2c2.8 1.4 5.5 3 8.2 4.7c2.7 1.7 5.4 3.5 7.9 5.4c2.5 1.9 5.1 3.8 7.2 6c2 2.3 4 4.8 5.2 7.7c1.1 2.8 1.9 6.3 1.7 9.4c-.2 3.1-1.2 6.4-2.8 9c-1.5 2.6-4 4.9-6.6 6.6c-2.6 1.8-6 2.4-8.9 3.8c-2.8 1.4-5.5 2.9-8.1 4.7c-2.5 1.8-4.7 4-7 6.2c-2.3 2.1-4.5 4.5-6.8 6.6c-2.3 2.1-4.8 4.2-7.3 5.9c-2.6 1.8-5.3 3.5-8.1 4.8c-2.8 1.3-5.8 2.4-8.8 3.1c-3 .7-6.2 1.1-9.3 1.2c-3.2 .1-6.4-.1-9.6-.5c-3.1-.3-6.3-1-9.3-1.7c-3.1-.7-6-1.6-9.1-2.4c-3-.9-5.9-1.9-8.9-2.8c-3-.8-6-1.7-9.1-2.5c-3-.8-6.1-1.6-9.2-2.2c-3.1-.7-6.2-1.3-9.3-1.8c-3.1-.5-6.2-.9-9.4-1.2c-3.1-.4-6.2-.6-9.3-.8c-3.2-.2-6.3-.3-9.4-.4c-3.1 0-6.3 0-9.4 .1c-3.1 .1-6.3 .2-9.4 .4c-3.1 .1-6.3 .3-9.4 .6c-3.2 .2-6.3 .5-9.4 .8c-3.2 .3-6.3 .6-9.5 1c-3.1 .3-6.2 .7-9.4 1c-3.1 .3-6.2 .7-9.4 1c-3.1 .3-6.3 .6-9.4 .9c-3.1 .3-6.3 .5-9.4 .7c-3.1 .2-6.2 .4-9.4 .5c-3.1 .1-6.2 .2-9.3 .1c-3.2 0-6.3-.1-9.4-.2c-3.1-.2-6.2-.5-9.3-.8c-3.1-.4-6.2-.8-9.3-1.3c-3.1-.6-6.2-1.2-9.3-2c-3.1-.7-6.2-1.5-9.3-2.2c-3.1-.8-6.2-1.6-9.2-2.3c-3.1-.8-6.2-1.5-9.2-2.2c-3.1-.8-6.1-1.5-9.1-2.3c-3-.9-6-1.8-8.9-2.9c-2.9-1-5.8-2.3-8.6-3.7c-2.8-1.4-5.6-2.9-8.2-4.6c-2.7-1.7-5.3-3.6-7.7-5.6c-2.5-2.1-5-4.2-7-6.6c-1.9-2.5-3.8-5.1-4.7-8c-1-2.9-1.4-6.5-1.1-9.5c.4-3 1.6-6 3.2-8.5c1.6-2.6 3.9-4.9 6.2-6.9c2.4-2.1 5.2-3.9 7.9-5.6c2.8-1.7 5.6-3.2 8.4-4.6c2.8-1.5 5.6-2.8 8.4-4.2c2.8-1.3 5.7-2.6 8.5-4c2.8-1.3 5.6-2.7 8.4-4.2c2.7-1.4 5.5-2.9 8.3-4.3c2.8-1.5 5.6-2.9 8.4-4.3c2.8-1.5 5.6-2.9 8.5-4.2c2.8-1.4 5.7-2.7 8.6-3.9Z" stroke="#dd8452" stroke-width="4.7" fill="none" stroke-linejoin="round" stroke-linecap="round"/></g>
<g clip-path="url(#ct)"><path d="M232.2,248c2-.3 4-.6 6-.9c2-.3 4-.6 6-.9c2-.3 4-.5 6-.8c2-.3 4-.5 6-.8c2-.3 4-.6 6-.9c2-.3 4-.5 6-.8c2-.3 4-.5 6-.8c2-.3 4-.5 6-.8c2-.3 4-.6 6-.9c2-.3 4-.5 6-.8c2-.3 4-.6 6-.9c2-.3 4-.7 6-1c2-.3 4-.6 6-.9c2-.3 4-.7 6-1c2-.3 4-.7 6-1c2-.3 4-.7 6-1.1c2-.4 4-.8 6-1.1c2-.3 4-.7 6-1c2-.3 4-.8 6-1.1c2-.3 4-.6 6-.9c2-.3 4-.6 6-.9c2-.3 4-.6 6-.8c2-.2 4-.4 6-.6c2-.2 4-.4 6-.5c2-.1 4-.2 6-.3c2-.1 4-.1 6-.1c2 0 4 .1 6 .2c2 .1 4 .2 6 .3c2 .1 4 .4 6 .5c2 .1 4 .2 6 .3c2 .1 4 .2 6 .2c2 0 4-.1 6-.2c2-.2 4-.4 6-.7c2-.3 4-.7 6-1.2c2-.5 4-1.1 6-1.7c2-.6 4-1.3 6-2c2-.7 4-1.4 6-2.2c2-.8 4-1.6 6-2.3c2-.8 4-1.5 6-2.2c2-.7 4-1.4 6-2.1c2-.7 4-1.4 6-2c2-.6 4-1.2 6-1.8c2-.6 4-1.2 6-1.8c2-.6 4-1.2 6-1.7c2-.5 4-1 6-1.5c2-.5 4-1.1 6-1.6c2-.5 4-1 6-1.5c2-.5 4-.9 6-1.4c2-.5 4-1 6-1.5c2-.5 4-1 6-1.5c2-.5 4-.9 6-1.4c2-.5 4-1 6-1.5c2-.5 4-1.1 6-1.6c2-.5 4-1 6-1.6c2-.6 4-1.2 6-1.8c2-.6 4-1.1 6-1.8c2-.7 4-1.4 6-2.1c2-.7 4-1.4 6-2.2c2-.8 4-1.6 6-2.4c2-.8 4-1.7 6-2.6c2-.9 4-1.9 6-2.9c2-1 4-2 6-3.1c2-1.1 4-2.3 6-3.5c2-1.2 4-2.4 6-3.6c2-1.2 4-2.5 6-3.7c2-1.2 4-2.5 6-3.7c2-1.2 4-2.4 6-3.6c2-1.2 4-2.3 6-3.4c2-1.1 4-2.1 6-3.1c2-1 4-1.9 6-2.8c2-.9 4-1.8 6-2.6c2-.8 4-1.6 6-2.4c2-.8 4-1.5 6-2.3c2-.8 4-1.5 6-2.2c2-.7 4-1.5 6-2.2c2-.7 4-1.4 6-2.1c2-.7 4-1.5 6-2.2c2-.7 4-1.4 6-2.2c2-.8 4-1.7 6-2.5c2-.8 4-1.7 6-2.6c2-.9 4-1.8 6-2.8c2-1 4-2.1 6-3.1c2-1 4-2.1 6-3.1c2-1 4-2.2 6-3.2c2-1 4-2.1 6-3.1c2-1 4-2.1 6-3.1c2-1 4-2 6-2.9c2-.9 4-1.8 6-2.7c2-.9 4-1.8 6-2.6c2-.8 4-1.5 6-2.3c2-.8 4-1.5 6-2.2c2-.7 4-1.5 6-2.1c2-.7 4-1.2 6-1.8c2-.6 4-1.2 6-1.7c2-.5 4-1 6-1.5c2-.5 4-.9 6-1.3c2-.4 4-.8 6-1.1c2-.3 4-.7 6-1c2-.3 4-.7 6-1c2-.3 4-.7 6-1.1c2-.4 4-.7 6-1.2c2-.5 4-1 6-1.5c2-.5 4-1.2 6-1.8c2-.7 4-1.4 6-2.1c2-.7 4-1.5 6-2.2c2-.7 4-1.4 6-2.1c2-.7 4-1.4 6-2c2-.6 4-1.1 6-1.6c2-.5 4-1 6-1.3c2-.4 4-.6 6-.8c2-.2 4-.3 6-.4c2-.1 4-.1 6-.1c2 0 4 0 6 .1c2 .1 4 .2 6 .4c2 .1 4 .3 6 .5c2 .2 4 .5 6 .7c2 .2 4 .5 6 .7c2 .2 4 .5 6 .7c2 .2 4 .5 6 .7c2 .2 4 .4 6 .6c2 .2 4 .3 6 .5c2 .2 4 .3 6 .4c2 .1 4 .2 6 .3c2 .1 4 .1 6 .1c2 0 4 .1 6 .1c2 0 4 0 6 0c2 0 4 0 6 0c2 0 4 0 6 0c2-0 4-.1 6-.1c2-0 4 0 6 0c2-0 4-.1 6-.1c2 0 4 .1 6 .1c2 0 4 0 6 .1c2 0 4 .1 6 .2c2 .1 4 .2 6 .4c2 .2 4 .3 6 .6c2 .2 4 .6 6 .9c2 .3 4 .6 6 1.1c2 .5 4 1 6 1.6c2 .6 4 1.2 6 1.9c2 .7 4 1.4 6 2.3c2 .9 4 1.9 6 2.9c2 1 4 2.1 6 3.3c2 1.2 4 2.3 6 3.6c2 1.2 4 2.6 6 3.9c2 1.3 4 2.6 6 3.9c2 1.3 4 2.7 6 4c2 1.3 4 2.6 6 3.9c2 1.2 4 2.5 6 3.6c2 1.1 4 2.2 6 3.2c2 1 4 1.8 6 2.5c2 .7 4 1.2 6 1.6c2 .4 4 .6 6 .6c2 0 4-.2 6-.6c2-.4 4-1.1 6-1.8c2-.7 4-1.6 6-2.5c2-.9 4-1.9 6-2.8c2-1 4-2 6-2.9c2-.9 4-1.8 6-2.5c2-.7 4-1.4 6-1.8c2-.4 4-.7 6-.8c2-.1 4 0 6 .4c2 .4 4 1.1 6 2c2 .9 4 2.1 6 3.6c2 1.5 4 3.4 6 5.6c2 2.2 4 4.8 6 7.7c2 2.9 4 6.1 6 9.6c2 3.5 4 7.3 6 11.2c2 3.9 4 7.9 6 12c2 4.1 4 8.3 6 12.5c2 4.2 4 8.4 6 12.4c2 4 4 8 6 11.8c2 3.8 4 7.4 6 10.9c2 3.5 4 6.8 6 9.9c2 3.1 4 6.1 6 8.8c2 2.7 4 5.3 6 7.6c2 2.3 4 4.4 6 6.2c2 1.8 4 3.5 6 4.9c2 1.4 4 2.5 6 3.5c2 1 4 1.8 6 2.5c2 .7 4 1.3 6 1.8c2 .5 4 1 6 1.4c2 .4 4 .7 6 1.1c2 .4 4 .9 6 1.4c2 .5 4 1 6 1.7c2 .7 4 1.6 6 2.4" stroke="#dd8452" stroke-width="4.7" fill="none" stroke-linejoin="round" stroke-linecap="round"/>
<path d="M232.2,248.6c2-.6 4-1.2 6-1.7c2-.5 4-1 6-1.3c2-.3 4-.5 6-.8c2-.2 4-.5 6-.7c2-.2 4-.4 6-.5c2-.1 4-.2 6-.3c2-.1 4-.2 6-.4c2-.2 4-.3 6-.5c2-.2 4-.3 6-.5c2-.2 4-.4 6-.6c2-.2 4-.4 6-.6c2-.2 4-.4 6-.7c2-.3 4-.6 6-.9c2-.3 4-.5 6-.8c2-.3 4-.7 6-1c2-.3 4-.7 6-1.1c2-.4 4-.8 6-1.1c2-.3 4-.7 6-1c2-.3 4-.7 6-1c2-.3 4-.6 6-.9c2-.3 4-.6 6-.8c2-.2 4-.4 6-.6c2-.2 4-.3 6-.4c2-.1 4-.3 6-.4c2-.1 4-.3 6-.4c2-.1 4-.2 6-.3c2-.1 4-.3 6-.5c2-.2 4-.4 6-.6c2-.2 4-.4 6-.7c2-.3 4-.7 6-1c2-.3 4-.7 6-1.1c2-.4 4-.9 6-1.4c2-.5 4-1.1 6-1.7c2-.6 4-1.3 6-2c2-.7 4-1.4 6-2.2c2-.8 4-1.6 6-2.4c2-.8 4-1.7 6-2.5c2-.8 4-1.7 6-2.6c2-.9 4-1.8 6-2.6c2-.8 4-1.7 6-2.5c2-.8 4-1.7 6-2.5c2-.8 4-1.6 6-2.4c2-.8 4-1.6 6-2.4c2-.8 4-1.6 6-2.4c2-.8 4-1.5 6-2.3c2-.8 4-1.6 6-2.4c2-.8 4-1.5 6-2.3c2-.8 4-1.6 6-2.4c2-.8 4-1.5 6-2.3c2-.8 4-1.6 6-2.4c2-.8 4-1.6 6-2.4c2-.8 4-1.6 6-2.4c2-.8 4-1.6 6-2.4c2-.8 4-1.7 6-2.5c2-.8 4-1.7 6-2.5c2-.8 4-1.8 6-2.6c2-.8 4-1.6 6-2.5c2-.9 4-1.8 6-2.7c2-.9 4-1.8 6-2.7c2-.9 4-1.8 6-2.7c2-.9 4-1.9 6-2.8c2-.9 4-1.9 6-2.8c2-.9 4-1.9 6-2.9c2-1 4-1.9 6-2.9c2-1 4-2 6-3c2-1 4-1.9 6-2.9c2-1 4-2 6-2.9c2-.9 4-1.9 6-2.8c2-.9 4-1.9 6-2.8c2-.9 4-1.8 6-2.7c2-.9 4-1.7 6-2.5c2-.8 4-1.6 6-2.4c2-.8 4-1.6 6-2.3c2-.7 4-1.4 6-2c2-.6 4-1.2 6-1.8c2-.6 4-1.2 6-1.8c2-.6 4-1 6-1.6c2-.5 4-1.1 6-1.7c2-.6 4-1.2 6-1.8c2-.6 4-1.3 6-2c2-.7 4-1.4 6-2.2c2-.8 4-1.6 6-2.4c2-.8 4-1.7 6-2.6c2-.9 4-1.9 6-2.8c2-.9 4-1.9 6-2.8c2-.9 4-1.8 6-2.8c2-1 4-2 6-2.9c2-.9 4-1.8 6-2.7c2-.9 4-1.8 6-2.6c2-.8 4-1.6 6-2.4c2-.8 4-1.5 6-2.2c2-.7 4-1.2 6-1.8c2-.5 4-1 6-1.5c2-.5 4-.8 6-1.2c2-.4 4-.8 6-1.1c2-.3 4-.6 6-.9c2-.3 4-.5 6-.8c2-.3 4-.5 6-.8c2-.3 4-.5 6-.8c2-.3 4-.5 6-.8c2-.2 4-.5 6-.7c2-.2 4-.4 6-.6c2-.2 4-.4 6-.6c2-.2 4-.4 6-.6c2-.2 4-.3 6-.5c2-.2 4-.3 6-.5c2-.2 4-.3 6-.4c2-.1 4-.2 6-.3c2-.1 4-.2 6-.3c2-.1 4-.1 6-.2c2-.1 4-.1 6-.2c2-0 4-.1 6-.1c2-0 4-0 6 0c2 0 4 .1 6 .1c2 0 4 0 6 .1c2 0 4 .1 6 .2c2 .1 4 .2 6 .3c2 .1 4 .2 6 .3c2 .1 4 .3 6 .5c2 .2 4 .3 6 .5c2 .2 4 .5 6 .7c2 .2 4 .5 6 .7c2 .2 4 .5 6 .8c2 .3 4 .5 6 .8c2 .3 4 .7 6 1c2 .3 4 .6 6 .9c2 .3 4 .7 6 1c2 .3 4 .8 6 1.1c2 .3 4 .7 6 1c2 .3 4 .7 6 1.1c2 .4 4 .7 6 1.1c2 .4 4 .7 6 1.1c2 .4 4 .7 6 1.1c2 .4 4 .7 6 1.1c2 .4 4 .8 6 1.2c2 .4 4 .9 6 1.3c2 .4 4 .8 6 1.3c2 .5 4 1.1 6 1.6c2 .5 4 1.1 6 1.7c2 .6 4 1.1 6 1.8c2 .7 4 1.4 6 2.1c2 .7 4 1.5 6 2.3c2 .8 4 1.6 6 2.5c2 .9 4 1.9 6 2.8c2 .9 4 1.8 6 2.8c2 1 4 1.9 6 2.9c2 1 4 2 6 3c2 1 4 2 6 3c2 1 4 2 6 2.9c2 .9 4 1.8 6 2.7c2 .9 4 1.7 6 2.5c2 .8 4 1.5 6 2.1c2 .6 4 1.1 6 1.6c2 .5 4 .9 6 1.2c2 .3 4 .4 6 .6c2 .2 4 .3 6 .4c2 .1 4 .1 6 .2c2 .1 4 .1 6 .2c2 .1 4 .2 6 .4c2 .2 4 .5 6 .8c2 .3 4 .7 6 1.3c2 .6 4 1.3 6 2.1c2 .8 4 1.7 6 2.8c2 1.1 4 2.4 6 3.9c2 1.5 4 3.2 6 5.1c2 1.9 4 4.1 6 6.5c2 2.4 4 5 6 7.7c2 2.7 4 5.6 6 8.6c2 3 4 6.1 6 9.2c2 3.1 4 6.3 6 9.4c2 3.1 4 6.2 6 9.2c2 3 4 6 6 8.8c2 2.8 4 5.5 6 8.1c2 2.6 4 5 6 7.3c2 2.3 4 4.5 6 6.5c2 2 4 3.9 6 5.6c2 1.7 4 3.2 6 4.6c2 1.4 4 2.5 6 3.6c2 1.1 4 1.9 6 2.7c2 .8 4 1.3 6 1.9c2 .6 4 1.1 6 1.5c2 .4 4 .7 6 1c2 .3 4 .7 6 1c2 .3 4 .7 6 1.1c2 .4 4 .8 6 1.4c2 .6 4 1.3 6 1.9" stroke="#4c72b0" stroke-width="4.7" fill="none" stroke-linejoin="round" stroke-linecap="round"/></g>
<g clip-path="url(#cr)"><path d="M1416.4,356.2c.1 2 .2 4 .4 6c.2 2 .3 4 .5 6c.2 2 .3 4 .4 6c.1 2 .3 4 .4 6c.1 2 .2 4 .3 6c.1 2 .3 4 .4 6c.1 2 .2 4 .3 6c.1 2 .3 4 .4 6c.1 2 .2 4 .3 6c.1 2 .2 4 .3 6c.1 2 .2 4 .3 6c.1 2 .1 4 .2 6c.1 2 .2 4 .3 6c.1 2 .1 4 .2 6c.1 2 .2 4 .3 6c.1 2 .1 4 .2 6c.1 2 .1 4 .2 6c.1 2 .2 4 .3 6c.1 2 .1 4 .2 6c.1 2 .1 4 .2 6c.1 2 .1 4 .2 6c.1 2 .1 4 .2 6c.1 2 .1 4 .2 6c.1 2 .1 4 .2 6c.1 2 .2 4 .3 6c.1 2 .1 4 .2 6c.1 2 .1 4 .2 6c.1 2 .1 4 .2 6c.1 2 .2 4 .3 6c.1 2 .1 4 .2 6c.1 2 .2 4 .3 6c.1 2 .1 4 .2 6c.1 2 .2 4 .3 6c.1 2 .2 4 .3 6c.1 2 .2 4 .3 6c.1 2 .1 4 .2 6c.1 2 .3 4 .4 6c.1 2 .2 4 .3 6c.1 2 .2 4 .3 6c.1 2 .2 4 .3 6c.1 2 .2 4 .3 6c.1 2 .3 4 .4 6c.1 2 .2 4 .3 6c.1 2 .3 4 .4 6c.1 2 .2 4 .3 6c.1 2 .3 4 .4 6c.1 2 .2 4 .3 6c.1 2 .3 4 .4 6c.1 2 .3 4 .4 6c.1 2 .2 4 .3 6c.1 2 .3 4 .4 6c.1 2 .3 4 .4 6c.1 2 .3 4 .4 6c.1 2 .2 4 .3 6c.1 2 .3 4 .4 6c.1 2 .3 4 .4 6c.1 2 .3 4 .4 6c.1 2 .3 4 .4 6c.1 2 .3 4 .4 6c.1 2 .3 4 .4 6c.1 2 .2 4 .3 6c.1 2 .3 4 .4 6c.1 2 .3 4 .4 6c.1 2 .2 4 .4 6c.2 2 .3 4 .5 6c.2 2 .3 4 .4 6c.1 2 .2 4 .4 6c.2 2 .3 4 .5 6c.2 2 .2 4 .4 6c.2 2 .3 4 .5 6c.2 2 .2 4 .4 6c.2 2 .3 4 .5 6c.2 2 .3 4 .5 6c.2 2 .4 4 .6 6c.2 2 .3 4 .5 6c.2 2 .4 4 .6 6c.2 2 .4 4 .6 6c.2 2 .4 4 .6 6c.2 2 .4 4 .6 6c.2 2 .4 4 .6 6c.2 2 .5 4 .7 6c.2 2 .5 4 .7 6c.2 2 .5 4 .7 6c.2 2 .5 4 .8 6c.3 2 .5 4 .8 6c.3 2 .5 4 .8 6c.3 2 .5 4 .8 6c.3 2 .6 4 .9 6c.3 2 .7 4 1 6c.3 2 .7 4 1.1 6c.4 2 .8 4 1.2 6c.4 2 .9 4 1.4 6c.5 2 1 4 1.6 6c.6 2 1.2 4 1.8 6c.6 2 1.3 4 2 6c.7 2 1.4 4 2.2 6c.8 2 1.6 4 2.4 6c.8 2 1.6 4 2.4 6c.8 2 1.7 4 2.6 6c.9 2 1.7 4 2.6 6c.9 2 1.7 4 2.6 6c.9 2 1.8 4 2.6 6c.8 2 1.7 4 2.5 6c.8 2 1.8 4 2.6 6c.8 2 1.7 4 2.5 6c.8 2 1.7 4 2.6 6c.9 2 1.7 4 2.6 6c.9 2 1.8 4 2.7 6c.9 2 1.8 4 2.7 6c.9 2 1.9 4 2.8 6c.9 2 1.8 4 2.8 6c1 2 1.9 4 2.9 6c1 2 2.1 4 3.1 6c1 2 2 4 3.1 6c1 2 2.1 4 3.2 6c1.1 2 2.2 4 3.4 6c1.2 2 2.3 4 3.5 6c1.2 2 2.3 4 3.5 6c1.2 2 2.5 4 3.8 6c1.3 2 2.5 4 3.8 6c1.3 2 2.6 4 3.9 6c1.3 2 2.7 4 4.1 6c1.4 2 2.8 4 4.2 6c1.4 2 2.9 4 4.4 6c1.5 2 3 4 4.5 6c1.5 2 3.1 4 4.6 6c1.5 2 3.1 4 4.7 6c1.6 2 3.2 4 4.8 6c1.6 2 3.2 4 4.7 6c1.5 2 3.1 4 4.6 6c1.5 2 3 4 4.4 6c1.4 2 2.8 4 4.1 6c1.3 2 2.6 4 3.8 6c1.2 2 2.3 4 3.3 6c1 2 1.9 4 2.7 6c.8 2 1.6 4 2.2 6c.6 2 1.1 4 1.5 6c.4 2 .7 4 .8 6c.1 2 .1 4 0 6c-.1 2-.4 4-.8 6c-.4 2-.9 4-1.5 6c-.6 2-1.4 4-2.3 6c-.9 2-1.9 4-3 6c-1.1 2-2.4 4-3.8 6c-1.4 2-2.9 4-4.5 6c-1.6 2-3.4 4-5.3 6c-1.9 2-3.9 4-6 6c-2.1 2-4.4 4-6.7 6c-2.3 2-4.7 4-7.2 6c-2.5 2-5 4-7.6 6c-2.6 2-5.2 4-7.8 6c-2.6 2-5.2 4-7.9 6c-2.7 2-5.5 4-8.2 6c-2.8 2-5.5 4-8.3 6c-2.8 2-5.7 4-8.6 6c-2.9 2-5.8 4-8.6 6c-2.8 2-5.7 4-8.5 6c-2.8 2-5.6 4-8.3 6c-2.7 2-5.5 4-8.1 6c-2.6 2-5.1 4-7.6 6c-2.5 2-4.9 4-7.2 6c-2.3 2-4.5 4-6.5 6c-2 2-4 4-5.8 6c-1.8 2-3.6 4-5.3 6c-1.7 2-3.2 4-4.6 6c-1.4 2-2.8 4-4 6c-1.2 2-2.5 4-3.5 6c-1 2-1.9 4-2.8 6c-.9 2-1.7 4-2.4 6c-.7 2-1.3 4-1.9 6c-.5 2-1 4-1.4 6c-.4 2-.9 4-1.2 6c-.3 2-.6 4-.9 6c-.2 2-.4 4-.6 6c-.2 2-.3 4-.5 6c-.2 2-.3 4-.4 6c-.1 2-.3 4-.4 6c-.1 2-.2 4-.4 6c-.2 2-.3 4-.5 6c-.2 2-.4 4-.6 6c-.2 2-.6 4-.9 6c-.3 2-.7 4-1.1 6c-.4 2-1 4-1.5 6" stroke="#dd8452" stroke-width="4.7" fill="none" stroke-linejoin="round" stroke-linecap="round"/>
<path d="M1416.3,308.1c.2 2 .3 4 .5 6c.2 2 .3 4 .5 6c.2 2 .3 4 .5 6c.2 2 .3 4 .5 6c.2 2 .3 4 .4 6c.1 2 .2 4 .4 6c.2 2 .3 4 .5 6c.2 2 .3 4 .4 6c.1 2 .3 4 .4 6c.1 2 .2 4 .3 6c.1 2 .3 4 .4 6c.1 2 .3 4 .4 6c.1 2 .2 4 .3 6c.1 2 .3 4 .4 6c.1 2 .2 4 .3 6c.1 2 .2 4 .3 6c.1 2 .3 4 .4 6c.1 2 .2 4 .3 6c.1 2 .2 4 .3 6c.1 2 .2 4 .3 6c.1 2 .2 4 .3 6c.1 2 .2 4 .3 6c.1 2 .2 4 .3 6c.1 2 .2 4 .3 6c.1 2 .2 4 .3 6c.1 2 .2 4 .3 6c.1 2 .2 4 .3 6c.1 2 .2 4 .3 6c.1 2 .1 4 .2 6c.1 2 .2 4 .3 6c.1 2 .2 4 .3 6c.1 2 .2 4 .3 6c.1 2 .2 4 .3 6c.1 2 .2 4 .3 6c.1 2 .3 4 .4 6c.1 2 .2 4 .3 6c.1 2 .2 4 .3 6c.1 2 .2 4 .3 6c.1 2 .3 4 .4 6c.1 2 .2 4 .3 6c.1 2 .2 4 .3 6c.1 2 .3 4 .4 6c.1 2 .2 4 .3 6c.1 2 .3 4 .4 6c.1 2 .3 4 .4 6c.1 2 .2 4 .3 6c.1 2 .3 4 .4 6c.1 2 .3 4 .4 6c.1 2 .3 4 .4 6c.1 2 .2 4 .3 6c.1 2 .3 4 .4 6c.1 2 .3 4 .4 6c.1 2 .3 4 .4 6c.1 2 .3 4 .4 6c.1 2 .3 4 .4 6c.1 2 .2 4 .4 6c.2 2 .3 4 .5 6c.2 2 .3 4 .4 6c.1 2 .3 4 .4 6c.1 2 .3 4 .4 6c.1 2 .2 4 .4 6c.2 2 .3 4 .5 6c.2 2 .2 4 .4 6c.2 2 .3 4 .5 6c.2 2 .2 4 .4 6c.2 2 .3 4 .5 6c.2 2 .2 4 .4 6c.2 2 .3 4 .5 6c.2 2 .3 4 .5 6c.2 2 .2 4 .4 6c.2 2 .3 4 .5 6c.2 2 .3 4 .5 6c.2 2 .4 4 .6 6c.2 2 .3 4 .5 6c.2 2 .3 4 .5 6c.2 2 .4 4 .6 6c.2 2 .4 4 .6 6c.2 2 .4 4 .6 6c.2 2 .4 4 .6 6c.2 2 .4 4 .6 6c.2 2 .4 4 .6 6c.2 2 .5 4 .7 6c.2 2 .5 4 .7 6c.2 2 .5 4 .7 6c.2 2 .5 4 .7 6c.2 2 .4 4 .7 6c.2 2 .5 4 .8 6c.3 2 .5 4 .8 6c.3 2 .5 4 .8 6c.3 2 .6 4 .9 6c.3 2 .5 4 .8 6c.3 2 .6 4 .9 6c.3 2 .7 4 1 6c.3 2 .7 4 1 6c.3 2 .7 4 1.1 6c.4 2 .8 4 1.2 6c.4 2 .8 4 1.2 6c.4 2 .9 4 1.4 6c.5 2 1 4 1.5 6c.5 2 1 4 1.6 6c.6 2 1.2 4 1.8 6c.6 2 1.2 4 1.9 6c.7 2 1.4 4 2.1 6c.7 2 1.4 4 2.2 6c.8 2 1.6 4 2.4 6c.8 2 1.8 4 2.7 6c.9 2 1.8 4 2.8 6c1 2 2 4 3 6c1 2 2.2 4 3.3 6c1.1 2 2.2 4 3.3 6c1.1 2 2.3 4 3.5 6c1.2 2 2.4 4 3.6 6c1.2 2 2.5 4 3.7 6c1.2 2 2.5 4 3.8 6c1.3 2 2.5 4 3.8 6c1.3 2 2.6 4 3.9 6c1.3 2 2.5 4 3.8 6c1.3 2 2.6 4 3.9 6c1.3 2 2.6 4 3.8 6c1.2 2 2.5 4 3.7 6c1.2 2 2.4 4 3.6 6c1.2 2 2.3 4 3.4 6c1.1 2 2.2 4 3.2 6c1 2 2 4 2.9 6c.9 2 1.8 4 2.7 6c.9 2 1.7 4 2.5 6c.8 2 1.5 4 2.3 6c.8 2 1.5 4 2.3 6c.8 2 1.5 4 2.2 6c.8 2 1.5 4 2.3 6c.8 2 1.5 4 2.3 6c.8 2 1.7 4 2.5 6c.8 2 1.7 4 2.5 6c.8 2 1.6 4 2.4 6c.8 2 1.6 4 2.4 6c.8 2 1.4 4 2.1 6c.7 2 1.4 4 2 6c.6 2 1 4 1.5 6c.5 2 .9 4 1.2 6c.3 2 .6 4 .7 6c.1 2 .2 4 .1 6c-.1 2-.2 4-.5 6c-.3 2-.7 4-1.1 6c-.5 2-1 4-1.6 6c-.6 2-1.4 4-2.2 6c-.8 2-1.7 4-2.7 6c-1 2-2.1 4-3.3 6c-1.2 2-2.4 4-3.7 6c-1.3 2-2.7 4-4.2 6c-1.5 2-3.1 4-4.7 6c-1.6 2-3.3 4-5.1 6c-1.8 2-3.7 4-5.6 6c-1.9 2-3.9 4-5.9 6c-2 2-4.2 4-6.3 6c-2.1 2-4.3 4-6.5 6c-2.2 2-4.5 4-6.7 6c-2.2 2-4.4 4-6.7 6c-2.2 2-4.6 4-6.8 6c-2.2 2-4.5 4-6.7 6c-2.2 2-4.3 4-6.5 6c-2.2 2-4.4 4-6.5 6c-2.1 2-4.2 4-6.2 6c-2 2-4 4-6 6c-2 2-3.9 4-5.8 6c-1.9 2-3.8 4-5.6 6c-1.8 2-3.6 4-5.3 6c-1.7 2-3.3 4-4.9 6c-1.6 2-3.2 4-4.7 6c-1.5 2-2.9 4-4.3 6c-1.4 2-2.7 4-3.9 6c-1.2 2-2.4 4-3.5 6c-1.1 2-2.1 4-3.1 6c-1 2-1.9 4-2.7 6c-.8 2-1.5 4-2.2 6c-.7 2-1.2 4-1.7 6c-.5 2-1 4-1.4 6c-.4 2-.7 4-1 6c-.3 2-.6 4-.8 6c-.2 2-.4 4-.5 6c-.1 2-.2 4-.3 6c-.1 2-.2 4-.2 6c-0 2-.1 4-.1 6c-0 2 0 4 0 6c-0 2-.1 4-.1 6c-0 2-0 4-.1 6c-0 2-.1 4-.2 6c-.1 2-.2 4-.4 6c-.2 2-.4 4-.6 6c-.2 2-.5 4-.8 6c-.3 2-.8 4-1.2 6c-.5 2-1 4-1.5 6" stroke="#4c72b0" stroke-width="4.7" fill="none" stroke-linejoin="round" stroke-linecap="round"/></g>
<path d="M210,296.9V1470.6M210,1470.6H1367.4M210,244.9H1367.4M1419.1,296.9V1470.6" stroke="#cccccc" stroke-width="4.2" fill="none" stroke-linecap="square"/>
<text x="366.9" y="1535" font-size="44.1" text-anchor="middle">0.0</text>
<text x="535.7" y="1535" font-size="44.1" text-anchor="middle">0.2</text>
<text x="704.5" y="1535" font-size="44.1" text-anchor="middle">0.4</text>
<text x="873.3" y="1535" font-size="44.1" text-anchor="middle">0.6</text>
<text x="1042.1" y="1535" font-size="44.1" text-anchor="middle">0.8</text>
<text x="1210.9" y="1535" font-size="44.1" text-anchor="middle">1.0</text>
<text x="177.5" y="1399.2" font-size="44.1" text-anchor="end">0</text>
<text x="177.5" y="1161.4" font-size="44.1" text-anchor="end">10</text>
<text x="177.5" y="923.6" font-size="44.1" text-anchor="end">20</text>
<text x="177.5" y="685.8" font-size="44.1" text-anchor="end">30</text>
<text x="177.5" y="448" font-size="44.1" text-anchor="end">40</text>
<text x="788.7" y="1593" font-size="48.1" text-anchor="middle">Accuracy</text>
<text transform="translate(93.5,883.7) rotate(-90)" font-size="48.1" text-anchor="middle"># Statements</text>
<rect x="1041.3" y="318.8" width="304.2" height="205.8" rx="8.5" ry="8.5" fill="#fff" fill-opacity="0.8" stroke="#cccccc" stroke-opacity="0.8" stroke-width="3.3"/>
<text x="1193.3" y="371.9" font-size="48.1" text-anchor="middle">Model</text>
<path d="M1058.8,420H1146.9" stroke="#4c72b0" stroke-width="4.4" stroke-linecap="round"/>
<path d="M1058.8,483.1H1146.9" stroke="#dd8452" stroke-width="4.4" stroke-linecap="round"/>
<text x="1182" y="435.2" font-size="44.1">origin</text>
<text x="1182" y="499" font-size="44.1">RLFH</text>
</svg></body></html>
